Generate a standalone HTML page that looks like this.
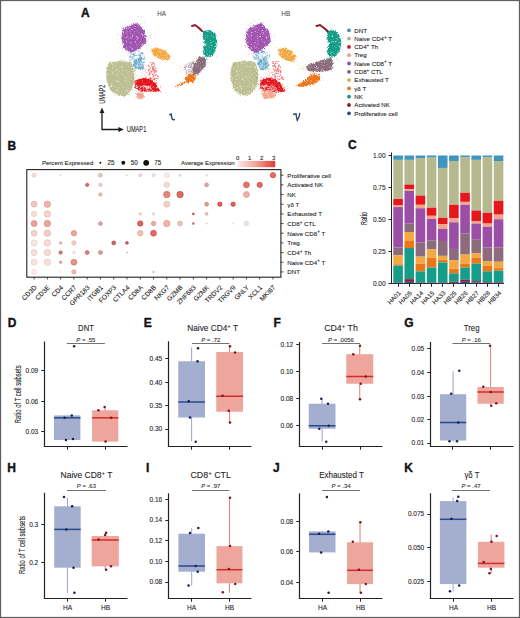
<!DOCTYPE html>
<html><head><meta charset="utf-8"><style>html,body{margin:0;padding:0;background:#fff;width:520px;height:618px;overflow:hidden;position:relative} svg,text{font-family:"Liberation Sans",sans-serif} text{stroke:#333;stroke-width:0.1px}</style></head><body>
<svg width="520" height="618" viewBox="0 0 520 618" style="position:absolute;left:0;top:0">
<rect x="0" y="0" width="520" height="618" fill="#fff"/>
<text x="80.89999999999999" y="17.3" font-size="12" text-anchor="start" font-weight="bold" fill="#111" style="stroke:#111;stroke-width:0.35px">A</text>
<text x="7.3999999999999995" y="149.6" font-size="12" text-anchor="start" font-weight="bold" fill="#111" style="stroke:#111;stroke-width:0.35px">B</text>
<text x="347.90000000000003" y="149.1" font-size="12" text-anchor="start" font-weight="bold" fill="#111" style="stroke:#111;stroke-width:0.35px">C</text>
<text x="7.8" y="326.6" font-size="12" text-anchor="start" font-weight="bold" fill="#111" style="stroke:#111;stroke-width:0.35px">D</text>
<text x="143.8" y="326.6" font-size="12" text-anchor="start" font-weight="bold" fill="#111" style="stroke:#111;stroke-width:0.35px">E</text>
<text x="273.6" y="326.6" font-size="12" text-anchor="start" font-weight="bold" fill="#111" style="stroke:#111;stroke-width:0.35px">F</text>
<text x="404.2" y="326.70000000000005" font-size="12" text-anchor="start" font-weight="bold" fill="#111" style="stroke:#111;stroke-width:0.35px">G</text>
<text x="7.3" y="471.6" font-size="12" text-anchor="start" font-weight="bold" fill="#111" style="stroke:#111;stroke-width:0.35px">H</text>
<text x="146.0" y="471.6" font-size="12" text-anchor="start" font-weight="bold" fill="#111" style="stroke:#111;stroke-width:0.35px">I</text>
<text x="273.0" y="471.6" font-size="12" text-anchor="start" font-weight="bold" fill="#111" style="stroke:#111;stroke-width:0.35px">J</text>
<text x="404.3" y="471.6" font-size="12" text-anchor="start" font-weight="bold" fill="#111" style="stroke:#111;stroke-width:0.35px">K</text>
<text x="161.5" y="15.6" font-size="6.8" text-anchor="middle" font-weight="normal" fill="#3a3a3a" textLength="8.7" lengthAdjust="spacingAndGlyphs" style="stroke:none">HA</text>
<text x="285.8" y="15.6" font-size="6.8" text-anchor="middle" font-weight="normal" fill="#3a3a3a" textLength="9" lengthAdjust="spacingAndGlyphs" style="stroke:none">HB</text>
<circle cx="349" cy="30.30" r="1.9" fill="#4a8eb4"/>
<text x="354.3" y="32.55" font-size="6.15" text-anchor="start" font-weight="normal" fill="#1a1a1a" >DNT</text>
<circle cx="349" cy="38.60" r="1.9" fill="#a8b08c"/>
<text x="354.3" y="40.85" font-size="6.15" text-anchor="start" font-weight="normal" fill="#1a1a1a" >Naive CD4<tspan dy="-2.3" font-size="4.6">+</tspan><tspan dy="2.3"> T</tspan></text>
<circle cx="349" cy="46.90" r="1.9" fill="#c81a2a"/>
<text x="354.3" y="49.150000000000006" font-size="6.15" text-anchor="start" font-weight="normal" fill="#1a1a1a" >CD4<tspan dy="-2.3" font-size="4.6">+</tspan><tspan dy="2.3"> Th</tspan></text>
<circle cx="349" cy="55.20" r="1.9" fill="#e9a088"/>
<text x="354.3" y="57.45" font-size="6.15" text-anchor="start" font-weight="normal" fill="#1a1a1a" >Treg</text>
<circle cx="349" cy="63.50" r="1.9" fill="#9850a0"/>
<text x="354.3" y="65.75" font-size="6.15" text-anchor="start" font-weight="normal" fill="#1a1a1a" >Naive CD8<tspan dy="-2.3" font-size="4.6">+</tspan><tspan dy="2.3"> T</tspan></text>
<circle cx="349" cy="71.80" r="1.9" fill="#7f6577"/>
<text x="354.3" y="74.05" font-size="6.15" text-anchor="start" font-weight="normal" fill="#1a1a1a" >CD8<tspan dy="-2.3" font-size="4.6">+</tspan><tspan dy="2.3"> CTL</tspan></text>
<circle cx="349" cy="80.10" r="1.9" fill="#e3a650"/>
<text x="354.3" y="82.35000000000001" font-size="6.15" text-anchor="start" font-weight="normal" fill="#1a1a1a" >Exhausted T</text>
<circle cx="349" cy="88.40" r="1.9" fill="#de7a28"/>
<text x="354.3" y="90.65" font-size="6.15" text-anchor="start" font-weight="normal" fill="#1a1a1a" >&#947;&#948; T</text>
<circle cx="349" cy="96.70" r="1.9" fill="#1f9686"/>
<text x="354.3" y="98.95" font-size="6.15" text-anchor="start" font-weight="normal" fill="#1a1a1a" >NK</text>
<circle cx="349" cy="105.00" r="1.9" fill="#8a1f2a"/>
<text x="354.3" y="107.25" font-size="6.15" text-anchor="start" font-weight="normal" fill="#1a1a1a" >Activated NK</text>
<circle cx="349" cy="113.30" r="1.9" fill="#2d4f8a"/>
<text x="354.3" y="115.55" font-size="6.15" text-anchor="start" font-weight="normal" fill="#1a1a1a" >Proliferative cell</text>
<path d="M102 111 L102 129.5 L120 129.5" fill="none" stroke="#1a1a1a" stroke-width="1.3"/>
<path d="M102 107.6 L99.6 113 L104.4 113 Z" fill="#1a1a1a"/>
<path d="M123.8 129.5 L118.4 127.1 L118.4 131.9 Z" fill="#1a1a1a"/>
<text x="0" y="0" font-size="8.6" text-anchor="start" font-weight="normal" fill="#222" transform="translate(105.3,103.7) rotate(-90)" textLength="19" lengthAdjust="spacingAndGlyphs">UMAP2</text>
<text x="126.8" y="132.2" font-size="8.6" text-anchor="start" font-weight="normal" fill="#222" textLength="19.5" lengthAdjust="spacingAndGlyphs">UMAP1</text>
<defs><filter id="fz" x="-30%" y="-30%" width="160%" height="160%"><feTurbulence type="fractalNoise" baseFrequency="1.1" numOctaves="2" seed="4" result="n"/><feDisplacementMap in="SourceGraphic" in2="n" scale="3.5" xChannelSelector="R" yChannelSelector="G" result="d"/><feTurbulence type="fractalNoise" baseFrequency="1.8" numOctaves="1" seed="9" result="n2"/><feColorMatrix in="n2" type="matrix" values="0 0 0 0 0  0 0 0 0 0  0 0 0 0 0  0 0 0 3.5 -0.5" result="m"/><feComposite in="d" in2="m" operator="in" result="c"/><feGaussianBlur in="c" stdDeviation="0.3"/></filter><filter id="fb"><feGaussianBlur stdDeviation="0.3"/></filter></defs>
<path d="M123,28.8 L137,22.5 L144.6,31 L146.5,42 L139,49 L131,53 L124,48 L121.5,40 Z" fill="#a255b0" filter="url(#fz)"/>
<g fill="#a255b0" opacity="0.75"><circle cx="132.7" cy="39.6" r="0.45"/><circle cx="146.0" cy="36.4" r="0.45"/><circle cx="134.3" cy="40.6" r="0.45"/><circle cx="125.3" cy="38.0" r="0.45"/><circle cx="137.7" cy="47.6" r="0.45"/><circle cx="122.7" cy="30.8" r="0.45"/><circle cx="122.6" cy="48.1" r="0.45"/><circle cx="138.4" cy="41.5" r="0.45"/><circle cx="134.9" cy="22.5" r="0.45"/><circle cx="125.4" cy="28.8" r="0.45"/><circle cx="120.9" cy="36.3" r="0.45"/><circle cx="132.4" cy="49.3" r="0.45"/><circle cx="134.6" cy="42.4" r="0.45"/><circle cx="134.1" cy="43.1" r="0.45"/><circle cx="132.9" cy="30.0" r="0.45"/><circle cx="143.6" cy="44.7" r="0.45"/><circle cx="128.9" cy="28.3" r="0.45"/><circle cx="141.5" cy="34.2" r="0.45"/><circle cx="143.8" cy="33.7" r="0.45"/><circle cx="145.6" cy="36.5" r="0.45"/><circle cx="122.1" cy="42.0" r="0.45"/><circle cx="141.9" cy="29.7" r="0.45"/><circle cx="122.5" cy="31.8" r="0.45"/><circle cx="123.4" cy="28.9" r="0.45"/><circle cx="142.4" cy="26.6" r="0.45"/><circle cx="135.7" cy="35.8" r="0.45"/><circle cx="125.4" cy="45.5" r="0.45"/><circle cx="123.7" cy="42.5" r="0.45"/><circle cx="123.3" cy="34.9" r="0.45"/><circle cx="126.0" cy="29.7" r="0.45"/><circle cx="128.6" cy="50.7" r="0.45"/><circle cx="126.0" cy="34.0" r="0.45"/><circle cx="144.0" cy="42.4" r="0.45"/><circle cx="126.1" cy="29.3" r="0.45"/><circle cx="141.7" cy="31.7" r="0.45"/><circle cx="122.6" cy="40.4" r="0.45"/><circle cx="126.9" cy="41.0" r="0.45"/><circle cx="130.5" cy="36.0" r="0.45"/><circle cx="146.9" cy="37.0" r="0.45"/><circle cx="136.2" cy="50.1" r="0.45"/><circle cx="127.1" cy="27.0" r="0.45"/><circle cx="144.8" cy="41.1" r="0.45"/><circle cx="131.9" cy="24.0" r="0.45"/><circle cx="126.8" cy="44.6" r="0.45"/><circle cx="127.3" cy="48.6" r="0.45"/><circle cx="136.8" cy="30.5" r="0.45"/><circle cx="125.0" cy="45.1" r="0.45"/><circle cx="122.0" cy="28.3" r="0.45"/><circle cx="135.7" cy="49.6" r="0.45"/><circle cx="137.3" cy="30.1" r="0.45"/><circle cx="125.0" cy="33.1" r="0.45"/><circle cx="136.1" cy="25.0" r="0.45"/><circle cx="130.2" cy="50.9" r="0.45"/><circle cx="139.4" cy="40.4" r="0.45"/><circle cx="133.6" cy="45.4" r="0.45"/><circle cx="122.2" cy="39.1" r="0.45"/><circle cx="140.7" cy="44.5" r="0.45"/><circle cx="129.9" cy="43.9" r="0.45"/><circle cx="131.8" cy="47.5" r="0.45"/><circle cx="144.3" cy="40.1" r="0.45"/></g>
<g fill="#a255b0" opacity="0.55"><circle cx="138.7" cy="32.0" r="0.4"/><circle cx="137.2" cy="41.8" r="0.4"/><circle cx="119.4" cy="43.1" r="0.4"/><circle cx="142.4" cy="32.3" r="0.4"/><circle cx="142.6" cy="40.6" r="0.4"/><circle cx="132.2" cy="51.8" r="0.4"/><circle cx="119.5" cy="47.9" r="0.4"/><circle cx="117.6" cy="41.5" r="0.4"/><circle cx="133.6" cy="25.4" r="0.4"/><circle cx="141.3" cy="37.0" r="0.4"/><circle cx="127.2" cy="44.8" r="0.4"/><circle cx="123.7" cy="22.8" r="0.4"/><circle cx="148.7" cy="44.0" r="0.4"/><circle cx="132.2" cy="54.1" r="0.4"/><circle cx="128.1" cy="44.3" r="0.4"/><circle cx="123.6" cy="34.1" r="0.4"/><circle cx="147.8" cy="32.1" r="0.4"/><circle cx="137.2" cy="29.2" r="0.4"/><circle cx="121.4" cy="37.0" r="0.4"/><circle cx="126.4" cy="22.8" r="0.4"/><circle cx="132.5" cy="27.4" r="0.4"/><circle cx="124.1" cy="33.4" r="0.4"/><circle cx="138.7" cy="36.8" r="0.4"/><circle cx="127.7" cy="51.8" r="0.4"/><circle cx="141.7" cy="40.2" r="0.4"/><circle cx="127.5" cy="49.7" r="0.4"/><circle cx="146.0" cy="25.7" r="0.4"/><circle cx="138.9" cy="34.8" r="0.4"/><circle cx="138.9" cy="43.8" r="0.4"/><circle cx="140.8" cy="24.1" r="0.4"/><circle cx="133.4" cy="23.2" r="0.4"/><circle cx="141.9" cy="23.2" r="0.4"/><circle cx="126.2" cy="30.4" r="0.4"/><circle cx="141.3" cy="38.0" r="0.4"/><circle cx="138.3" cy="48.2" r="0.4"/><circle cx="130.5" cy="49.7" r="0.4"/><circle cx="121.1" cy="35.1" r="0.4"/><circle cx="129.9" cy="40.1" r="0.4"/><circle cx="150.1" cy="35.5" r="0.4"/><circle cx="139.7" cy="24.3" r="0.4"/><circle cx="142.2" cy="50.9" r="0.4"/><circle cx="139.3" cy="46.5" r="0.4"/><circle cx="124.1" cy="54.4" r="0.4"/><circle cx="135.6" cy="49.7" r="0.4"/><circle cx="127.9" cy="54.9" r="0.4"/><circle cx="146.9" cy="30.5" r="0.4"/><circle cx="119.5" cy="34.5" r="0.4"/><circle cx="136.1" cy="48.7" r="0.4"/><circle cx="144.9" cy="22.9" r="0.4"/><circle cx="128.4" cy="49.6" r="0.4"/><circle cx="134.9" cy="46.8" r="0.4"/><circle cx="146.4" cy="45.3" r="0.4"/><circle cx="150.1" cy="36.8" r="0.4"/><circle cx="124.4" cy="38.3" r="0.4"/><circle cx="126.8" cy="47.0" r="0.4"/><circle cx="139.2" cy="38.1" r="0.4"/><circle cx="146.5" cy="39.7" r="0.4"/><circle cx="127.6" cy="32.0" r="0.4"/><circle cx="123.9" cy="52.3" r="0.4"/><circle cx="150.9" cy="38.2" r="0.4"/><circle cx="136.9" cy="24.2" r="0.4"/><circle cx="135.6" cy="37.2" r="0.4"/><circle cx="138.0" cy="16.7" r="0.4"/><circle cx="150.9" cy="37.8" r="0.4"/><circle cx="130.8" cy="50.1" r="0.4"/><circle cx="136.5" cy="36.7" r="0.4"/><circle cx="141.1" cy="18.3" r="0.4"/><circle cx="135.7" cy="33.4" r="0.4"/><circle cx="126.1" cy="35.9" r="0.4"/><circle cx="121.0" cy="34.2" r="0.4"/><circle cx="133.5" cy="29.2" r="0.4"/><circle cx="123.3" cy="42.2" r="0.4"/></g>
<path d="M109,62.5 L122,60.5 L131,62 L134.3,70 L134.3,84 L130,92 L125,96.5 L117,95.5 L110,90 L106.5,80 L106,70 Z" fill="#bcbf92" filter="url(#fz)"/>
<g fill="#bcbf92" opacity="0.75"><circle cx="133.1" cy="64.1" r="0.45"/><circle cx="110.8" cy="67.9" r="0.45"/><circle cx="125.8" cy="71.6" r="0.45"/><circle cx="115.7" cy="83.2" r="0.45"/><circle cx="108.0" cy="87.5" r="0.45"/><circle cx="108.6" cy="78.9" r="0.45"/><circle cx="112.5" cy="66.8" r="0.45"/><circle cx="121.1" cy="76.0" r="0.45"/><circle cx="116.3" cy="75.1" r="0.45"/><circle cx="121.0" cy="65.3" r="0.45"/><circle cx="111.1" cy="83.6" r="0.45"/><circle cx="124.4" cy="79.7" r="0.45"/><circle cx="130.9" cy="82.8" r="0.45"/><circle cx="131.0" cy="68.1" r="0.45"/><circle cx="127.5" cy="90.6" r="0.45"/><circle cx="132.4" cy="71.3" r="0.45"/><circle cx="114.5" cy="94.9" r="0.45"/><circle cx="132.0" cy="64.3" r="0.45"/><circle cx="112.2" cy="87.3" r="0.45"/><circle cx="112.8" cy="62.8" r="0.45"/><circle cx="130.3" cy="75.5" r="0.45"/><circle cx="129.0" cy="64.0" r="0.45"/><circle cx="117.2" cy="85.7" r="0.45"/><circle cx="125.7" cy="94.5" r="0.45"/><circle cx="120.3" cy="88.5" r="0.45"/><circle cx="120.2" cy="85.7" r="0.45"/><circle cx="110.6" cy="61.8" r="0.45"/><circle cx="121.7" cy="79.1" r="0.45"/><circle cx="122.2" cy="64.8" r="0.45"/><circle cx="110.5" cy="67.0" r="0.45"/><circle cx="119.0" cy="88.8" r="0.45"/><circle cx="114.8" cy="77.2" r="0.45"/><circle cx="120.6" cy="75.8" r="0.45"/><circle cx="123.2" cy="59.6" r="0.45"/><circle cx="126.3" cy="91.9" r="0.45"/><circle cx="110.4" cy="76.7" r="0.45"/><circle cx="127.4" cy="74.8" r="0.45"/><circle cx="110.8" cy="65.5" r="0.45"/><circle cx="120.5" cy="59.7" r="0.45"/><circle cx="132.1" cy="90.2" r="0.45"/><circle cx="126.4" cy="92.5" r="0.45"/><circle cx="124.1" cy="74.8" r="0.45"/><circle cx="123.2" cy="78.7" r="0.45"/><circle cx="127.6" cy="89.3" r="0.45"/><circle cx="129.7" cy="74.8" r="0.45"/><circle cx="126.1" cy="88.9" r="0.45"/><circle cx="128.2" cy="74.8" r="0.45"/><circle cx="126.9" cy="61.8" r="0.45"/><circle cx="115.3" cy="77.3" r="0.45"/><circle cx="105.2" cy="72.9" r="0.45"/><circle cx="124.4" cy="83.3" r="0.45"/><circle cx="125.2" cy="72.2" r="0.45"/><circle cx="125.0" cy="81.2" r="0.45"/><circle cx="121.1" cy="74.2" r="0.45"/><circle cx="135.4" cy="84.0" r="0.45"/><circle cx="126.3" cy="88.7" r="0.45"/><circle cx="123.7" cy="87.8" r="0.45"/><circle cx="112.7" cy="74.7" r="0.45"/><circle cx="106.4" cy="66.7" r="0.45"/><circle cx="116.3" cy="62.9" r="0.45"/></g>
<g fill="#bcbf92" opacity="0.55"><circle cx="122.0" cy="78.9" r="0.4"/><circle cx="138.3" cy="81.9" r="0.4"/><circle cx="139.4" cy="85.4" r="0.4"/><circle cx="132.1" cy="57.5" r="0.4"/><circle cx="123.8" cy="91.4" r="0.4"/><circle cx="106.7" cy="77.1" r="0.4"/><circle cx="107.1" cy="78.3" r="0.4"/><circle cx="124.4" cy="56.6" r="0.4"/><circle cx="137.4" cy="74.6" r="0.4"/><circle cx="121.1" cy="83.4" r="0.4"/><circle cx="114.8" cy="67.9" r="0.4"/><circle cx="126.1" cy="81.5" r="0.4"/><circle cx="111.6" cy="89.3" r="0.4"/><circle cx="110.1" cy="55.8" r="0.4"/><circle cx="106.6" cy="91.2" r="0.4"/><circle cx="115.7" cy="98.3" r="0.4"/><circle cx="129.7" cy="56.2" r="0.4"/><circle cx="117.3" cy="77.4" r="0.4"/><circle cx="138.5" cy="65.8" r="0.4"/><circle cx="120.9" cy="100.2" r="0.4"/><circle cx="128.7" cy="76.9" r="0.4"/><circle cx="124.1" cy="59.4" r="0.4"/><circle cx="124.9" cy="76.3" r="0.4"/><circle cx="108.5" cy="56.3" r="0.4"/><circle cx="121.1" cy="59.9" r="0.4"/><circle cx="117.8" cy="86.9" r="0.4"/><circle cx="118.3" cy="66.7" r="0.4"/><circle cx="123.2" cy="74.5" r="0.4"/><circle cx="130.9" cy="80.0" r="0.4"/><circle cx="129.2" cy="65.5" r="0.4"/><circle cx="131.1" cy="84.7" r="0.4"/><circle cx="114.5" cy="67.2" r="0.4"/><circle cx="127.3" cy="81.7" r="0.4"/><circle cx="123.6" cy="85.1" r="0.4"/><circle cx="129.9" cy="63.1" r="0.4"/><circle cx="111.1" cy="74.8" r="0.4"/><circle cx="124.8" cy="58.8" r="0.4"/><circle cx="121.7" cy="57.3" r="0.4"/><circle cx="103.9" cy="87.3" r="0.4"/><circle cx="122.0" cy="85.0" r="0.4"/><circle cx="115.1" cy="77.5" r="0.4"/><circle cx="108.7" cy="70.8" r="0.4"/><circle cx="129.6" cy="95.3" r="0.4"/><circle cx="103.4" cy="59.6" r="0.4"/><circle cx="132.1" cy="84.7" r="0.4"/><circle cx="130.5" cy="64.3" r="0.4"/><circle cx="117.1" cy="66.5" r="0.4"/><circle cx="132.1" cy="72.0" r="0.4"/><circle cx="126.0" cy="102.8" r="0.4"/><circle cx="113.2" cy="80.9" r="0.4"/><circle cx="129.6" cy="99.4" r="0.4"/><circle cx="117.2" cy="72.0" r="0.4"/><circle cx="122.5" cy="77.8" r="0.4"/><circle cx="127.3" cy="68.5" r="0.4"/><circle cx="130.8" cy="57.5" r="0.4"/><circle cx="108.8" cy="86.6" r="0.4"/><circle cx="103.7" cy="68.8" r="0.4"/><circle cx="128.8" cy="88.2" r="0.4"/><circle cx="111.6" cy="60.8" r="0.4"/><circle cx="114.5" cy="89.7" r="0.4"/><circle cx="114.8" cy="59.5" r="0.4"/><circle cx="128.2" cy="82.0" r="0.4"/><circle cx="136.2" cy="75.4" r="0.4"/><circle cx="131.9" cy="68.8" r="0.4"/><circle cx="112.9" cy="73.5" r="0.4"/><circle cx="110.2" cy="71.6" r="0.4"/><circle cx="114.8" cy="71.7" r="0.4"/><circle cx="116.0" cy="72.9" r="0.4"/><circle cx="108.1" cy="81.7" r="0.4"/><circle cx="131.6" cy="80.5" r="0.4"/><circle cx="133.2" cy="81.6" r="0.4"/><circle cx="107.4" cy="91.4" r="0.4"/></g>
<path d="M135.5,80 L146,77.5 L155,82 L160.5,91.5 L150,92 L140,91.5 L135,88 Z" fill="#e5161c" filter="url(#fz)"/>
<g fill="#e5161c" opacity="0.75"><circle cx="134.3" cy="84.8" r="0.45"/><circle cx="149.2" cy="85.7" r="0.45"/><circle cx="149.3" cy="89.3" r="0.45"/><circle cx="154.7" cy="91.1" r="0.45"/><circle cx="136.1" cy="86.8" r="0.45"/><circle cx="137.8" cy="88.6" r="0.45"/><circle cx="152.2" cy="80.5" r="0.45"/><circle cx="140.0" cy="88.9" r="0.45"/><circle cx="148.6" cy="88.9" r="0.45"/><circle cx="144.9" cy="82.0" r="0.45"/><circle cx="147.8" cy="85.2" r="0.45"/><circle cx="154.3" cy="88.0" r="0.45"/><circle cx="157.3" cy="87.3" r="0.45"/><circle cx="158.1" cy="89.6" r="0.45"/><circle cx="157.5" cy="90.9" r="0.45"/><circle cx="148.6" cy="88.0" r="0.45"/><circle cx="156.6" cy="83.3" r="0.45"/><circle cx="145.7" cy="78.8" r="0.45"/><circle cx="144.4" cy="79.2" r="0.45"/><circle cx="139.5" cy="83.4" r="0.45"/><circle cx="142.0" cy="92.2" r="0.45"/><circle cx="135.4" cy="81.5" r="0.45"/><circle cx="137.0" cy="87.0" r="0.45"/><circle cx="135.5" cy="83.9" r="0.45"/><circle cx="150.4" cy="91.2" r="0.45"/><circle cx="139.0" cy="80.0" r="0.45"/><circle cx="140.4" cy="88.1" r="0.45"/><circle cx="150.7" cy="80.1" r="0.45"/><circle cx="139.0" cy="81.0" r="0.45"/><circle cx="138.6" cy="88.8" r="0.45"/><circle cx="142.6" cy="85.4" r="0.45"/><circle cx="157.0" cy="84.3" r="0.45"/><circle cx="141.1" cy="90.9" r="0.45"/><circle cx="149.3" cy="92.0" r="0.45"/><circle cx="147.5" cy="80.1" r="0.45"/><circle cx="156.6" cy="82.7" r="0.45"/><circle cx="148.7" cy="84.8" r="0.45"/><circle cx="152.5" cy="80.3" r="0.45"/><circle cx="134.0" cy="84.1" r="0.45"/><circle cx="144.3" cy="89.4" r="0.45"/><circle cx="154.1" cy="86.3" r="0.45"/><circle cx="138.2" cy="79.0" r="0.45"/><circle cx="142.9" cy="80.7" r="0.45"/><circle cx="151.9" cy="92.6" r="0.45"/><circle cx="141.3" cy="85.2" r="0.45"/><circle cx="138.0" cy="89.0" r="0.45"/><circle cx="157.8" cy="89.8" r="0.45"/><circle cx="136.0" cy="80.9" r="0.45"/><circle cx="147.4" cy="84.1" r="0.45"/><circle cx="156.2" cy="83.2" r="0.45"/></g>
<g fill="#e5161c" opacity="0.55"><circle cx="150.1" cy="84.7" r="0.4"/><circle cx="136.1" cy="91.0" r="0.4"/><circle cx="141.7" cy="80.3" r="0.4"/><circle cx="133.1" cy="80.2" r="0.4"/><circle cx="147.3" cy="88.6" r="0.4"/><circle cx="143.4" cy="88.0" r="0.4"/><circle cx="134.2" cy="82.0" r="0.4"/><circle cx="147.1" cy="93.8" r="0.4"/><circle cx="160.4" cy="87.4" r="0.4"/><circle cx="130.8" cy="81.7" r="0.4"/><circle cx="150.8" cy="83.3" r="0.4"/><circle cx="152.7" cy="79.9" r="0.4"/><circle cx="144.0" cy="85.0" r="0.4"/><circle cx="141.2" cy="80.8" r="0.4"/><circle cx="144.6" cy="87.6" r="0.4"/><circle cx="139.7" cy="78.0" r="0.4"/><circle cx="156.9" cy="80.7" r="0.4"/><circle cx="156.6" cy="80.7" r="0.4"/><circle cx="154.9" cy="88.5" r="0.4"/><circle cx="136.9" cy="82.2" r="0.4"/><circle cx="160.7" cy="86.1" r="0.4"/><circle cx="133.6" cy="78.6" r="0.4"/><circle cx="136.1" cy="76.5" r="0.4"/><circle cx="145.1" cy="75.4" r="0.4"/><circle cx="148.9" cy="87.2" r="0.4"/><circle cx="158.1" cy="90.8" r="0.4"/><circle cx="144.4" cy="80.7" r="0.4"/><circle cx="145.3" cy="74.2" r="0.4"/><circle cx="144.9" cy="88.3" r="0.4"/><circle cx="154.3" cy="86.4" r="0.4"/><circle cx="131.1" cy="80.7" r="0.4"/><circle cx="142.8" cy="87.3" r="0.4"/><circle cx="134.2" cy="81.7" r="0.4"/><circle cx="148.8" cy="90.1" r="0.4"/><circle cx="160.3" cy="86.5" r="0.4"/><circle cx="136.1" cy="89.7" r="0.4"/><circle cx="143.1" cy="84.2" r="0.4"/><circle cx="135.5" cy="88.6" r="0.4"/><circle cx="156.3" cy="91.1" r="0.4"/><circle cx="137.5" cy="93.4" r="0.4"/><circle cx="153.1" cy="78.0" r="0.4"/><circle cx="133.4" cy="78.9" r="0.4"/><circle cx="151.3" cy="88.3" r="0.4"/><circle cx="142.3" cy="93.0" r="0.4"/><circle cx="143.5" cy="83.4" r="0.4"/><circle cx="150.1" cy="85.4" r="0.4"/><circle cx="150.7" cy="79.3" r="0.4"/><circle cx="160.0" cy="86.3" r="0.4"/><circle cx="134.8" cy="90.9" r="0.4"/><circle cx="140.8" cy="92.4" r="0.4"/><circle cx="139.1" cy="85.7" r="0.4"/><circle cx="131.5" cy="77.6" r="0.4"/><circle cx="166.1" cy="93.2" r="0.4"/><circle cx="154.2" cy="80.2" r="0.4"/><circle cx="154.7" cy="89.1" r="0.4"/><circle cx="144.2" cy="86.1" r="0.4"/><circle cx="137.6" cy="83.5" r="0.4"/><circle cx="135.6" cy="81.9" r="0.4"/><circle cx="151.0" cy="77.5" r="0.4"/><circle cx="149.2" cy="79.3" r="0.4"/></g>
<path d="M136,93.5 L139,92.5 L142.5,93 L144.5,95.5 L143.5,98.3 L140,99 L136.5,98 Z" fill="#f2a58a" filter="url(#fz)"/>
<g fill="#f2a58a" opacity="0.75"><circle cx="140.9" cy="94.6" r="0.45"/><circle cx="141.8" cy="93.2" r="0.45"/><circle cx="144.5" cy="96.5" r="0.45"/><circle cx="140.0" cy="95.1" r="0.45"/><circle cx="141.4" cy="97.1" r="0.45"/><circle cx="142.7" cy="97.6" r="0.45"/><circle cx="140.1" cy="99.3" r="0.45"/><circle cx="143.4" cy="98.3" r="0.45"/><circle cx="139.4" cy="95.3" r="0.45"/><circle cx="140.9" cy="98.7" r="0.45"/><circle cx="140.5" cy="95.9" r="0.45"/><circle cx="139.6" cy="98.6" r="0.45"/></g>
<g fill="#f2a58a" opacity="0.55"><circle cx="138.1" cy="91.7" r="0.4"/><circle cx="142.9" cy="99.4" r="0.4"/><circle cx="143.0" cy="96.7" r="0.4"/><circle cx="143.2" cy="94.0" r="0.4"/><circle cx="141.3" cy="91.9" r="0.4"/><circle cx="135.8" cy="95.3" r="0.4"/><circle cx="140.3" cy="94.8" r="0.4"/><circle cx="134.9" cy="97.5" r="0.4"/><circle cx="140.5" cy="93.4" r="0.4"/><circle cx="137.9" cy="94.8" r="0.4"/><circle cx="137.1" cy="91.8" r="0.4"/><circle cx="142.2" cy="99.1" r="0.4"/><circle cx="139.3" cy="98.6" r="0.4"/><circle cx="136.9" cy="98.0" r="0.4"/></g>
<path d="M151,50 L156,47.5 L165,50.5 L170.5,56.5 L168,60.5 L160,59 L153,55.5 Z" fill="#f2a942" filter="url(#fz)"/>
<g fill="#f2a942" opacity="0.75"><circle cx="162.3" cy="60.0" r="0.45"/><circle cx="152.4" cy="54.5" r="0.45"/><circle cx="155.0" cy="51.0" r="0.45"/><circle cx="156.9" cy="47.4" r="0.45"/><circle cx="169.6" cy="58.7" r="0.45"/><circle cx="158.5" cy="51.8" r="0.45"/><circle cx="156.5" cy="53.9" r="0.45"/><circle cx="160.2" cy="49.6" r="0.45"/><circle cx="160.2" cy="49.1" r="0.45"/><circle cx="154.1" cy="55.9" r="0.45"/><circle cx="165.9" cy="51.2" r="0.45"/><circle cx="169.8" cy="59.5" r="0.45"/><circle cx="165.2" cy="60.5" r="0.45"/><circle cx="154.6" cy="51.1" r="0.45"/><circle cx="153.6" cy="50.0" r="0.45"/><circle cx="164.5" cy="58.3" r="0.45"/><circle cx="157.9" cy="56.4" r="0.45"/><circle cx="169.4" cy="55.3" r="0.45"/><circle cx="154.7" cy="51.0" r="0.45"/><circle cx="170.4" cy="56.5" r="0.45"/><circle cx="155.8" cy="56.1" r="0.45"/><circle cx="159.4" cy="54.4" r="0.45"/><circle cx="163.0" cy="50.7" r="0.45"/><circle cx="151.5" cy="50.8" r="0.45"/><circle cx="155.8" cy="54.7" r="0.45"/><circle cx="159.9" cy="57.7" r="0.45"/><circle cx="160.8" cy="49.2" r="0.45"/><circle cx="162.0" cy="56.1" r="0.45"/><circle cx="157.6" cy="56.3" r="0.45"/><circle cx="167.1" cy="54.2" r="0.45"/><circle cx="160.9" cy="59.1" r="0.45"/><circle cx="164.9" cy="54.3" r="0.45"/><circle cx="163.2" cy="50.0" r="0.45"/><circle cx="159.5" cy="58.0" r="0.45"/><circle cx="167.2" cy="58.3" r="0.45"/><circle cx="154.9" cy="53.8" r="0.45"/><circle cx="154.5" cy="55.2" r="0.45"/><circle cx="163.0" cy="57.2" r="0.45"/><circle cx="162.4" cy="59.5" r="0.45"/><circle cx="153.6" cy="48.8" r="0.45"/></g>
<g fill="#f2a942" opacity="0.55"><circle cx="159.0" cy="52.8" r="0.4"/><circle cx="162.8" cy="54.7" r="0.4"/><circle cx="150.9" cy="50.3" r="0.4"/><circle cx="147.9" cy="50.4" r="0.4"/><circle cx="164.3" cy="54.4" r="0.4"/><circle cx="154.2" cy="55.6" r="0.4"/><circle cx="151.6" cy="49.3" r="0.4"/><circle cx="170.2" cy="59.3" r="0.4"/><circle cx="148.5" cy="52.2" r="0.4"/><circle cx="157.0" cy="48.6" r="0.4"/><circle cx="160.6" cy="58.8" r="0.4"/><circle cx="159.6" cy="58.5" r="0.4"/><circle cx="147.8" cy="49.0" r="0.4"/><circle cx="157.8" cy="50.1" r="0.4"/><circle cx="168.3" cy="58.3" r="0.4"/><circle cx="153.2" cy="49.3" r="0.4"/><circle cx="162.3" cy="49.0" r="0.4"/><circle cx="157.0" cy="50.8" r="0.4"/><circle cx="156.4" cy="57.6" r="0.4"/><circle cx="171.2" cy="55.6" r="0.4"/><circle cx="157.5" cy="59.2" r="0.4"/><circle cx="152.8" cy="51.0" r="0.4"/><circle cx="151.9" cy="54.8" r="0.4"/><circle cx="151.4" cy="48.3" r="0.4"/><circle cx="152.8" cy="53.3" r="0.4"/><circle cx="155.4" cy="52.9" r="0.4"/><circle cx="157.6" cy="45.9" r="0.4"/><circle cx="166.3" cy="51.3" r="0.4"/><circle cx="154.5" cy="44.8" r="0.4"/><circle cx="151.9" cy="49.4" r="0.4"/><circle cx="166.9" cy="49.5" r="0.4"/><circle cx="156.9" cy="47.4" r="0.4"/><circle cx="168.4" cy="58.1" r="0.4"/><circle cx="155.8" cy="51.7" r="0.4"/><circle cx="155.9" cy="59.0" r="0.4"/><circle cx="157.9" cy="49.0" r="0.4"/><circle cx="155.6" cy="52.5" r="0.4"/><circle cx="166.7" cy="49.4" r="0.4"/><circle cx="167.2" cy="57.0" r="0.4"/><circle cx="150.9" cy="48.3" r="0.4"/><circle cx="154.7" cy="57.9" r="0.4"/><circle cx="158.2" cy="51.8" r="0.4"/><circle cx="155.0" cy="51.0" r="0.4"/><circle cx="152.8" cy="45.2" r="0.4"/><circle cx="162.7" cy="59.7" r="0.4"/><circle cx="165.7" cy="61.8" r="0.4"/><circle cx="152.8" cy="57.5" r="0.4"/><circle cx="158.8" cy="51.9" r="0.4"/></g>
<path d="M203,31 L210,30 L215,34 L217,42 L216,50 L212,56 L206,57 L203,52 L205,44 L203,38 Z" fill="#159d8a" filter="url(#fz)"/>
<g fill="#159d8a" opacity="0.75"><circle cx="203.3" cy="40.0" r="0.45"/><circle cx="207.5" cy="43.4" r="0.45"/><circle cx="206.7" cy="33.4" r="0.45"/><circle cx="208.6" cy="42.8" r="0.45"/><circle cx="205.0" cy="48.4" r="0.45"/><circle cx="206.1" cy="31.4" r="0.45"/><circle cx="207.7" cy="41.2" r="0.45"/><circle cx="204.7" cy="46.0" r="0.45"/><circle cx="213.2" cy="45.1" r="0.45"/><circle cx="208.4" cy="39.5" r="0.45"/><circle cx="211.4" cy="42.6" r="0.45"/><circle cx="207.4" cy="36.2" r="0.45"/><circle cx="216.1" cy="45.5" r="0.45"/><circle cx="206.4" cy="48.5" r="0.45"/><circle cx="205.3" cy="42.6" r="0.45"/><circle cx="211.9" cy="57.0" r="0.45"/><circle cx="208.0" cy="45.8" r="0.45"/><circle cx="212.1" cy="47.1" r="0.45"/><circle cx="208.7" cy="41.0" r="0.45"/><circle cx="206.7" cy="53.3" r="0.45"/><circle cx="215.9" cy="40.0" r="0.45"/><circle cx="204.5" cy="43.7" r="0.45"/><circle cx="207.2" cy="39.4" r="0.45"/><circle cx="205.4" cy="35.4" r="0.45"/><circle cx="212.9" cy="35.6" r="0.45"/><circle cx="208.5" cy="35.8" r="0.45"/><circle cx="210.0" cy="48.0" r="0.45"/><circle cx="210.8" cy="47.2" r="0.45"/><circle cx="211.0" cy="53.3" r="0.45"/><circle cx="207.7" cy="55.0" r="0.45"/></g>
<g fill="#159d8a" opacity="0.55"><circle cx="206.7" cy="51.7" r="0.4"/><circle cx="214.2" cy="50.6" r="0.4"/><circle cx="203.7" cy="48.1" r="0.4"/><circle cx="210.2" cy="46.0" r="0.4"/><circle cx="207.8" cy="35.4" r="0.4"/><circle cx="215.3" cy="44.8" r="0.4"/><circle cx="205.2" cy="34.1" r="0.4"/><circle cx="207.0" cy="31.4" r="0.4"/><circle cx="210.7" cy="29.4" r="0.4"/><circle cx="201.8" cy="27.2" r="0.4"/><circle cx="202.6" cy="51.3" r="0.4"/><circle cx="202.8" cy="41.7" r="0.4"/><circle cx="215.7" cy="42.8" r="0.4"/><circle cx="203.8" cy="57.4" r="0.4"/><circle cx="205.6" cy="43.8" r="0.4"/><circle cx="216.2" cy="39.5" r="0.4"/><circle cx="214.6" cy="34.2" r="0.4"/><circle cx="214.6" cy="37.0" r="0.4"/><circle cx="207.1" cy="53.3" r="0.4"/><circle cx="211.7" cy="40.5" r="0.4"/><circle cx="214.5" cy="48.2" r="0.4"/><circle cx="216.9" cy="54.9" r="0.4"/><circle cx="203.1" cy="38.9" r="0.4"/><circle cx="213.7" cy="33.4" r="0.4"/><circle cx="212.1" cy="60.2" r="0.4"/><circle cx="214.1" cy="40.5" r="0.4"/><circle cx="213.0" cy="39.6" r="0.4"/><circle cx="202.9" cy="26.2" r="0.4"/><circle cx="206.2" cy="52.3" r="0.4"/><circle cx="207.1" cy="25.6" r="0.4"/><circle cx="211.2" cy="42.9" r="0.4"/><circle cx="207.9" cy="36.3" r="0.4"/><circle cx="216.3" cy="56.3" r="0.4"/><circle cx="206.2" cy="39.4" r="0.4"/><circle cx="212.7" cy="53.6" r="0.4"/><circle cx="214.2" cy="45.3" r="0.4"/></g>
<path d="M200,56.5 L206,58.5 L205.5,66 L199,73 L193.5,75.5 L192,70 L195,62 Z" fill="#8c6b7c" filter="url(#fz)"/>
<g fill="#8c6b7c" opacity="0.75"><circle cx="203.9" cy="58.3" r="0.45"/><circle cx="206.0" cy="60.6" r="0.45"/><circle cx="198.9" cy="57.7" r="0.45"/><circle cx="200.1" cy="58.2" r="0.45"/><circle cx="201.1" cy="61.1" r="0.45"/><circle cx="194.7" cy="65.6" r="0.45"/><circle cx="196.9" cy="60.8" r="0.45"/><circle cx="205.4" cy="61.8" r="0.45"/><circle cx="194.2" cy="74.0" r="0.45"/><circle cx="198.8" cy="64.1" r="0.45"/><circle cx="204.0" cy="63.7" r="0.45"/><circle cx="201.6" cy="68.7" r="0.45"/><circle cx="195.5" cy="75.6" r="0.45"/><circle cx="198.1" cy="73.3" r="0.45"/><circle cx="202.7" cy="58.9" r="0.45"/><circle cx="196.8" cy="71.6" r="0.45"/><circle cx="196.0" cy="66.3" r="0.45"/><circle cx="199.5" cy="72.8" r="0.45"/><circle cx="197.4" cy="72.6" r="0.45"/><circle cx="206.3" cy="63.9" r="0.45"/><circle cx="202.3" cy="60.6" r="0.45"/><circle cx="200.3" cy="60.1" r="0.45"/><circle cx="197.2" cy="63.2" r="0.45"/><circle cx="196.9" cy="69.0" r="0.45"/><circle cx="196.7" cy="61.2" r="0.45"/><circle cx="205.6" cy="62.1" r="0.45"/><circle cx="202.9" cy="59.7" r="0.45"/><circle cx="203.0" cy="67.0" r="0.45"/><circle cx="201.9" cy="59.0" r="0.45"/><circle cx="196.6" cy="64.5" r="0.45"/><circle cx="197.5" cy="62.1" r="0.45"/><circle cx="194.3" cy="74.3" r="0.45"/><circle cx="196.2" cy="71.6" r="0.45"/><circle cx="192.7" cy="76.7" r="0.45"/><circle cx="194.5" cy="64.0" r="0.45"/><circle cx="202.4" cy="59.0" r="0.45"/><circle cx="195.4" cy="69.9" r="0.45"/><circle cx="206.3" cy="62.1" r="0.45"/><circle cx="193.9" cy="62.9" r="0.45"/><circle cx="206.9" cy="58.3" r="0.45"/></g>
<g fill="#8c6b7c" opacity="0.55"><circle cx="201.9" cy="62.7" r="0.4"/><circle cx="202.0" cy="58.1" r="0.4"/><circle cx="199.2" cy="67.9" r="0.4"/><circle cx="191.3" cy="75.3" r="0.4"/><circle cx="203.0" cy="64.7" r="0.4"/><circle cx="202.5" cy="63.8" r="0.4"/><circle cx="196.8" cy="58.6" r="0.4"/><circle cx="201.2" cy="68.0" r="0.4"/><circle cx="201.7" cy="64.6" r="0.4"/><circle cx="201.0" cy="68.6" r="0.4"/><circle cx="207.9" cy="56.4" r="0.4"/><circle cx="204.0" cy="60.9" r="0.4"/><circle cx="197.1" cy="76.2" r="0.4"/><circle cx="191.6" cy="79.5" r="0.4"/><circle cx="198.9" cy="58.7" r="0.4"/><circle cx="205.2" cy="66.4" r="0.4"/><circle cx="194.1" cy="74.5" r="0.4"/><circle cx="198.2" cy="67.0" r="0.4"/><circle cx="206.5" cy="57.7" r="0.4"/><circle cx="194.7" cy="70.0" r="0.4"/><circle cx="205.0" cy="65.8" r="0.4"/><circle cx="193.9" cy="74.3" r="0.4"/><circle cx="205.2" cy="56.4" r="0.4"/><circle cx="196.9" cy="75.7" r="0.4"/><circle cx="193.2" cy="69.6" r="0.4"/><circle cx="193.0" cy="70.7" r="0.4"/><circle cx="195.9" cy="60.9" r="0.4"/><circle cx="201.8" cy="59.9" r="0.4"/><circle cx="201.2" cy="71.4" r="0.4"/><circle cx="203.1" cy="65.1" r="0.4"/><circle cx="196.2" cy="57.7" r="0.4"/><circle cx="203.9" cy="62.2" r="0.4"/><circle cx="195.3" cy="63.5" r="0.4"/><circle cx="191.9" cy="69.6" r="0.4"/><circle cx="197.6" cy="74.9" r="0.4"/><circle cx="197.3" cy="64.8" r="0.4"/><circle cx="196.0" cy="71.6" r="0.4"/><circle cx="193.8" cy="68.2" r="0.4"/><circle cx="194.8" cy="76.3" r="0.4"/><circle cx="194.8" cy="75.8" r="0.4"/><circle cx="202.7" cy="64.8" r="0.4"/><circle cx="207.9" cy="62.9" r="0.4"/><circle cx="204.1" cy="68.8" r="0.4"/><circle cx="197.5" cy="60.0" r="0.4"/><circle cx="194.9" cy="71.4" r="0.4"/><circle cx="202.6" cy="59.0" r="0.4"/><circle cx="197.3" cy="55.9" r="0.4"/><circle cx="207.2" cy="59.2" r="0.4"/></g>
<path d="M188,74.5 L194,73.5 L196.5,78 L193,82 L187,82.5 L185.5,79 Z" fill="#ed761a" filter="url(#fz)"/>
<g fill="#ed761a" opacity="0.75"><circle cx="190.1" cy="76.4" r="0.45"/><circle cx="192.2" cy="78.4" r="0.45"/><circle cx="189.5" cy="80.2" r="0.45"/><circle cx="193.1" cy="76.4" r="0.45"/><circle cx="185.2" cy="79.3" r="0.45"/><circle cx="190.7" cy="76.6" r="0.45"/><circle cx="190.6" cy="76.1" r="0.45"/><circle cx="193.1" cy="79.0" r="0.45"/><circle cx="195.1" cy="79.5" r="0.45"/><circle cx="189.8" cy="79.5" r="0.45"/><circle cx="187.6" cy="82.9" r="0.45"/><circle cx="187.5" cy="76.7" r="0.45"/><circle cx="186.6" cy="76.9" r="0.45"/><circle cx="194.0" cy="73.8" r="0.45"/><circle cx="186.9" cy="79.5" r="0.45"/><circle cx="192.6" cy="80.4" r="0.45"/><circle cx="188.0" cy="81.1" r="0.45"/><circle cx="193.9" cy="80.8" r="0.45"/><circle cx="186.4" cy="77.7" r="0.45"/><circle cx="191.5" cy="78.3" r="0.45"/><circle cx="186.3" cy="80.9" r="0.45"/><circle cx="188.6" cy="78.0" r="0.45"/><circle cx="186.4" cy="78.7" r="0.45"/><circle cx="191.2" cy="75.9" r="0.45"/><circle cx="194.5" cy="75.4" r="0.45"/></g>
<g fill="#ed761a" opacity="0.55"><circle cx="186.7" cy="77.3" r="0.4"/><circle cx="192.0" cy="77.4" r="0.4"/><circle cx="198.5" cy="78.2" r="0.4"/><circle cx="189.7" cy="79.3" r="0.4"/><circle cx="185.7" cy="82.0" r="0.4"/><circle cx="194.8" cy="80.6" r="0.4"/><circle cx="185.8" cy="78.3" r="0.4"/><circle cx="188.0" cy="83.9" r="0.4"/><circle cx="193.4" cy="82.3" r="0.4"/><circle cx="185.1" cy="83.2" r="0.4"/><circle cx="188.5" cy="77.8" r="0.4"/><circle cx="193.5" cy="82.8" r="0.4"/><circle cx="198.1" cy="78.8" r="0.4"/><circle cx="191.2" cy="83.1" r="0.4"/><circle cx="189.5" cy="75.3" r="0.4"/><circle cx="194.9" cy="74.8" r="0.4"/><circle cx="189.1" cy="77.0" r="0.4"/><circle cx="190.8" cy="76.1" r="0.4"/><circle cx="190.1" cy="77.3" r="0.4"/><circle cx="184.3" cy="78.3" r="0.4"/><circle cx="191.9" cy="76.6" r="0.4"/><circle cx="189.1" cy="75.5" r="0.4"/><circle cx="190.9" cy="74.4" r="0.4"/><circle cx="195.0" cy="77.7" r="0.4"/><circle cx="189.0" cy="79.1" r="0.4"/><circle cx="189.1" cy="75.4" r="0.4"/><circle cx="192.8" cy="79.0" r="0.4"/><circle cx="188.3" cy="77.9" r="0.4"/><circle cx="191.4" cy="81.1" r="0.4"/><circle cx="187.3" cy="75.0" r="0.4"/></g>
<path d="M248,28.8 L261,22.5 L269,31 L271,42 L263,49 L255.5,53.5 L248.5,48 L245.5,40 Z" fill="#a255b0" filter="url(#fz)"/>
<g fill="#a255b0" opacity="0.75"><circle cx="266.8" cy="35.3" r="0.45"/><circle cx="268.6" cy="34.4" r="0.45"/><circle cx="252.2" cy="44.1" r="0.45"/><circle cx="267.8" cy="31.9" r="0.45"/><circle cx="253.1" cy="48.9" r="0.45"/><circle cx="266.6" cy="42.8" r="0.45"/><circle cx="245.4" cy="42.2" r="0.45"/><circle cx="265.1" cy="35.0" r="0.45"/><circle cx="266.4" cy="35.8" r="0.45"/><circle cx="265.5" cy="33.6" r="0.45"/><circle cx="256.8" cy="35.6" r="0.45"/><circle cx="247.4" cy="31.6" r="0.45"/><circle cx="263.1" cy="39.5" r="0.45"/><circle cx="250.1" cy="34.9" r="0.45"/><circle cx="259.4" cy="49.6" r="0.45"/><circle cx="256.4" cy="33.6" r="0.45"/><circle cx="258.1" cy="44.4" r="0.45"/><circle cx="255.1" cy="47.5" r="0.45"/><circle cx="247.0" cy="46.3" r="0.45"/><circle cx="248.8" cy="40.8" r="0.45"/><circle cx="249.8" cy="32.5" r="0.45"/><circle cx="248.7" cy="32.6" r="0.45"/><circle cx="260.9" cy="38.5" r="0.45"/><circle cx="255.1" cy="40.4" r="0.45"/><circle cx="268.1" cy="32.9" r="0.45"/><circle cx="260.7" cy="37.2" r="0.45"/><circle cx="264.0" cy="28.6" r="0.45"/><circle cx="251.5" cy="45.8" r="0.45"/><circle cx="260.5" cy="29.4" r="0.45"/><circle cx="254.8" cy="45.4" r="0.45"/><circle cx="256.4" cy="41.9" r="0.45"/><circle cx="270.0" cy="36.3" r="0.45"/><circle cx="257.9" cy="28.5" r="0.45"/><circle cx="252.8" cy="49.9" r="0.45"/><circle cx="260.3" cy="39.6" r="0.45"/><circle cx="253.5" cy="25.7" r="0.45"/><circle cx="266.4" cy="28.1" r="0.45"/><circle cx="249.7" cy="39.1" r="0.45"/><circle cx="261.5" cy="24.7" r="0.45"/><circle cx="265.9" cy="40.7" r="0.45"/><circle cx="263.7" cy="33.1" r="0.45"/><circle cx="252.3" cy="50.3" r="0.45"/><circle cx="264.8" cy="29.7" r="0.45"/><circle cx="259.4" cy="29.3" r="0.45"/><circle cx="252.4" cy="29.3" r="0.45"/><circle cx="247.8" cy="37.3" r="0.45"/><circle cx="251.8" cy="30.4" r="0.45"/><circle cx="252.0" cy="38.2" r="0.45"/><circle cx="261.4" cy="39.4" r="0.45"/><circle cx="265.0" cy="39.0" r="0.45"/><circle cx="266.2" cy="29.5" r="0.45"/><circle cx="254.4" cy="47.8" r="0.45"/><circle cx="250.7" cy="36.2" r="0.45"/><circle cx="254.6" cy="45.8" r="0.45"/><circle cx="271.0" cy="38.0" r="0.45"/><circle cx="260.2" cy="32.6" r="0.45"/><circle cx="262.8" cy="23.0" r="0.45"/><circle cx="260.2" cy="24.6" r="0.45"/><circle cx="263.1" cy="22.8" r="0.45"/><circle cx="244.9" cy="40.3" r="0.45"/></g>
<g fill="#a255b0" opacity="0.55"><circle cx="259.3" cy="18.8" r="0.4"/><circle cx="259.5" cy="23.5" r="0.4"/><circle cx="259.5" cy="31.0" r="0.4"/><circle cx="258.4" cy="24.1" r="0.4"/><circle cx="265.9" cy="33.8" r="0.4"/><circle cx="258.0" cy="18.9" r="0.4"/><circle cx="258.0" cy="40.0" r="0.4"/><circle cx="275.6" cy="40.1" r="0.4"/><circle cx="245.3" cy="28.6" r="0.4"/><circle cx="252.5" cy="46.3" r="0.4"/><circle cx="261.8" cy="45.6" r="0.4"/><circle cx="262.6" cy="42.4" r="0.4"/><circle cx="270.4" cy="45.7" r="0.4"/><circle cx="259.2" cy="41.0" r="0.4"/><circle cx="270.6" cy="33.4" r="0.4"/><circle cx="252.5" cy="30.7" r="0.4"/><circle cx="249.9" cy="41.2" r="0.4"/><circle cx="259.4" cy="30.2" r="0.4"/><circle cx="264.8" cy="35.4" r="0.4"/><circle cx="248.9" cy="54.2" r="0.4"/><circle cx="249.6" cy="36.5" r="0.4"/><circle cx="268.8" cy="30.1" r="0.4"/><circle cx="249.0" cy="44.2" r="0.4"/><circle cx="249.8" cy="38.4" r="0.4"/><circle cx="249.6" cy="54.0" r="0.4"/><circle cx="247.1" cy="25.6" r="0.4"/><circle cx="251.3" cy="29.9" r="0.4"/><circle cx="266.7" cy="45.1" r="0.4"/><circle cx="269.0" cy="39.2" r="0.4"/><circle cx="249.2" cy="25.0" r="0.4"/><circle cx="253.8" cy="31.1" r="0.4"/><circle cx="254.4" cy="21.4" r="0.4"/><circle cx="252.6" cy="50.2" r="0.4"/><circle cx="254.1" cy="28.1" r="0.4"/><circle cx="261.9" cy="48.1" r="0.4"/><circle cx="257.6" cy="51.4" r="0.4"/><circle cx="247.8" cy="54.1" r="0.4"/><circle cx="252.8" cy="56.4" r="0.4"/><circle cx="245.5" cy="46.9" r="0.4"/><circle cx="245.3" cy="45.3" r="0.4"/><circle cx="274.8" cy="35.4" r="0.4"/><circle cx="253.9" cy="20.7" r="0.4"/><circle cx="251.5" cy="23.5" r="0.4"/><circle cx="244.8" cy="38.6" r="0.4"/><circle cx="259.9" cy="40.4" r="0.4"/><circle cx="268.0" cy="38.6" r="0.4"/><circle cx="251.6" cy="48.9" r="0.4"/><circle cx="273.8" cy="37.6" r="0.4"/><circle cx="246.2" cy="30.0" r="0.4"/><circle cx="261.0" cy="28.4" r="0.4"/><circle cx="257.0" cy="42.0" r="0.4"/><circle cx="271.0" cy="35.9" r="0.4"/><circle cx="268.0" cy="33.1" r="0.4"/><circle cx="246.6" cy="47.8" r="0.4"/><circle cx="248.3" cy="50.6" r="0.4"/><circle cx="258.5" cy="44.2" r="0.4"/><circle cx="257.2" cy="23.5" r="0.4"/><circle cx="262.8" cy="31.7" r="0.4"/><circle cx="257.5" cy="42.9" r="0.4"/><circle cx="251.9" cy="31.1" r="0.4"/><circle cx="272.4" cy="41.0" r="0.4"/><circle cx="255.5" cy="39.2" r="0.4"/><circle cx="257.1" cy="30.1" r="0.4"/><circle cx="250.8" cy="22.9" r="0.4"/><circle cx="266.6" cy="25.8" r="0.4"/><circle cx="261.5" cy="22.4" r="0.4"/><circle cx="243.9" cy="45.7" r="0.4"/><circle cx="252.9" cy="40.0" r="0.4"/><circle cx="258.4" cy="56.0" r="0.4"/><circle cx="259.0" cy="32.1" r="0.4"/><circle cx="250.1" cy="40.7" r="0.4"/><circle cx="263.3" cy="35.8" r="0.4"/></g>
<path d="M233,62.5 L246,60.5 L255,62 L258,70 L258,84 L253,91 L248.5,95.5 L241,95.5 L234,90 L230.5,80 L230.5,70 Z" fill="#bcbf92" filter="url(#fz)"/>
<g fill="#bcbf92" opacity="0.75"><circle cx="232.1" cy="77.9" r="0.45"/><circle cx="243.7" cy="83.3" r="0.45"/><circle cx="258.2" cy="69.7" r="0.45"/><circle cx="242.5" cy="62.3" r="0.45"/><circle cx="253.2" cy="67.9" r="0.45"/><circle cx="254.0" cy="89.2" r="0.45"/><circle cx="237.0" cy="93.2" r="0.45"/><circle cx="244.4" cy="75.2" r="0.45"/><circle cx="245.9" cy="94.8" r="0.45"/><circle cx="243.9" cy="77.3" r="0.45"/><circle cx="238.0" cy="90.9" r="0.45"/><circle cx="244.3" cy="72.0" r="0.45"/><circle cx="235.2" cy="67.2" r="0.45"/><circle cx="254.2" cy="89.4" r="0.45"/><circle cx="249.7" cy="89.2" r="0.45"/><circle cx="250.5" cy="89.7" r="0.45"/><circle cx="253.2" cy="65.7" r="0.45"/><circle cx="253.6" cy="70.5" r="0.45"/><circle cx="230.1" cy="78.4" r="0.45"/><circle cx="239.6" cy="89.0" r="0.45"/><circle cx="247.5" cy="93.5" r="0.45"/><circle cx="257.1" cy="83.4" r="0.45"/><circle cx="231.3" cy="84.3" r="0.45"/><circle cx="255.3" cy="70.8" r="0.45"/><circle cx="234.9" cy="85.3" r="0.45"/><circle cx="247.9" cy="63.8" r="0.45"/><circle cx="251.0" cy="61.3" r="0.45"/><circle cx="255.2" cy="88.1" r="0.45"/><circle cx="252.7" cy="92.1" r="0.45"/><circle cx="246.3" cy="94.7" r="0.45"/><circle cx="248.4" cy="77.7" r="0.45"/><circle cx="240.8" cy="72.4" r="0.45"/><circle cx="253.0" cy="67.7" r="0.45"/><circle cx="248.8" cy="88.4" r="0.45"/><circle cx="250.0" cy="78.6" r="0.45"/><circle cx="238.8" cy="69.4" r="0.45"/><circle cx="235.0" cy="83.6" r="0.45"/><circle cx="249.8" cy="94.7" r="0.45"/><circle cx="239.2" cy="94.1" r="0.45"/><circle cx="256.5" cy="70.1" r="0.45"/><circle cx="257.7" cy="82.5" r="0.45"/><circle cx="239.3" cy="69.6" r="0.45"/><circle cx="244.9" cy="77.5" r="0.45"/><circle cx="245.3" cy="77.0" r="0.45"/><circle cx="251.5" cy="68.5" r="0.45"/><circle cx="235.3" cy="81.0" r="0.45"/><circle cx="236.6" cy="71.5" r="0.45"/><circle cx="239.9" cy="79.0" r="0.45"/><circle cx="257.6" cy="83.3" r="0.45"/><circle cx="241.7" cy="74.5" r="0.45"/><circle cx="236.4" cy="77.0" r="0.45"/><circle cx="242.3" cy="85.0" r="0.45"/><circle cx="252.0" cy="80.1" r="0.45"/><circle cx="248.4" cy="94.5" r="0.45"/><circle cx="256.2" cy="68.6" r="0.45"/><circle cx="245.5" cy="96.8" r="0.45"/><circle cx="245.1" cy="66.2" r="0.45"/><circle cx="252.1" cy="61.2" r="0.45"/><circle cx="233.9" cy="79.9" r="0.45"/><circle cx="237.5" cy="86.3" r="0.45"/></g>
<g fill="#bcbf92" opacity="0.55"><circle cx="252.8" cy="69.2" r="0.4"/><circle cx="254.4" cy="85.0" r="0.4"/><circle cx="252.0" cy="75.8" r="0.4"/><circle cx="241.7" cy="58.9" r="0.4"/><circle cx="243.3" cy="99.9" r="0.4"/><circle cx="259.0" cy="56.5" r="0.4"/><circle cx="227.9" cy="66.8" r="0.4"/><circle cx="251.6" cy="74.9" r="0.4"/><circle cx="230.1" cy="74.3" r="0.4"/><circle cx="247.0" cy="89.7" r="0.4"/><circle cx="240.5" cy="85.1" r="0.4"/><circle cx="251.1" cy="83.5" r="0.4"/><circle cx="230.1" cy="56.4" r="0.4"/><circle cx="243.2" cy="54.6" r="0.4"/><circle cx="228.0" cy="72.6" r="0.4"/><circle cx="243.0" cy="58.8" r="0.4"/><circle cx="243.7" cy="82.1" r="0.4"/><circle cx="229.8" cy="68.4" r="0.4"/><circle cx="233.6" cy="95.6" r="0.4"/><circle cx="244.6" cy="73.6" r="0.4"/><circle cx="240.4" cy="96.6" r="0.4"/><circle cx="235.0" cy="92.0" r="0.4"/><circle cx="252.1" cy="75.4" r="0.4"/><circle cx="239.1" cy="74.8" r="0.4"/><circle cx="242.4" cy="69.0" r="0.4"/><circle cx="248.9" cy="73.6" r="0.4"/><circle cx="236.8" cy="91.1" r="0.4"/><circle cx="242.5" cy="76.6" r="0.4"/><circle cx="258.6" cy="75.7" r="0.4"/><circle cx="239.5" cy="97.1" r="0.4"/><circle cx="240.5" cy="86.2" r="0.4"/><circle cx="253.4" cy="68.1" r="0.4"/><circle cx="250.1" cy="86.0" r="0.4"/><circle cx="241.8" cy="85.3" r="0.4"/><circle cx="233.8" cy="91.0" r="0.4"/><circle cx="245.7" cy="101.1" r="0.4"/><circle cx="238.2" cy="88.1" r="0.4"/><circle cx="225.9" cy="73.8" r="0.4"/><circle cx="254.3" cy="66.3" r="0.4"/><circle cx="248.5" cy="64.4" r="0.4"/><circle cx="240.4" cy="101.7" r="0.4"/><circle cx="227.5" cy="81.9" r="0.4"/><circle cx="256.4" cy="94.2" r="0.4"/><circle cx="240.1" cy="82.3" r="0.4"/><circle cx="252.3" cy="90.5" r="0.4"/><circle cx="253.6" cy="81.7" r="0.4"/><circle cx="234.8" cy="87.8" r="0.4"/><circle cx="246.6" cy="80.0" r="0.4"/><circle cx="254.9" cy="69.4" r="0.4"/><circle cx="235.7" cy="81.1" r="0.4"/><circle cx="245.3" cy="77.7" r="0.4"/><circle cx="231.6" cy="84.0" r="0.4"/><circle cx="259.2" cy="85.8" r="0.4"/><circle cx="236.2" cy="92.7" r="0.4"/><circle cx="241.2" cy="60.8" r="0.4"/><circle cx="248.2" cy="76.0" r="0.4"/><circle cx="245.4" cy="101.6" r="0.4"/><circle cx="246.9" cy="99.8" r="0.4"/><circle cx="238.6" cy="90.4" r="0.4"/><circle cx="228.1" cy="68.3" r="0.4"/><circle cx="251.5" cy="87.1" r="0.4"/><circle cx="256.7" cy="72.1" r="0.4"/><circle cx="235.6" cy="71.1" r="0.4"/><circle cx="245.6" cy="54.9" r="0.4"/><circle cx="239.5" cy="85.5" r="0.4"/><circle cx="230.9" cy="68.8" r="0.4"/><circle cx="234.7" cy="62.3" r="0.4"/><circle cx="229.7" cy="57.9" r="0.4"/><circle cx="255.4" cy="89.4" r="0.4"/><circle cx="235.3" cy="77.4" r="0.4"/><circle cx="251.6" cy="55.1" r="0.4"/><circle cx="256.3" cy="95.3" r="0.4"/></g>
<path d="M260.5,80 L271,77.5 L280,82 L285,91.5 L275,92.5 L265,91.5 L260,88 Z" fill="#e5161c" filter="url(#fz)"/>
<g fill="#e5161c" opacity="0.75"><circle cx="264.6" cy="88.3" r="0.45"/><circle cx="278.3" cy="82.1" r="0.45"/><circle cx="272.0" cy="81.7" r="0.45"/><circle cx="271.1" cy="90.1" r="0.45"/><circle cx="274.6" cy="86.7" r="0.45"/><circle cx="264.9" cy="86.9" r="0.45"/><circle cx="268.2" cy="83.9" r="0.45"/><circle cx="270.8" cy="90.4" r="0.45"/><circle cx="284.3" cy="87.8" r="0.45"/><circle cx="263.5" cy="82.4" r="0.45"/><circle cx="283.4" cy="91.1" r="0.45"/><circle cx="265.0" cy="82.6" r="0.45"/><circle cx="265.1" cy="88.5" r="0.45"/><circle cx="260.0" cy="88.2" r="0.45"/><circle cx="273.9" cy="86.3" r="0.45"/><circle cx="275.5" cy="90.9" r="0.45"/><circle cx="259.3" cy="88.2" r="0.45"/><circle cx="263.6" cy="81.0" r="0.45"/><circle cx="277.4" cy="88.1" r="0.45"/><circle cx="267.7" cy="84.3" r="0.45"/><circle cx="266.8" cy="85.9" r="0.45"/><circle cx="268.7" cy="82.5" r="0.45"/><circle cx="265.7" cy="81.4" r="0.45"/><circle cx="267.4" cy="86.4" r="0.45"/><circle cx="266.2" cy="78.4" r="0.45"/><circle cx="282.4" cy="84.3" r="0.45"/><circle cx="273.0" cy="81.7" r="0.45"/><circle cx="283.5" cy="89.1" r="0.45"/><circle cx="276.1" cy="87.5" r="0.45"/><circle cx="278.1" cy="84.9" r="0.45"/><circle cx="270.3" cy="83.0" r="0.45"/><circle cx="272.8" cy="84.3" r="0.45"/><circle cx="273.5" cy="85.4" r="0.45"/><circle cx="280.8" cy="91.5" r="0.45"/><circle cx="281.0" cy="86.9" r="0.45"/><circle cx="266.7" cy="79.7" r="0.45"/><circle cx="283.0" cy="90.5" r="0.45"/><circle cx="277.8" cy="88.1" r="0.45"/><circle cx="279.5" cy="84.1" r="0.45"/><circle cx="269.8" cy="85.8" r="0.45"/><circle cx="284.4" cy="90.5" r="0.45"/><circle cx="260.8" cy="80.6" r="0.45"/><circle cx="273.1" cy="81.7" r="0.45"/><circle cx="282.8" cy="85.1" r="0.45"/><circle cx="262.8" cy="83.0" r="0.45"/><circle cx="274.4" cy="92.2" r="0.45"/><circle cx="270.9" cy="89.3" r="0.45"/><circle cx="275.3" cy="86.2" r="0.45"/><circle cx="263.5" cy="84.3" r="0.45"/><circle cx="283.9" cy="87.8" r="0.45"/></g>
<g fill="#e5161c" opacity="0.55"><circle cx="263.1" cy="83.4" r="0.4"/><circle cx="274.7" cy="81.0" r="0.4"/><circle cx="275.9" cy="87.3" r="0.4"/><circle cx="278.7" cy="78.4" r="0.4"/><circle cx="258.0" cy="90.1" r="0.4"/><circle cx="275.2" cy="76.0" r="0.4"/><circle cx="278.0" cy="79.5" r="0.4"/><circle cx="284.3" cy="89.3" r="0.4"/><circle cx="260.4" cy="78.2" r="0.4"/><circle cx="256.5" cy="77.4" r="0.4"/><circle cx="272.2" cy="94.3" r="0.4"/><circle cx="266.8" cy="79.4" r="0.4"/><circle cx="278.0" cy="87.0" r="0.4"/><circle cx="275.4" cy="82.0" r="0.4"/><circle cx="273.0" cy="94.5" r="0.4"/><circle cx="263.9" cy="79.8" r="0.4"/><circle cx="288.0" cy="88.2" r="0.4"/><circle cx="257.7" cy="77.8" r="0.4"/><circle cx="263.8" cy="80.0" r="0.4"/><circle cx="285.4" cy="88.8" r="0.4"/><circle cx="277.7" cy="82.0" r="0.4"/><circle cx="280.9" cy="84.4" r="0.4"/><circle cx="257.5" cy="84.3" r="0.4"/><circle cx="269.0" cy="85.2" r="0.4"/><circle cx="267.1" cy="77.0" r="0.4"/><circle cx="276.4" cy="93.4" r="0.4"/><circle cx="261.8" cy="84.5" r="0.4"/><circle cx="273.1" cy="90.2" r="0.4"/><circle cx="275.5" cy="79.0" r="0.4"/><circle cx="262.1" cy="89.3" r="0.4"/><circle cx="256.6" cy="77.9" r="0.4"/><circle cx="272.0" cy="91.8" r="0.4"/><circle cx="277.4" cy="89.8" r="0.4"/><circle cx="282.4" cy="89.3" r="0.4"/><circle cx="260.7" cy="77.3" r="0.4"/><circle cx="285.5" cy="86.7" r="0.4"/><circle cx="259.4" cy="80.0" r="0.4"/><circle cx="262.2" cy="76.3" r="0.4"/><circle cx="262.5" cy="87.5" r="0.4"/><circle cx="261.4" cy="77.5" r="0.4"/><circle cx="274.4" cy="81.9" r="0.4"/><circle cx="260.7" cy="86.0" r="0.4"/><circle cx="273.4" cy="82.1" r="0.4"/><circle cx="272.2" cy="74.7" r="0.4"/><circle cx="277.2" cy="78.0" r="0.4"/><circle cx="286.9" cy="86.4" r="0.4"/><circle cx="269.3" cy="85.4" r="0.4"/><circle cx="269.0" cy="89.0" r="0.4"/><circle cx="268.6" cy="88.9" r="0.4"/><circle cx="265.5" cy="80.1" r="0.4"/><circle cx="282.0" cy="90.6" r="0.4"/><circle cx="280.2" cy="93.6" r="0.4"/><circle cx="262.0" cy="82.2" r="0.4"/><circle cx="285.7" cy="90.2" r="0.4"/><circle cx="281.7" cy="92.3" r="0.4"/><circle cx="268.3" cy="86.8" r="0.4"/><circle cx="289.4" cy="93.0" r="0.4"/><circle cx="275.9" cy="92.8" r="0.4"/><circle cx="278.7" cy="94.3" r="0.4"/><circle cx="260.5" cy="82.5" r="0.4"/></g>
<path d="M261,91 L268,90 L276,93 L274,98 L264,99 Z" fill="#f2a58a" filter="url(#fz)"/>
<g fill="#f2a58a" opacity="0.75"><circle cx="269.5" cy="90.9" r="0.45"/><circle cx="270.6" cy="92.3" r="0.45"/><circle cx="265.6" cy="95.6" r="0.45"/><circle cx="263.4" cy="94.0" r="0.45"/><circle cx="264.6" cy="93.2" r="0.45"/><circle cx="271.7" cy="91.5" r="0.45"/><circle cx="269.4" cy="92.9" r="0.45"/><circle cx="272.1" cy="91.9" r="0.45"/><circle cx="268.2" cy="96.7" r="0.45"/><circle cx="267.2" cy="92.7" r="0.45"/></g>
<g fill="#f2a58a" opacity="0.55"><circle cx="266.3" cy="92.3" r="0.4"/><circle cx="273.5" cy="94.2" r="0.4"/><circle cx="272.4" cy="90.2" r="0.4"/><circle cx="262.2" cy="96.1" r="0.4"/><circle cx="266.7" cy="90.6" r="0.4"/><circle cx="273.3" cy="95.5" r="0.4"/><circle cx="259.2" cy="89.6" r="0.4"/><circle cx="275.3" cy="96.9" r="0.4"/><circle cx="269.5" cy="99.1" r="0.4"/><circle cx="265.8" cy="89.7" r="0.4"/><circle cx="269.1" cy="89.9" r="0.4"/><circle cx="270.6" cy="98.7" r="0.4"/></g>
<path d="M278,50 L283,47.5 L292,51 L296,57 L293,62 L285,60 L279,55 Z" fill="#f2a942" filter="url(#fz)"/>
<g fill="#f2a942" opacity="0.75"><circle cx="283.8" cy="48.4" r="0.45"/><circle cx="290.6" cy="58.6" r="0.45"/><circle cx="295.0" cy="55.7" r="0.45"/><circle cx="288.8" cy="60.8" r="0.45"/><circle cx="289.8" cy="54.2" r="0.45"/><circle cx="282.2" cy="56.5" r="0.45"/><circle cx="287.3" cy="54.9" r="0.45"/><circle cx="289.3" cy="57.8" r="0.45"/><circle cx="282.7" cy="54.0" r="0.45"/><circle cx="287.2" cy="59.8" r="0.45"/><circle cx="286.7" cy="53.1" r="0.45"/><circle cx="286.6" cy="52.4" r="0.45"/><circle cx="285.0" cy="47.8" r="0.45"/><circle cx="279.8" cy="53.5" r="0.45"/><circle cx="289.2" cy="59.2" r="0.45"/><circle cx="285.9" cy="51.3" r="0.45"/><circle cx="295.1" cy="54.5" r="0.45"/><circle cx="279.5" cy="48.7" r="0.45"/><circle cx="295.1" cy="58.9" r="0.45"/><circle cx="281.1" cy="53.9" r="0.45"/><circle cx="290.2" cy="54.3" r="0.45"/><circle cx="295.4" cy="59.6" r="0.45"/><circle cx="281.0" cy="47.2" r="0.45"/><circle cx="289.2" cy="54.3" r="0.45"/><circle cx="281.0" cy="57.2" r="0.45"/><circle cx="296.4" cy="56.7" r="0.45"/><circle cx="283.3" cy="58.5" r="0.45"/><circle cx="295.4" cy="59.7" r="0.45"/><circle cx="279.6" cy="55.5" r="0.45"/><circle cx="281.9" cy="55.6" r="0.45"/><circle cx="283.3" cy="49.2" r="0.45"/><circle cx="292.1" cy="59.1" r="0.45"/><circle cx="283.7" cy="53.4" r="0.45"/><circle cx="291.1" cy="58.6" r="0.45"/><circle cx="286.3" cy="48.4" r="0.45"/><circle cx="278.7" cy="49.3" r="0.45"/><circle cx="293.8" cy="54.7" r="0.45"/><circle cx="290.1" cy="52.5" r="0.45"/><circle cx="284.4" cy="49.4" r="0.45"/><circle cx="289.1" cy="56.7" r="0.45"/></g>
<g fill="#f2a942" opacity="0.55"><circle cx="294.2" cy="57.1" r="0.4"/><circle cx="284.8" cy="57.9" r="0.4"/><circle cx="283.9" cy="52.9" r="0.4"/><circle cx="283.7" cy="57.9" r="0.4"/><circle cx="283.3" cy="51.7" r="0.4"/><circle cx="296.2" cy="61.1" r="0.4"/><circle cx="291.8" cy="62.0" r="0.4"/><circle cx="284.2" cy="57.8" r="0.4"/><circle cx="280.7" cy="50.9" r="0.4"/><circle cx="284.0" cy="46.7" r="0.4"/><circle cx="283.4" cy="54.2" r="0.4"/><circle cx="279.4" cy="50.4" r="0.4"/><circle cx="285.2" cy="50.1" r="0.4"/><circle cx="290.8" cy="61.2" r="0.4"/><circle cx="282.7" cy="48.3" r="0.4"/><circle cx="294.8" cy="57.0" r="0.4"/><circle cx="289.8" cy="51.0" r="0.4"/><circle cx="296.8" cy="56.4" r="0.4"/><circle cx="284.9" cy="47.6" r="0.4"/><circle cx="293.9" cy="57.9" r="0.4"/><circle cx="286.5" cy="60.6" r="0.4"/><circle cx="288.0" cy="53.0" r="0.4"/><circle cx="287.6" cy="59.3" r="0.4"/><circle cx="292.1" cy="56.3" r="0.4"/><circle cx="294.7" cy="61.6" r="0.4"/><circle cx="276.6" cy="47.3" r="0.4"/><circle cx="275.4" cy="47.7" r="0.4"/><circle cx="285.6" cy="54.1" r="0.4"/><circle cx="288.9" cy="50.2" r="0.4"/><circle cx="294.5" cy="51.3" r="0.4"/><circle cx="296.2" cy="61.2" r="0.4"/><circle cx="276.0" cy="49.9" r="0.4"/><circle cx="294.2" cy="56.7" r="0.4"/><circle cx="291.6" cy="53.0" r="0.4"/><circle cx="287.7" cy="48.6" r="0.4"/><circle cx="286.2" cy="49.7" r="0.4"/><circle cx="277.7" cy="48.4" r="0.4"/><circle cx="288.1" cy="56.5" r="0.4"/><circle cx="295.9" cy="52.3" r="0.4"/><circle cx="293.9" cy="61.5" r="0.4"/><circle cx="277.3" cy="47.7" r="0.4"/><circle cx="277.5" cy="51.7" r="0.4"/><circle cx="280.4" cy="57.9" r="0.4"/><circle cx="292.9" cy="60.6" r="0.4"/><circle cx="285.5" cy="53.9" r="0.4"/><circle cx="286.4" cy="52.1" r="0.4"/><circle cx="286.0" cy="58.7" r="0.4"/><circle cx="292.7" cy="51.1" r="0.4"/></g>
<path d="M327,31 L334,30 L339,34 L341.5,42 L340,50 L336,56 L330,57 L327,52 L329,44 L327,38 Z" fill="#159d8a" filter="url(#fz)"/>
<g fill="#159d8a" opacity="0.75"><circle cx="335.4" cy="33.0" r="0.45"/><circle cx="332.1" cy="29.6" r="0.45"/><circle cx="326.9" cy="38.1" r="0.45"/><circle cx="332.3" cy="37.9" r="0.45"/><circle cx="328.6" cy="46.2" r="0.45"/><circle cx="339.8" cy="40.0" r="0.45"/><circle cx="329.2" cy="31.8" r="0.45"/><circle cx="330.1" cy="50.2" r="0.45"/><circle cx="329.4" cy="38.0" r="0.45"/><circle cx="338.7" cy="50.5" r="0.45"/><circle cx="331.2" cy="42.1" r="0.45"/><circle cx="332.1" cy="42.7" r="0.45"/><circle cx="339.1" cy="36.4" r="0.45"/><circle cx="336.0" cy="57.1" r="0.45"/><circle cx="331.2" cy="41.8" r="0.45"/><circle cx="339.8" cy="48.9" r="0.45"/><circle cx="329.6" cy="55.3" r="0.45"/><circle cx="340.2" cy="43.8" r="0.45"/><circle cx="327.2" cy="37.1" r="0.45"/><circle cx="331.1" cy="41.1" r="0.45"/><circle cx="341.4" cy="46.3" r="0.45"/><circle cx="330.3" cy="50.4" r="0.45"/><circle cx="331.8" cy="35.4" r="0.45"/><circle cx="327.4" cy="30.2" r="0.45"/><circle cx="333.0" cy="44.9" r="0.45"/><circle cx="332.8" cy="45.4" r="0.45"/><circle cx="331.0" cy="29.2" r="0.45"/><circle cx="337.2" cy="38.6" r="0.45"/><circle cx="334.2" cy="39.9" r="0.45"/><circle cx="330.7" cy="30.2" r="0.45"/></g>
<g fill="#159d8a" opacity="0.55"><circle cx="330.6" cy="35.9" r="0.4"/><circle cx="326.9" cy="25.8" r="0.4"/><circle cx="334.3" cy="25.4" r="0.4"/><circle cx="342.4" cy="38.3" r="0.4"/><circle cx="333.6" cy="44.5" r="0.4"/><circle cx="325.1" cy="28.5" r="0.4"/><circle cx="340.5" cy="45.7" r="0.4"/><circle cx="334.6" cy="37.6" r="0.4"/><circle cx="339.8" cy="43.7" r="0.4"/><circle cx="342.7" cy="52.1" r="0.4"/><circle cx="338.3" cy="42.1" r="0.4"/><circle cx="335.4" cy="46.5" r="0.4"/><circle cx="335.2" cy="55.6" r="0.4"/><circle cx="339.8" cy="47.9" r="0.4"/><circle cx="336.7" cy="59.0" r="0.4"/><circle cx="332.2" cy="60.5" r="0.4"/><circle cx="327.9" cy="45.9" r="0.4"/><circle cx="327.5" cy="53.1" r="0.4"/><circle cx="334.5" cy="52.4" r="0.4"/><circle cx="330.8" cy="58.0" r="0.4"/><circle cx="324.7" cy="33.1" r="0.4"/><circle cx="340.4" cy="35.0" r="0.4"/><circle cx="326.2" cy="51.5" r="0.4"/><circle cx="343.6" cy="44.6" r="0.4"/><circle cx="331.4" cy="28.6" r="0.4"/><circle cx="327.1" cy="41.5" r="0.4"/><circle cx="330.1" cy="50.1" r="0.4"/><circle cx="326.8" cy="37.2" r="0.4"/><circle cx="332.9" cy="42.5" r="0.4"/><circle cx="333.4" cy="47.2" r="0.4"/><circle cx="329.2" cy="33.9" r="0.4"/><circle cx="333.9" cy="49.0" r="0.4"/><circle cx="336.9" cy="37.9" r="0.4"/><circle cx="325.0" cy="28.1" r="0.4"/><circle cx="328.8" cy="52.3" r="0.4"/><circle cx="329.4" cy="33.8" r="0.4"/></g>
<path d="M310,64 L322,60 L331,58 L334,63 L331,70 L320,72 L308,71 L306,67 Z" fill="#8c6b7c" filter="url(#fz)"/>
<g fill="#8c6b7c" opacity="0.75"><circle cx="326.9" cy="64.5" r="0.45"/><circle cx="327.9" cy="69.2" r="0.45"/><circle cx="320.3" cy="61.2" r="0.45"/><circle cx="320.8" cy="67.5" r="0.45"/><circle cx="314.3" cy="67.1" r="0.45"/><circle cx="331.2" cy="70.1" r="0.45"/><circle cx="327.4" cy="70.3" r="0.45"/><circle cx="330.8" cy="57.6" r="0.45"/><circle cx="305.8" cy="68.6" r="0.45"/><circle cx="319.6" cy="71.2" r="0.45"/><circle cx="325.6" cy="67.6" r="0.45"/><circle cx="326.2" cy="62.8" r="0.45"/><circle cx="332.8" cy="68.5" r="0.45"/><circle cx="329.7" cy="64.3" r="0.45"/><circle cx="310.5" cy="64.1" r="0.45"/><circle cx="325.8" cy="65.7" r="0.45"/><circle cx="317.2" cy="68.0" r="0.45"/><circle cx="333.3" cy="67.8" r="0.45"/><circle cx="323.5" cy="68.6" r="0.45"/><circle cx="323.6" cy="62.6" r="0.45"/><circle cx="325.8" cy="71.5" r="0.45"/><circle cx="325.4" cy="66.6" r="0.45"/><circle cx="323.6" cy="67.1" r="0.45"/><circle cx="331.7" cy="66.7" r="0.45"/><circle cx="330.6" cy="66.9" r="0.45"/><circle cx="331.3" cy="69.3" r="0.45"/><circle cx="332.8" cy="63.2" r="0.45"/><circle cx="316.6" cy="61.3" r="0.45"/><circle cx="326.1" cy="58.4" r="0.45"/><circle cx="313.7" cy="63.2" r="0.45"/><circle cx="307.9" cy="66.5" r="0.45"/><circle cx="317.5" cy="69.8" r="0.45"/><circle cx="310.2" cy="65.4" r="0.45"/><circle cx="313.6" cy="71.3" r="0.45"/><circle cx="313.2" cy="64.7" r="0.45"/><circle cx="320.7" cy="61.1" r="0.45"/><circle cx="330.1" cy="69.3" r="0.45"/><circle cx="326.4" cy="66.4" r="0.45"/><circle cx="331.8" cy="68.8" r="0.45"/><circle cx="327.9" cy="70.4" r="0.45"/></g>
<g fill="#8c6b7c" opacity="0.55"><circle cx="306.0" cy="66.1" r="0.4"/><circle cx="324.9" cy="66.8" r="0.4"/><circle cx="320.3" cy="60.0" r="0.4"/><circle cx="339.4" cy="62.4" r="0.4"/><circle cx="302.4" cy="68.2" r="0.4"/><circle cx="311.9" cy="66.9" r="0.4"/><circle cx="312.6" cy="68.1" r="0.4"/><circle cx="309.9" cy="71.3" r="0.4"/><circle cx="303.2" cy="66.4" r="0.4"/><circle cx="328.7" cy="65.3" r="0.4"/><circle cx="332.8" cy="64.6" r="0.4"/><circle cx="320.9" cy="73.4" r="0.4"/><circle cx="327.1" cy="56.9" r="0.4"/><circle cx="328.9" cy="68.8" r="0.4"/><circle cx="313.0" cy="70.2" r="0.4"/><circle cx="323.1" cy="63.0" r="0.4"/><circle cx="320.9" cy="60.2" r="0.4"/><circle cx="311.2" cy="72.6" r="0.4"/><circle cx="313.8" cy="70.2" r="0.4"/><circle cx="324.4" cy="67.2" r="0.4"/><circle cx="338.4" cy="60.6" r="0.4"/><circle cx="319.6" cy="63.1" r="0.4"/><circle cx="314.5" cy="73.9" r="0.4"/><circle cx="312.3" cy="71.4" r="0.4"/><circle cx="300.8" cy="66.9" r="0.4"/><circle cx="335.1" cy="55.6" r="0.4"/><circle cx="328.1" cy="59.3" r="0.4"/><circle cx="327.5" cy="71.5" r="0.4"/><circle cx="329.1" cy="59.5" r="0.4"/><circle cx="314.6" cy="73.0" r="0.4"/><circle cx="317.2" cy="67.1" r="0.4"/><circle cx="317.5" cy="71.0" r="0.4"/><circle cx="310.2" cy="71.3" r="0.4"/><circle cx="309.5" cy="62.6" r="0.4"/><circle cx="322.1" cy="65.5" r="0.4"/><circle cx="327.8" cy="59.1" r="0.4"/><circle cx="307.7" cy="64.3" r="0.4"/><circle cx="311.0" cy="65.8" r="0.4"/><circle cx="303.2" cy="68.7" r="0.4"/><circle cx="304.5" cy="73.6" r="0.4"/><circle cx="306.5" cy="69.3" r="0.4"/><circle cx="337.8" cy="58.8" r="0.4"/><circle cx="303.0" cy="70.9" r="0.4"/><circle cx="324.2" cy="64.2" r="0.4"/><circle cx="304.2" cy="67.6" r="0.4"/><circle cx="323.7" cy="67.6" r="0.4"/><circle cx="332.1" cy="71.4" r="0.4"/><circle cx="305.4" cy="64.5" r="0.4"/></g>
<path d="M312,74 L320,75 L320,80 L312,85 L299,87 L297,85 L305,80 Z" fill="#ed761a" filter="url(#fz)"/>
<g fill="#ed761a" opacity="0.75"><circle cx="295.9" cy="85.9" r="0.45"/><circle cx="313.2" cy="85.1" r="0.45"/><circle cx="316.5" cy="76.2" r="0.45"/><circle cx="315.4" cy="80.0" r="0.45"/><circle cx="321.2" cy="77.3" r="0.45"/><circle cx="306.6" cy="85.9" r="0.45"/><circle cx="302.3" cy="82.2" r="0.45"/><circle cx="320.4" cy="80.5" r="0.45"/><circle cx="317.7" cy="79.8" r="0.45"/><circle cx="316.0" cy="81.5" r="0.45"/><circle cx="317.0" cy="82.1" r="0.45"/><circle cx="318.1" cy="81.2" r="0.45"/><circle cx="317.4" cy="81.7" r="0.45"/><circle cx="312.3" cy="82.4" r="0.45"/><circle cx="306.6" cy="85.6" r="0.45"/><circle cx="309.9" cy="79.1" r="0.45"/><circle cx="319.8" cy="76.1" r="0.45"/><circle cx="318.2" cy="75.3" r="0.45"/><circle cx="301.7" cy="82.2" r="0.45"/><circle cx="302.6" cy="82.0" r="0.45"/><circle cx="302.8" cy="84.3" r="0.45"/><circle cx="302.0" cy="86.0" r="0.45"/><circle cx="310.6" cy="76.8" r="0.45"/><circle cx="312.3" cy="77.6" r="0.45"/><circle cx="311.3" cy="76.6" r="0.45"/></g>
<g fill="#ed761a" opacity="0.55"><circle cx="294.8" cy="85.6" r="0.4"/><circle cx="296.2" cy="85.1" r="0.4"/><circle cx="312.2" cy="81.9" r="0.4"/><circle cx="310.5" cy="75.6" r="0.4"/><circle cx="315.5" cy="75.2" r="0.4"/><circle cx="305.9" cy="86.9" r="0.4"/><circle cx="309.7" cy="80.7" r="0.4"/><circle cx="311.7" cy="81.3" r="0.4"/><circle cx="314.1" cy="81.4" r="0.4"/><circle cx="309.9" cy="75.4" r="0.4"/><circle cx="301.2" cy="81.7" r="0.4"/><circle cx="308.8" cy="79.5" r="0.4"/><circle cx="297.4" cy="85.8" r="0.4"/><circle cx="312.9" cy="82.2" r="0.4"/><circle cx="312.3" cy="80.0" r="0.4"/><circle cx="311.9" cy="76.5" r="0.4"/><circle cx="306.9" cy="83.9" r="0.4"/><circle cx="298.7" cy="84.7" r="0.4"/><circle cx="312.0" cy="81.3" r="0.4"/><circle cx="317.1" cy="76.4" r="0.4"/><circle cx="303.9" cy="79.1" r="0.4"/><circle cx="316.0" cy="84.5" r="0.4"/><circle cx="297.6" cy="88.9" r="0.4"/><circle cx="315.4" cy="82.5" r="0.4"/><circle cx="317.6" cy="79.1" r="0.4"/><circle cx="316.2" cy="82.3" r="0.4"/><circle cx="312.6" cy="81.3" r="0.4"/><circle cx="313.7" cy="81.5" r="0.4"/><circle cx="314.9" cy="79.0" r="0.4"/><circle cx="323.8" cy="80.0" r="0.4"/></g>
<g fill="#8c6b7c" opacity="0.65"><circle cx="185.2" cy="67.2" r="0.5"/><circle cx="192.3" cy="62.4" r="0.5"/><circle cx="194.8" cy="66.3" r="0.5"/><circle cx="191.3" cy="66.4" r="0.5"/><circle cx="185.1" cy="65.0" r="0.5"/><circle cx="188.7" cy="72.2" r="0.5"/><circle cx="184.5" cy="67.5" r="0.5"/><circle cx="189.1" cy="67.7" r="0.5"/><circle cx="193.3" cy="68.4" r="0.5"/><circle cx="187.2" cy="73.4" r="0.5"/><circle cx="190.8" cy="63.8" r="0.5"/><circle cx="190.1" cy="72.1" r="0.5"/><circle cx="189.3" cy="64.0" r="0.5"/><circle cx="188.7" cy="65.9" r="0.5"/><circle cx="190.8" cy="63.8" r="0.5"/><circle cx="191.1" cy="66.6" r="0.5"/><circle cx="193.3" cy="71.3" r="0.5"/><circle cx="186.1" cy="73.7" r="0.5"/><circle cx="190.1" cy="64.7" r="0.5"/><circle cx="186.3" cy="70.0" r="0.5"/><circle cx="188.7" cy="69.6" r="0.5"/><circle cx="186.3" cy="72.0" r="0.5"/><circle cx="186.4" cy="72.2" r="0.5"/><circle cx="188.7" cy="65.6" r="0.5"/><circle cx="190.5" cy="67.3" r="0.5"/><circle cx="190.1" cy="67.8" r="0.5"/><circle cx="195.3" cy="70.4" r="0.5"/><circle cx="193.6" cy="63.9" r="0.5"/><circle cx="189.4" cy="71.8" r="0.5"/><circle cx="187.1" cy="66.9" r="0.5"/><circle cx="194.1" cy="68.3" r="0.5"/><circle cx="194.8" cy="69.4" r="0.5"/><circle cx="186.1" cy="65.2" r="0.5"/><circle cx="195.0" cy="66.8" r="0.5"/><circle cx="185.6" cy="66.9" r="0.5"/><circle cx="193.5" cy="63.8" r="0.5"/><circle cx="189.6" cy="69.6" r="0.5"/><circle cx="186.0" cy="69.6" r="0.5"/><circle cx="190.6" cy="70.5" r="0.5"/><circle cx="189.6" cy="62.5" r="0.5"/><circle cx="184.1" cy="69.0" r="0.5"/><circle cx="184.1" cy="67.6" r="0.5"/><circle cx="193.0" cy="66.2" r="0.5"/><circle cx="184.9" cy="69.5" r="0.5"/><circle cx="188.8" cy="67.5" r="0.5"/><circle cx="192.1" cy="71.7" r="0.5"/><circle cx="193.2" cy="63.5" r="0.5"/><circle cx="193.1" cy="61.5" r="0.5"/><circle cx="184.7" cy="67.1" r="0.5"/><circle cx="185.4" cy="67.9" r="0.5"/><circle cx="186.7" cy="73.2" r="0.5"/><circle cx="188.6" cy="71.4" r="0.5"/><circle cx="193.0" cy="66.9" r="0.5"/><circle cx="191.6" cy="72.9" r="0.5"/><circle cx="191.9" cy="64.4" r="0.5"/><circle cx="189.8" cy="65.0" r="0.5"/><circle cx="188.1" cy="70.8" r="0.5"/><circle cx="192.5" cy="63.6" r="0.5"/><circle cx="188.2" cy="63.5" r="0.5"/><circle cx="190.8" cy="66.0" r="0.5"/><circle cx="191.9" cy="66.0" r="0.5"/><circle cx="193.2" cy="67.7" r="0.5"/><circle cx="184.4" cy="66.9" r="0.5"/><circle cx="192.6" cy="62.2" r="0.5"/><circle cx="191.2" cy="61.7" r="0.5"/><circle cx="193.0" cy="60.9" r="0.5"/><circle cx="186.0" cy="70.9" r="0.5"/><circle cx="193.0" cy="63.3" r="0.5"/><circle cx="189.6" cy="71.2" r="0.5"/><circle cx="190.8" cy="67.4" r="0.5"/><circle cx="185.4" cy="67.3" r="0.5"/><circle cx="190.7" cy="66.4" r="0.5"/><circle cx="191.3" cy="67.9" r="0.5"/><circle cx="191.4" cy="65.8" r="0.5"/><circle cx="193.9" cy="67.4" r="0.5"/><circle cx="193.8" cy="70.8" r="0.5"/><circle cx="192.0" cy="67.7" r="0.5"/><circle cx="191.6" cy="63.5" r="0.5"/><circle cx="191.0" cy="67.7" r="0.5"/><circle cx="190.9" cy="66.0" r="0.5"/><circle cx="192.1" cy="72.4" r="0.5"/><circle cx="187.1" cy="64.4" r="0.5"/><circle cx="188.8" cy="66.0" r="0.5"/><circle cx="191.2" cy="70.6" r="0.5"/><circle cx="193.0" cy="71.3" r="0.5"/><circle cx="188.8" cy="66.3" r="0.5"/><circle cx="191.5" cy="64.4" r="0.5"/><circle cx="193.8" cy="65.8" r="0.5"/><circle cx="190.2" cy="67.3" r="0.5"/><circle cx="186.6" cy="66.7" r="0.5"/></g>
<path d="M188,81 Q182,83.5 176.5,86" stroke="#ed761a" stroke-width="1.8" fill="none" stroke-linecap="round" filter="url(#fz)"/>
<g fill="#159d8a" opacity="0.7"><circle cx="208.6" cy="56.0" r="0.45"/><circle cx="207.3" cy="57.0" r="0.45"/><circle cx="205.0" cy="60.7" r="0.45"/><circle cx="203.3" cy="59.7" r="0.45"/><circle cx="205.7" cy="60.0" r="0.45"/><circle cx="204.4" cy="61.6" r="0.45"/><circle cx="206.8" cy="59.0" r="0.45"/><circle cx="208.0" cy="56.3" r="0.45"/><circle cx="203.3" cy="58.9" r="0.45"/><circle cx="205.8" cy="61.7" r="0.45"/><circle cx="202.6" cy="60.3" r="0.45"/><circle cx="206.0" cy="61.0" r="0.45"/><circle cx="205.4" cy="56.8" r="0.45"/><circle cx="204.8" cy="58.3" r="0.45"/><circle cx="203.8" cy="59.1" r="0.45"/><circle cx="205.2" cy="60.2" r="0.45"/><circle cx="204.2" cy="61.3" r="0.45"/><circle cx="205.9" cy="59.6" r="0.45"/><circle cx="203.3" cy="61.3" r="0.45"/><circle cx="203.8" cy="60.9" r="0.45"/><circle cx="203.0" cy="61.7" r="0.45"/><circle cx="206.5" cy="56.2" r="0.45"/><circle cx="206.9" cy="56.1" r="0.45"/><circle cx="204.1" cy="57.6" r="0.45"/><circle cx="203.7" cy="57.5" r="0.45"/></g>
<g fill="#8c6b7c" opacity="0.7"><circle cx="201.7" cy="60.6" r="0.45"/><circle cx="203.8" cy="60.0" r="0.45"/><circle cx="204.4" cy="61.8" r="0.45"/><circle cx="205.7" cy="55.5" r="0.45"/><circle cx="203.9" cy="57.3" r="0.45"/><circle cx="204.4" cy="58.4" r="0.45"/><circle cx="207.7" cy="59.4" r="0.45"/><circle cx="202.2" cy="59.7" r="0.45"/><circle cx="202.9" cy="59.3" r="0.45"/><circle cx="204.3" cy="61.7" r="0.45"/><circle cx="204.6" cy="56.9" r="0.45"/><circle cx="203.5" cy="61.7" r="0.45"/><circle cx="203.8" cy="56.7" r="0.45"/><circle cx="205.3" cy="59.7" r="0.45"/><circle cx="203.6" cy="60.1" r="0.45"/></g>
<g fill="#a255b0" opacity="0.6"><circle cx="134.9" cy="54.9" r="0.45"/><circle cx="138.8" cy="48.9" r="0.45"/><circle cx="130.7" cy="49.8" r="0.45"/><circle cx="140.7" cy="49.6" r="0.45"/><circle cx="134.8" cy="51.0" r="0.45"/><circle cx="141.3" cy="53.1" r="0.45"/><circle cx="135.5" cy="51.7" r="0.45"/><circle cx="132.6" cy="56.3" r="0.45"/><circle cx="126.3" cy="52.3" r="0.45"/><circle cx="135.9" cy="49.5" r="0.45"/><circle cx="136.0" cy="55.3" r="0.45"/><circle cx="137.2" cy="52.8" r="0.45"/><circle cx="133.7" cy="54.8" r="0.45"/><circle cx="134.5" cy="50.9" r="0.45"/><circle cx="141.2" cy="53.2" r="0.45"/><circle cx="130.4" cy="51.9" r="0.45"/><circle cx="143.3" cy="53.4" r="0.45"/><circle cx="139.0" cy="49.0" r="0.45"/><circle cx="133.6" cy="54.1" r="0.45"/><circle cx="133.0" cy="54.5" r="0.45"/><circle cx="131.6" cy="54.5" r="0.45"/><circle cx="128.6" cy="52.9" r="0.45"/><circle cx="133.4" cy="53.3" r="0.45"/><circle cx="125.2" cy="50.4" r="0.45"/><circle cx="139.7" cy="49.7" r="0.45"/><circle cx="137.4" cy="55.3" r="0.45"/><circle cx="132.5" cy="52.0" r="0.45"/><circle cx="134.3" cy="50.7" r="0.45"/><circle cx="136.2" cy="55.3" r="0.45"/><circle cx="142.9" cy="53.1" r="0.45"/></g>
<g fill="#f2a942" opacity="0.5"><circle cx="180.6" cy="71.2" r="0.45"/><circle cx="179.8" cy="65.9" r="0.45"/><circle cx="178.2" cy="64.9" r="0.45"/><circle cx="172.9" cy="62.4" r="0.45"/><circle cx="174.3" cy="62.2" r="0.45"/><circle cx="180.3" cy="68.0" r="0.45"/><circle cx="176.8" cy="65.5" r="0.45"/><circle cx="177.5" cy="69.0" r="0.45"/><circle cx="182.0" cy="67.2" r="0.45"/><circle cx="179.9" cy="67.6" r="0.45"/><circle cx="183.4" cy="70.1" r="0.45"/><circle cx="172.8" cy="63.8" r="0.45"/></g>
<g fill="#159d8a" opacity="0.7"><circle cx="326.8" cy="60.1" r="0.45"/><circle cx="331.6" cy="56.9" r="0.45"/><circle cx="326.1" cy="61.0" r="0.45"/><circle cx="330.0" cy="55.6" r="0.45"/><circle cx="331.4" cy="59.5" r="0.45"/><circle cx="329.5" cy="61.8" r="0.45"/><circle cx="329.2" cy="58.1" r="0.45"/><circle cx="330.6" cy="60.5" r="0.45"/><circle cx="330.2" cy="61.6" r="0.45"/><circle cx="327.7" cy="61.3" r="0.45"/><circle cx="332.5" cy="57.4" r="0.45"/><circle cx="330.5" cy="61.7" r="0.45"/><circle cx="330.0" cy="60.1" r="0.45"/><circle cx="331.6" cy="56.2" r="0.45"/><circle cx="330.8" cy="58.1" r="0.45"/><circle cx="328.4" cy="60.1" r="0.45"/><circle cx="329.9" cy="57.2" r="0.45"/><circle cx="331.5" cy="60.9" r="0.45"/><circle cx="327.7" cy="58.2" r="0.45"/><circle cx="327.9" cy="60.8" r="0.45"/><circle cx="329.1" cy="55.4" r="0.45"/><circle cx="330.3" cy="58.8" r="0.45"/><circle cx="329.7" cy="57.1" r="0.45"/><circle cx="329.4" cy="57.6" r="0.45"/><circle cx="330.2" cy="59.7" r="0.45"/></g>
<g fill="#8c6b7c" opacity="0.7"><circle cx="327.7" cy="59.3" r="0.45"/><circle cx="327.6" cy="60.2" r="0.45"/><circle cx="327.1" cy="59.2" r="0.45"/><circle cx="331.4" cy="60.6" r="0.45"/><circle cx="329.7" cy="61.4" r="0.45"/><circle cx="328.4" cy="56.9" r="0.45"/><circle cx="330.5" cy="55.9" r="0.45"/><circle cx="330.7" cy="57.7" r="0.45"/><circle cx="329.8" cy="57.4" r="0.45"/><circle cx="326.4" cy="61.1" r="0.45"/><circle cx="331.7" cy="58.2" r="0.45"/><circle cx="329.3" cy="59.5" r="0.45"/><circle cx="328.2" cy="59.7" r="0.45"/><circle cx="326.2" cy="60.5" r="0.45"/><circle cx="329.7" cy="55.6" r="0.45"/></g>
<g fill="#a255b0" opacity="0.6"><circle cx="265.6" cy="53.1" r="0.45"/><circle cx="265.7" cy="54.3" r="0.45"/><circle cx="261.0" cy="49.7" r="0.45"/><circle cx="258.0" cy="50.9" r="0.45"/><circle cx="265.2" cy="49.2" r="0.45"/><circle cx="253.3" cy="53.9" r="0.45"/><circle cx="261.4" cy="52.0" r="0.45"/><circle cx="256.2" cy="49.4" r="0.45"/><circle cx="263.8" cy="51.7" r="0.45"/><circle cx="261.7" cy="56.2" r="0.45"/><circle cx="256.3" cy="57.3" r="0.45"/><circle cx="262.2" cy="50.0" r="0.45"/><circle cx="259.8" cy="48.7" r="0.45"/><circle cx="260.3" cy="50.1" r="0.45"/><circle cx="261.3" cy="51.1" r="0.45"/><circle cx="264.0" cy="48.5" r="0.45"/><circle cx="267.0" cy="52.5" r="0.45"/><circle cx="252.3" cy="50.9" r="0.45"/><circle cx="262.3" cy="49.0" r="0.45"/><circle cx="258.5" cy="57.6" r="0.45"/><circle cx="252.6" cy="49.8" r="0.45"/><circle cx="260.5" cy="54.4" r="0.45"/><circle cx="251.6" cy="50.2" r="0.45"/><circle cx="261.8" cy="50.4" r="0.45"/><circle cx="267.6" cy="56.1" r="0.45"/><circle cx="255.3" cy="54.0" r="0.45"/><circle cx="262.0" cy="54.3" r="0.45"/><circle cx="260.7" cy="50.3" r="0.45"/><circle cx="256.4" cy="51.1" r="0.45"/><circle cx="250.0" cy="50.4" r="0.45"/></g>
<g fill="#f2a942" opacity="0.5"><circle cx="309.3" cy="70.6" r="0.45"/><circle cx="302.5" cy="69.6" r="0.45"/><circle cx="300.2" cy="69.0" r="0.45"/><circle cx="297.3" cy="65.0" r="0.45"/><circle cx="298.5" cy="66.0" r="0.45"/><circle cx="305.6" cy="68.9" r="0.45"/><circle cx="305.5" cy="71.0" r="0.45"/><circle cx="304.0" cy="67.9" r="0.45"/><circle cx="303.3" cy="66.4" r="0.45"/><circle cx="297.5" cy="66.0" r="0.45"/><circle cx="299.5" cy="68.6" r="0.45"/><circle cx="300.8" cy="68.2" r="0.45"/></g>
<path d="M135,60 L141,58.5 L144,63 L143,69 L136,69.5 L133.5,65 Z" fill="#3f95bd" filter="url(#fz)" opacity="0.5"/>
<g fill="#3f95bd" opacity="0.8"><circle cx="138.4" cy="59.1" r="0.55"/><circle cx="133.8" cy="65.4" r="0.55"/><circle cx="140.1" cy="65.4" r="0.55"/><circle cx="138.8" cy="64.1" r="0.55"/><circle cx="138.0" cy="67.9" r="0.55"/><circle cx="140.8" cy="67.8" r="0.55"/><circle cx="135.3" cy="60.6" r="0.55"/><circle cx="142.6" cy="69.3" r="0.55"/><circle cx="135.4" cy="63.8" r="0.55"/><circle cx="143.5" cy="66.8" r="0.55"/><circle cx="139.8" cy="69.0" r="0.55"/><circle cx="140.1" cy="67.2" r="0.55"/><circle cx="136.3" cy="61.5" r="0.55"/><circle cx="143.6" cy="67.7" r="0.55"/><circle cx="140.3" cy="67.0" r="0.55"/><circle cx="134.8" cy="60.9" r="0.55"/><circle cx="139.6" cy="61.7" r="0.55"/><circle cx="141.0" cy="68.0" r="0.55"/><circle cx="134.2" cy="64.1" r="0.55"/><circle cx="139.2" cy="67.9" r="0.55"/><circle cx="142.1" cy="67.0" r="0.55"/><circle cx="136.9" cy="63.9" r="0.55"/><circle cx="133.7" cy="65.7" r="0.55"/><circle cx="135.0" cy="63.5" r="0.55"/><circle cx="142.2" cy="64.8" r="0.55"/><circle cx="140.7" cy="58.3" r="0.55"/><circle cx="135.1" cy="65.1" r="0.55"/><circle cx="141.5" cy="58.8" r="0.55"/><circle cx="133.8" cy="61.6" r="0.55"/><circle cx="137.7" cy="61.9" r="0.55"/><circle cx="140.5" cy="69.7" r="0.55"/><circle cx="140.4" cy="69.3" r="0.55"/><circle cx="134.2" cy="65.4" r="0.55"/><circle cx="137.1" cy="68.4" r="0.55"/><circle cx="139.9" cy="65.4" r="0.55"/><circle cx="134.4" cy="63.2" r="0.55"/><circle cx="133.7" cy="64.7" r="0.55"/><circle cx="135.4" cy="66.5" r="0.55"/><circle cx="136.0" cy="64.2" r="0.55"/><circle cx="141.4" cy="59.1" r="0.55"/><circle cx="140.2" cy="59.3" r="0.55"/><circle cx="139.1" cy="58.8" r="0.55"/><circle cx="136.1" cy="63.3" r="0.55"/><circle cx="139.3" cy="65.9" r="0.55"/><circle cx="143.9" cy="61.9" r="0.55"/><circle cx="136.9" cy="60.3" r="0.55"/><circle cx="141.6" cy="62.3" r="0.55"/><circle cx="135.3" cy="60.1" r="0.55"/><circle cx="137.8" cy="68.2" r="0.55"/><circle cx="138.0" cy="67.9" r="0.55"/><circle cx="138.4" cy="65.0" r="0.55"/><circle cx="135.8" cy="62.8" r="0.55"/><circle cx="141.5" cy="58.7" r="0.55"/><circle cx="138.2" cy="60.8" r="0.55"/><circle cx="136.2" cy="61.9" r="0.55"/><circle cx="135.1" cy="64.9" r="0.55"/><circle cx="135.9" cy="59.9" r="0.55"/><circle cx="142.8" cy="66.3" r="0.55"/><circle cx="135.0" cy="61.6" r="0.55"/><circle cx="138.9" cy="68.2" r="0.55"/><circle cx="142.8" cy="68.5" r="0.55"/><circle cx="136.8" cy="63.1" r="0.55"/><circle cx="135.3" cy="61.7" r="0.55"/><circle cx="134.8" cy="68.4" r="0.55"/><circle cx="134.1" cy="63.2" r="0.55"/><circle cx="135.4" cy="60.8" r="0.55"/><circle cx="141.6" cy="62.1" r="0.55"/><circle cx="140.4" cy="60.5" r="0.55"/><circle cx="133.3" cy="64.5" r="0.55"/><circle cx="138.6" cy="68.6" r="0.55"/><circle cx="135.6" cy="70.1" r="0.55"/><circle cx="140.1" cy="58.1" r="0.55"/><circle cx="142.3" cy="67.0" r="0.55"/><circle cx="140.7" cy="57.9" r="0.55"/><circle cx="142.0" cy="64.5" r="0.55"/><circle cx="138.6" cy="64.3" r="0.55"/><circle cx="143.8" cy="68.2" r="0.55"/><circle cx="137.5" cy="68.4" r="0.55"/><circle cx="134.8" cy="62.1" r="0.55"/><circle cx="138.5" cy="58.4" r="0.55"/><circle cx="135.9" cy="67.4" r="0.55"/><circle cx="137.9" cy="65.0" r="0.55"/><circle cx="134.2" cy="62.4" r="0.55"/><circle cx="139.4" cy="67.1" r="0.55"/><circle cx="135.8" cy="67.1" r="0.55"/><circle cx="139.3" cy="59.8" r="0.55"/><circle cx="142.6" cy="68.8" r="0.55"/><circle cx="144.3" cy="62.2" r="0.55"/><circle cx="142.3" cy="66.8" r="0.55"/><circle cx="139.6" cy="62.5" r="0.55"/></g>
<g fill="#3f95bd" opacity="0.7"><circle cx="134.0" cy="59.1" r="0.5"/><circle cx="130.1" cy="56.5" r="0.5"/><circle cx="140.3" cy="52.8" r="0.5"/><circle cx="129.3" cy="59.9" r="0.5"/><circle cx="141.5" cy="58.0" r="0.5"/><circle cx="134.3" cy="55.1" r="0.5"/><circle cx="140.6" cy="57.9" r="0.5"/><circle cx="136.4" cy="60.5" r="0.5"/><circle cx="139.1" cy="59.8" r="0.5"/><circle cx="132.1" cy="54.8" r="0.5"/><circle cx="133.7" cy="55.7" r="0.5"/><circle cx="143.6" cy="59.5" r="0.5"/><circle cx="144.6" cy="58.2" r="0.5"/><circle cx="135.5" cy="55.6" r="0.5"/><circle cx="130.7" cy="60.0" r="0.5"/><circle cx="135.0" cy="53.1" r="0.5"/><circle cx="130.3" cy="56.1" r="0.5"/><circle cx="134.4" cy="60.5" r="0.5"/><circle cx="139.1" cy="55.0" r="0.5"/><circle cx="140.0" cy="56.9" r="0.5"/><circle cx="136.9" cy="55.8" r="0.5"/><circle cx="135.6" cy="60.0" r="0.5"/><circle cx="129.9" cy="52.9" r="0.5"/><circle cx="141.7" cy="53.8" r="0.5"/><circle cx="134.3" cy="55.0" r="0.5"/><circle cx="133.7" cy="58.5" r="0.5"/><circle cx="130.5" cy="56.3" r="0.5"/><circle cx="140.4" cy="54.1" r="0.5"/><circle cx="140.7" cy="54.2" r="0.5"/><circle cx="139.0" cy="51.6" r="0.5"/><circle cx="134.1" cy="56.4" r="0.5"/><circle cx="138.8" cy="55.4" r="0.5"/><circle cx="129.6" cy="56.2" r="0.5"/><circle cx="142.8" cy="53.4" r="0.5"/><circle cx="132.3" cy="57.0" r="0.5"/><circle cx="130.2" cy="57.1" r="0.5"/><circle cx="143.1" cy="58.6" r="0.5"/><circle cx="138.4" cy="59.7" r="0.5"/><circle cx="142.6" cy="53.3" r="0.5"/><circle cx="135.1" cy="60.7" r="0.5"/><circle cx="144.1" cy="57.2" r="0.5"/><circle cx="139.1" cy="54.1" r="0.5"/><circle cx="130.5" cy="54.0" r="0.5"/><circle cx="132.7" cy="57.1" r="0.5"/><circle cx="139.5" cy="57.1" r="0.5"/><circle cx="134.9" cy="60.1" r="0.5"/><circle cx="136.5" cy="58.9" r="0.5"/><circle cx="131.9" cy="54.2" r="0.5"/><circle cx="141.8" cy="53.6" r="0.5"/><circle cx="140.7" cy="56.8" r="0.5"/><circle cx="135.0" cy="53.4" r="0.5"/><circle cx="145.0" cy="56.7" r="0.5"/><circle cx="140.1" cy="55.6" r="0.5"/><circle cx="139.0" cy="54.6" r="0.5"/><circle cx="133.4" cy="53.6" r="0.5"/><circle cx="132.6" cy="57.8" r="0.5"/><circle cx="141.5" cy="57.5" r="0.5"/><circle cx="140.9" cy="52.7" r="0.5"/><circle cx="137.3" cy="50.8" r="0.5"/><circle cx="134.5" cy="55.5" r="0.5"/><circle cx="131.2" cy="52.6" r="0.5"/><circle cx="131.4" cy="57.3" r="0.5"/><circle cx="142.5" cy="53.8" r="0.5"/><circle cx="140.7" cy="60.3" r="0.5"/><circle cx="141.2" cy="58.8" r="0.5"/><circle cx="140.2" cy="54.9" r="0.5"/><circle cx="138.2" cy="60.3" r="0.5"/><circle cx="138.1" cy="50.8" r="0.5"/><circle cx="136.2" cy="59.6" r="0.5"/><circle cx="140.3" cy="55.6" r="0.5"/><circle cx="143.9" cy="58.4" r="0.5"/><circle cx="132.6" cy="57.9" r="0.5"/><circle cx="144.0" cy="55.0" r="0.5"/><circle cx="134.1" cy="53.7" r="0.5"/><circle cx="132.5" cy="57.4" r="0.5"/><circle cx="141.7" cy="57.3" r="0.5"/><circle cx="133.6" cy="54.7" r="0.5"/><circle cx="141.7" cy="58.3" r="0.5"/><circle cx="144.9" cy="59.7" r="0.5"/><circle cx="137.5" cy="58.3" r="0.5"/><circle cx="142.1" cy="56.0" r="0.5"/><circle cx="139.9" cy="59.5" r="0.5"/><circle cx="142.3" cy="52.2" r="0.5"/><circle cx="129.5" cy="57.9" r="0.5"/><circle cx="142.1" cy="52.5" r="0.5"/><circle cx="142.6" cy="58.4" r="0.5"/><circle cx="139.5" cy="57.0" r="0.5"/><circle cx="131.6" cy="60.0" r="0.5"/><circle cx="132.4" cy="59.3" r="0.5"/><circle cx="140.2" cy="56.3" r="0.5"/></g>
<g fill="#ffffff" opacity="0.6"><circle cx="143.1" cy="63.4" r="0.5"/><circle cx="137.8" cy="61.1" r="0.5"/><circle cx="142.4" cy="62.0" r="0.5"/><circle cx="141.1" cy="68.9" r="0.5"/><circle cx="136.9" cy="65.0" r="0.5"/><circle cx="142.3" cy="63.9" r="0.5"/><circle cx="135.2" cy="61.0" r="0.5"/><circle cx="137.6" cy="67.8" r="0.5"/><circle cx="142.5" cy="61.1" r="0.5"/><circle cx="141.3" cy="62.4" r="0.5"/><circle cx="141.5" cy="65.8" r="0.5"/><circle cx="134.2" cy="63.7" r="0.5"/><circle cx="137.9" cy="63.6" r="0.5"/><circle cx="139.3" cy="66.1" r="0.5"/><circle cx="137.7" cy="64.2" r="0.5"/><circle cx="142.2" cy="66.0" r="0.5"/><circle cx="135.5" cy="60.0" r="0.5"/><circle cx="136.4" cy="69.0" r="0.5"/><circle cx="137.6" cy="68.2" r="0.5"/><circle cx="137.4" cy="66.7" r="0.5"/><circle cx="138.8" cy="69.0" r="0.5"/><circle cx="138.8" cy="65.5" r="0.5"/><circle cx="140.7" cy="65.4" r="0.5"/><circle cx="135.4" cy="64.8" r="0.5"/><circle cx="138.0" cy="66.0" r="0.5"/><circle cx="141.6" cy="60.8" r="0.5"/><circle cx="137.4" cy="61.3" r="0.5"/><circle cx="143.6" cy="63.9" r="0.5"/><circle cx="138.2" cy="69.1" r="0.5"/><circle cx="141.7" cy="67.9" r="0.5"/></g>
<g fill="#e5161c" opacity="0.75"><circle cx="153.8" cy="63.4" r="0.5"/><circle cx="152.3" cy="62.6" r="0.5"/><circle cx="152.6" cy="69.6" r="0.5"/><circle cx="153.5" cy="79.6" r="0.5"/><circle cx="154.1" cy="64.2" r="0.5"/><circle cx="150.1" cy="73.9" r="0.5"/><circle cx="153.9" cy="68.8" r="0.5"/><circle cx="153.7" cy="68.8" r="0.5"/><circle cx="155.8" cy="72.3" r="0.5"/><circle cx="148.6" cy="70.4" r="0.5"/><circle cx="150.9" cy="72.1" r="0.5"/><circle cx="153.3" cy="75.5" r="0.5"/><circle cx="155.1" cy="70.6" r="0.5"/><circle cx="149.3" cy="74.9" r="0.5"/><circle cx="150.3" cy="68.2" r="0.5"/><circle cx="154.7" cy="66.0" r="0.5"/><circle cx="153.3" cy="67.1" r="0.5"/><circle cx="154.6" cy="73.3" r="0.5"/><circle cx="154.8" cy="78.9" r="0.5"/><circle cx="153.1" cy="68.0" r="0.5"/><circle cx="156.6" cy="71.5" r="0.5"/><circle cx="151.1" cy="78.5" r="0.5"/><circle cx="150.6" cy="62.4" r="0.5"/><circle cx="154.2" cy="78.3" r="0.5"/><circle cx="157.8" cy="76.5" r="0.5"/><circle cx="155.0" cy="70.7" r="0.5"/><circle cx="151.3" cy="64.1" r="0.5"/><circle cx="153.1" cy="76.8" r="0.5"/><circle cx="154.4" cy="79.6" r="0.5"/><circle cx="154.8" cy="68.9" r="0.5"/><circle cx="158.4" cy="76.8" r="0.5"/><circle cx="150.1" cy="78.1" r="0.5"/><circle cx="155.8" cy="67.8" r="0.5"/><circle cx="156.0" cy="70.6" r="0.5"/><circle cx="155.3" cy="78.5" r="0.5"/><circle cx="152.5" cy="74.6" r="0.5"/><circle cx="153.9" cy="66.3" r="0.5"/><circle cx="151.4" cy="65.8" r="0.5"/><circle cx="151.2" cy="71.7" r="0.5"/><circle cx="155.4" cy="75.5" r="0.5"/><circle cx="152.5" cy="69.1" r="0.5"/><circle cx="156.7" cy="78.5" r="0.5"/><circle cx="149.5" cy="72.7" r="0.5"/><circle cx="152.0" cy="64.4" r="0.5"/><circle cx="155.0" cy="71.2" r="0.5"/><circle cx="154.2" cy="70.7" r="0.5"/><circle cx="155.1" cy="75.8" r="0.5"/><circle cx="156.3" cy="74.4" r="0.5"/><circle cx="148.9" cy="69.6" r="0.5"/><circle cx="153.6" cy="69.9" r="0.5"/><circle cx="150.9" cy="73.0" r="0.5"/><circle cx="152.2" cy="67.5" r="0.5"/><circle cx="149.5" cy="78.4" r="0.5"/><circle cx="153.1" cy="72.0" r="0.5"/><circle cx="150.8" cy="78.8" r="0.5"/><circle cx="149.2" cy="74.3" r="0.5"/><circle cx="148.8" cy="71.1" r="0.5"/><circle cx="151.7" cy="79.1" r="0.5"/><circle cx="153.0" cy="76.9" r="0.5"/><circle cx="148.3" cy="65.5" r="0.5"/><circle cx="148.4" cy="65.9" r="0.5"/><circle cx="152.2" cy="71.0" r="0.5"/><circle cx="152.4" cy="66.8" r="0.5"/><circle cx="153.5" cy="69.9" r="0.5"/><circle cx="150.1" cy="70.8" r="0.5"/><circle cx="154.6" cy="71.9" r="0.5"/><circle cx="150.4" cy="78.9" r="0.5"/><circle cx="149.4" cy="66.8" r="0.5"/><circle cx="152.8" cy="68.8" r="0.5"/><circle cx="150.4" cy="77.4" r="0.5"/><circle cx="151.5" cy="71.4" r="0.5"/><circle cx="153.0" cy="63.5" r="0.5"/><circle cx="154.2" cy="74.9" r="0.5"/><circle cx="157.8" cy="78.8" r="0.5"/><circle cx="149.3" cy="69.7" r="0.5"/><circle cx="155.7" cy="68.1" r="0.5"/><circle cx="152.5" cy="74.2" r="0.5"/><circle cx="157.9" cy="75.4" r="0.5"/><circle cx="152.8" cy="74.5" r="0.5"/><circle cx="153.9" cy="63.1" r="0.5"/></g>
<g fill="#e5161c" opacity="0.5"><circle cx="149.8" cy="76.7" r="0.45"/><circle cx="148.3" cy="64.6" r="0.45"/><circle cx="145.0" cy="68.5" r="0.45"/><circle cx="145.1" cy="69.7" r="0.45"/><circle cx="145.6" cy="70.5" r="0.45"/><circle cx="148.1" cy="73.9" r="0.45"/><circle cx="142.3" cy="67.0" r="0.45"/><circle cx="141.9" cy="68.9" r="0.45"/><circle cx="144.1" cy="71.6" r="0.45"/><circle cx="148.2" cy="78.7" r="0.45"/><circle cx="142.1" cy="68.4" r="0.45"/><circle cx="146.1" cy="72.8" r="0.45"/><circle cx="143.6" cy="78.9" r="0.45"/><circle cx="147.9" cy="75.1" r="0.45"/><circle cx="143.2" cy="77.2" r="0.45"/><circle cx="141.0" cy="67.4" r="0.45"/><circle cx="145.9" cy="72.0" r="0.45"/><circle cx="148.5" cy="68.6" r="0.45"/><circle cx="149.8" cy="73.5" r="0.45"/><circle cx="147.3" cy="72.6" r="0.45"/><circle cx="141.5" cy="72.5" r="0.45"/><circle cx="143.0" cy="68.6" r="0.45"/><circle cx="142.1" cy="75.6" r="0.45"/><circle cx="146.8" cy="66.0" r="0.45"/><circle cx="147.5" cy="77.2" r="0.45"/></g>
<g fill="#ffffff" opacity="0.85"><circle cx="147.4" cy="91.9" r="0.55"/><circle cx="146.5" cy="88.6" r="0.55"/><circle cx="143.7" cy="89.1" r="0.55"/><circle cx="150.2" cy="88.2" r="0.55"/><circle cx="152.8" cy="90.9" r="0.55"/><circle cx="145.7" cy="86.7" r="0.55"/><circle cx="141.7" cy="92.8" r="0.55"/><circle cx="145.9" cy="87.8" r="0.55"/><circle cx="147.4" cy="86.6" r="0.55"/><circle cx="146.4" cy="87.9" r="0.55"/><circle cx="146.2" cy="87.3" r="0.55"/><circle cx="144.7" cy="86.4" r="0.55"/><circle cx="144.5" cy="86.4" r="0.55"/><circle cx="137.5" cy="87.3" r="0.55"/><circle cx="136.5" cy="90.0" r="0.55"/><circle cx="137.8" cy="92.1" r="0.55"/><circle cx="142.0" cy="86.4" r="0.55"/><circle cx="146.4" cy="86.6" r="0.55"/><circle cx="149.8" cy="86.7" r="0.55"/><circle cx="137.1" cy="91.9" r="0.55"/><circle cx="149.1" cy="86.4" r="0.55"/><circle cx="148.2" cy="87.2" r="0.55"/><circle cx="145.7" cy="86.5" r="0.55"/><circle cx="146.3" cy="89.8" r="0.55"/><circle cx="146.8" cy="89.1" r="0.55"/><circle cx="152.4" cy="92.3" r="0.55"/><circle cx="143.8" cy="87.7" r="0.55"/><circle cx="146.1" cy="91.0" r="0.55"/><circle cx="147.5" cy="88.7" r="0.55"/><circle cx="148.5" cy="86.4" r="0.55"/><circle cx="149.7" cy="91.4" r="0.55"/><circle cx="150.0" cy="92.7" r="0.55"/><circle cx="142.1" cy="92.3" r="0.55"/><circle cx="138.0" cy="91.9" r="0.55"/><circle cx="140.0" cy="90.6" r="0.55"/><circle cx="146.1" cy="85.7" r="0.55"/><circle cx="136.3" cy="87.6" r="0.55"/><circle cx="136.2" cy="92.2" r="0.55"/><circle cx="152.9" cy="90.5" r="0.55"/><circle cx="136.0" cy="92.4" r="0.55"/><circle cx="141.0" cy="89.9" r="0.55"/><circle cx="150.5" cy="89.0" r="0.55"/><circle cx="138.2" cy="86.2" r="0.55"/><circle cx="143.2" cy="92.4" r="0.55"/><circle cx="143.8" cy="85.4" r="0.55"/><circle cx="148.4" cy="87.1" r="0.55"/><circle cx="151.7" cy="91.4" r="0.55"/><circle cx="139.4" cy="88.9" r="0.55"/><circle cx="154.1" cy="92.8" r="0.55"/><circle cx="148.6" cy="88.2" r="0.55"/><circle cx="145.0" cy="86.0" r="0.55"/><circle cx="138.9" cy="91.6" r="0.55"/><circle cx="147.5" cy="90.7" r="0.55"/><circle cx="150.0" cy="87.6" r="0.55"/><circle cx="146.4" cy="86.7" r="0.55"/><circle cx="148.4" cy="87.9" r="0.55"/><circle cx="136.7" cy="85.9" r="0.55"/><circle cx="136.3" cy="87.8" r="0.55"/><circle cx="143.2" cy="91.9" r="0.55"/><circle cx="136.8" cy="92.9" r="0.55"/><circle cx="137.8" cy="91.5" r="0.55"/><circle cx="142.8" cy="86.2" r="0.55"/><circle cx="147.6" cy="87.2" r="0.55"/><circle cx="136.3" cy="85.2" r="0.55"/><circle cx="148.9" cy="90.5" r="0.55"/><circle cx="150.6" cy="87.1" r="0.55"/><circle cx="145.8" cy="86.5" r="0.55"/><circle cx="143.8" cy="92.2" r="0.55"/><circle cx="140.8" cy="87.8" r="0.55"/><circle cx="151.4" cy="88.8" r="0.55"/></g>
<path d="M259.5,60 L265.5,58.5 L268.5,63 L267.5,69 L260.5,69.5 L258.0,65 Z" fill="#3f95bd" filter="url(#fz)" opacity="0.5"/>
<g fill="#3f95bd" opacity="0.8"><circle cx="261.4" cy="66.8" r="0.55"/><circle cx="265.1" cy="62.5" r="0.55"/><circle cx="267.5" cy="66.8" r="0.55"/><circle cx="265.8" cy="63.6" r="0.55"/><circle cx="265.3" cy="68.6" r="0.55"/><circle cx="262.1" cy="67.0" r="0.55"/><circle cx="265.6" cy="64.0" r="0.55"/><circle cx="266.5" cy="63.8" r="0.55"/><circle cx="258.7" cy="64.3" r="0.55"/><circle cx="266.3" cy="59.7" r="0.55"/><circle cx="262.8" cy="68.2" r="0.55"/><circle cx="261.5" cy="62.2" r="0.55"/><circle cx="265.6" cy="64.9" r="0.55"/><circle cx="260.7" cy="59.6" r="0.55"/><circle cx="262.3" cy="68.9" r="0.55"/><circle cx="265.6" cy="66.3" r="0.55"/><circle cx="262.1" cy="69.3" r="0.55"/><circle cx="264.8" cy="60.5" r="0.55"/><circle cx="258.0" cy="63.6" r="0.55"/><circle cx="263.9" cy="63.6" r="0.55"/><circle cx="264.2" cy="58.4" r="0.55"/><circle cx="261.6" cy="68.1" r="0.55"/><circle cx="260.7" cy="60.0" r="0.55"/><circle cx="267.7" cy="62.8" r="0.55"/><circle cx="261.2" cy="62.3" r="0.55"/><circle cx="267.9" cy="69.1" r="0.55"/><circle cx="265.4" cy="59.1" r="0.55"/><circle cx="266.1" cy="62.2" r="0.55"/><circle cx="260.3" cy="68.9" r="0.55"/><circle cx="259.4" cy="66.1" r="0.55"/><circle cx="260.6" cy="61.6" r="0.55"/><circle cx="266.6" cy="67.4" r="0.55"/><circle cx="259.8" cy="62.4" r="0.55"/><circle cx="261.1" cy="60.3" r="0.55"/><circle cx="263.7" cy="59.3" r="0.55"/><circle cx="261.0" cy="61.3" r="0.55"/><circle cx="262.8" cy="69.5" r="0.55"/><circle cx="266.1" cy="63.1" r="0.55"/><circle cx="259.5" cy="65.7" r="0.55"/><circle cx="266.5" cy="66.8" r="0.55"/><circle cx="263.3" cy="66.8" r="0.55"/><circle cx="261.2" cy="69.6" r="0.55"/><circle cx="266.2" cy="67.8" r="0.55"/><circle cx="263.7" cy="69.3" r="0.55"/><circle cx="262.9" cy="69.7" r="0.55"/><circle cx="262.6" cy="69.7" r="0.55"/><circle cx="261.0" cy="64.2" r="0.55"/><circle cx="264.0" cy="64.6" r="0.55"/><circle cx="267.4" cy="68.4" r="0.55"/><circle cx="259.4" cy="66.6" r="0.55"/><circle cx="263.6" cy="62.8" r="0.55"/><circle cx="264.1" cy="58.7" r="0.55"/><circle cx="261.1" cy="61.8" r="0.55"/><circle cx="258.3" cy="62.4" r="0.55"/><circle cx="261.6" cy="62.9" r="0.55"/><circle cx="268.7" cy="64.7" r="0.55"/><circle cx="260.0" cy="63.3" r="0.55"/><circle cx="261.6" cy="63.8" r="0.55"/><circle cx="259.4" cy="67.1" r="0.55"/><circle cx="268.5" cy="65.6" r="0.55"/><circle cx="263.7" cy="64.3" r="0.55"/><circle cx="265.6" cy="62.3" r="0.55"/><circle cx="258.1" cy="63.4" r="0.55"/><circle cx="267.1" cy="66.2" r="0.55"/><circle cx="257.8" cy="64.2" r="0.55"/><circle cx="259.4" cy="61.4" r="0.55"/><circle cx="260.0" cy="65.4" r="0.55"/><circle cx="265.8" cy="68.8" r="0.55"/><circle cx="263.3" cy="58.4" r="0.55"/><circle cx="260.8" cy="59.6" r="0.55"/><circle cx="267.5" cy="62.2" r="0.55"/><circle cx="263.0" cy="67.6" r="0.55"/><circle cx="259.4" cy="64.0" r="0.55"/><circle cx="257.7" cy="63.8" r="0.55"/><circle cx="268.4" cy="64.8" r="0.55"/><circle cx="260.9" cy="65.7" r="0.55"/><circle cx="263.3" cy="63.9" r="0.55"/><circle cx="264.9" cy="66.6" r="0.55"/><circle cx="265.5" cy="67.8" r="0.55"/><circle cx="259.6" cy="60.2" r="0.55"/><circle cx="267.4" cy="63.2" r="0.55"/><circle cx="258.8" cy="61.1" r="0.55"/><circle cx="267.2" cy="61.0" r="0.55"/><circle cx="266.8" cy="62.5" r="0.55"/><circle cx="264.0" cy="66.3" r="0.55"/><circle cx="265.9" cy="60.3" r="0.55"/><circle cx="265.3" cy="59.8" r="0.55"/><circle cx="260.2" cy="67.5" r="0.55"/><circle cx="259.1" cy="62.9" r="0.55"/><circle cx="258.6" cy="65.0" r="0.55"/></g>
<g fill="#3f95bd" opacity="0.7"><circle cx="256.3" cy="54.3" r="0.5"/><circle cx="269.2" cy="55.2" r="0.5"/><circle cx="261.5" cy="50.8" r="0.5"/><circle cx="263.4" cy="52.1" r="0.5"/><circle cx="265.3" cy="57.3" r="0.5"/><circle cx="258.2" cy="53.8" r="0.5"/><circle cx="257.9" cy="56.3" r="0.5"/><circle cx="262.6" cy="51.9" r="0.5"/><circle cx="256.0" cy="57.1" r="0.5"/><circle cx="258.0" cy="57.5" r="0.5"/><circle cx="254.6" cy="59.5" r="0.5"/><circle cx="262.1" cy="50.7" r="0.5"/><circle cx="259.2" cy="57.1" r="0.5"/><circle cx="257.0" cy="59.2" r="0.5"/><circle cx="253.6" cy="56.0" r="0.5"/><circle cx="262.7" cy="52.5" r="0.5"/><circle cx="269.3" cy="56.2" r="0.5"/><circle cx="255.6" cy="58.4" r="0.5"/><circle cx="254.0" cy="57.7" r="0.5"/><circle cx="266.9" cy="57.2" r="0.5"/><circle cx="266.8" cy="59.4" r="0.5"/><circle cx="257.8" cy="60.2" r="0.5"/><circle cx="258.7" cy="52.7" r="0.5"/><circle cx="256.9" cy="55.7" r="0.5"/><circle cx="256.9" cy="57.7" r="0.5"/><circle cx="259.1" cy="60.1" r="0.5"/><circle cx="262.5" cy="55.7" r="0.5"/><circle cx="265.7" cy="56.4" r="0.5"/><circle cx="260.7" cy="52.3" r="0.5"/><circle cx="266.3" cy="57.1" r="0.5"/><circle cx="260.9" cy="60.9" r="0.5"/><circle cx="260.9" cy="58.3" r="0.5"/><circle cx="256.1" cy="54.3" r="0.5"/><circle cx="263.6" cy="53.2" r="0.5"/><circle cx="263.8" cy="58.0" r="0.5"/><circle cx="257.8" cy="58.6" r="0.5"/><circle cx="267.3" cy="55.3" r="0.5"/><circle cx="262.5" cy="57.4" r="0.5"/><circle cx="256.4" cy="56.0" r="0.5"/><circle cx="263.7" cy="59.5" r="0.5"/><circle cx="257.8" cy="52.3" r="0.5"/><circle cx="260.2" cy="52.2" r="0.5"/><circle cx="257.6" cy="55.6" r="0.5"/><circle cx="264.5" cy="51.6" r="0.5"/><circle cx="256.3" cy="55.4" r="0.5"/><circle cx="261.8" cy="52.3" r="0.5"/><circle cx="264.1" cy="56.4" r="0.5"/><circle cx="263.5" cy="51.4" r="0.5"/><circle cx="261.9" cy="53.3" r="0.5"/><circle cx="264.6" cy="57.4" r="0.5"/><circle cx="257.9" cy="52.9" r="0.5"/><circle cx="269.4" cy="56.3" r="0.5"/><circle cx="264.7" cy="53.1" r="0.5"/><circle cx="268.6" cy="58.0" r="0.5"/><circle cx="261.6" cy="51.7" r="0.5"/><circle cx="256.9" cy="58.7" r="0.5"/><circle cx="255.3" cy="52.7" r="0.5"/><circle cx="259.0" cy="60.7" r="0.5"/><circle cx="256.1" cy="54.9" r="0.5"/><circle cx="262.0" cy="51.0" r="0.5"/><circle cx="262.5" cy="51.2" r="0.5"/><circle cx="258.6" cy="53.9" r="0.5"/><circle cx="269.5" cy="55.1" r="0.5"/><circle cx="258.3" cy="54.0" r="0.5"/><circle cx="258.3" cy="52.2" r="0.5"/><circle cx="258.6" cy="57.8" r="0.5"/><circle cx="259.1" cy="52.9" r="0.5"/><circle cx="254.1" cy="58.8" r="0.5"/><circle cx="258.3" cy="53.3" r="0.5"/><circle cx="262.3" cy="51.2" r="0.5"/><circle cx="266.9" cy="58.5" r="0.5"/><circle cx="253.8" cy="53.5" r="0.5"/><circle cx="266.9" cy="55.5" r="0.5"/><circle cx="256.9" cy="52.4" r="0.5"/><circle cx="264.1" cy="60.6" r="0.5"/><circle cx="255.3" cy="57.5" r="0.5"/><circle cx="267.9" cy="53.8" r="0.5"/><circle cx="259.5" cy="58.8" r="0.5"/><circle cx="262.2" cy="57.1" r="0.5"/><circle cx="254.4" cy="57.0" r="0.5"/><circle cx="255.9" cy="59.2" r="0.5"/><circle cx="265.9" cy="57.3" r="0.5"/><circle cx="266.8" cy="58.0" r="0.5"/><circle cx="254.2" cy="56.7" r="0.5"/><circle cx="269.4" cy="55.2" r="0.5"/><circle cx="256.1" cy="54.3" r="0.5"/><circle cx="259.1" cy="53.3" r="0.5"/><circle cx="264.7" cy="52.2" r="0.5"/><circle cx="260.9" cy="55.8" r="0.5"/><circle cx="258.5" cy="58.7" r="0.5"/></g>
<g fill="#ffffff" opacity="0.6"><circle cx="260.3" cy="67.3" r="0.5"/><circle cx="266.0" cy="65.4" r="0.5"/><circle cx="266.5" cy="69.0" r="0.5"/><circle cx="260.5" cy="65.8" r="0.5"/><circle cx="266.0" cy="68.1" r="0.5"/><circle cx="259.4" cy="60.8" r="0.5"/><circle cx="258.7" cy="66.1" r="0.5"/><circle cx="261.8" cy="66.2" r="0.5"/><circle cx="259.7" cy="65.5" r="0.5"/><circle cx="260.9" cy="63.3" r="0.5"/><circle cx="264.2" cy="69.0" r="0.5"/><circle cx="260.0" cy="67.1" r="0.5"/><circle cx="265.3" cy="59.4" r="0.5"/><circle cx="266.8" cy="68.3" r="0.5"/><circle cx="260.3" cy="66.3" r="0.5"/><circle cx="263.2" cy="62.5" r="0.5"/><circle cx="267.2" cy="61.4" r="0.5"/><circle cx="267.6" cy="62.5" r="0.5"/><circle cx="262.3" cy="67.7" r="0.5"/><circle cx="265.9" cy="60.5" r="0.5"/><circle cx="262.2" cy="64.6" r="0.5"/><circle cx="264.9" cy="66.4" r="0.5"/><circle cx="262.1" cy="62.7" r="0.5"/><circle cx="259.9" cy="65.4" r="0.5"/><circle cx="261.5" cy="67.2" r="0.5"/><circle cx="266.6" cy="62.4" r="0.5"/><circle cx="262.8" cy="64.6" r="0.5"/><circle cx="266.8" cy="67.7" r="0.5"/><circle cx="262.8" cy="63.7" r="0.5"/><circle cx="259.6" cy="61.1" r="0.5"/></g>
<g fill="#e5161c" opacity="0.75"><circle cx="274.6" cy="66.3" r="0.5"/><circle cx="278.8" cy="65.9" r="0.5"/><circle cx="275.6" cy="63.1" r="0.5"/><circle cx="277.5" cy="69.6" r="0.5"/><circle cx="274.0" cy="79.7" r="0.5"/><circle cx="273.0" cy="66.5" r="0.5"/><circle cx="278.1" cy="69.7" r="0.5"/><circle cx="280.6" cy="71.8" r="0.5"/><circle cx="275.9" cy="66.2" r="0.5"/><circle cx="278.0" cy="69.0" r="0.5"/><circle cx="273.7" cy="63.4" r="0.5"/><circle cx="273.2" cy="62.0" r="0.5"/><circle cx="279.9" cy="79.3" r="0.5"/><circle cx="279.3" cy="64.8" r="0.5"/><circle cx="279.5" cy="70.4" r="0.5"/><circle cx="275.8" cy="76.3" r="0.5"/><circle cx="275.5" cy="66.8" r="0.5"/><circle cx="273.0" cy="65.6" r="0.5"/><circle cx="280.9" cy="70.3" r="0.5"/><circle cx="275.6" cy="67.7" r="0.5"/><circle cx="278.4" cy="66.9" r="0.5"/><circle cx="278.4" cy="61.5" r="0.5"/><circle cx="277.0" cy="63.2" r="0.5"/><circle cx="278.0" cy="71.1" r="0.5"/><circle cx="283.0" cy="77.6" r="0.5"/><circle cx="275.9" cy="77.1" r="0.5"/><circle cx="273.9" cy="68.2" r="0.5"/><circle cx="281.1" cy="78.6" r="0.5"/><circle cx="274.6" cy="76.9" r="0.5"/><circle cx="280.5" cy="71.3" r="0.5"/><circle cx="277.6" cy="76.3" r="0.5"/><circle cx="277.9" cy="79.0" r="0.5"/><circle cx="278.7" cy="69.2" r="0.5"/><circle cx="282.9" cy="77.2" r="0.5"/><circle cx="277.1" cy="68.0" r="0.5"/><circle cx="276.1" cy="73.6" r="0.5"/><circle cx="280.1" cy="72.8" r="0.5"/><circle cx="278.5" cy="73.8" r="0.5"/><circle cx="280.5" cy="74.9" r="0.5"/><circle cx="283.2" cy="79.4" r="0.5"/><circle cx="279.6" cy="76.6" r="0.5"/><circle cx="274.8" cy="64.6" r="0.5"/><circle cx="275.0" cy="71.1" r="0.5"/><circle cx="273.0" cy="61.6" r="0.5"/><circle cx="281.5" cy="77.4" r="0.5"/><circle cx="276.0" cy="61.3" r="0.5"/><circle cx="282.5" cy="78.7" r="0.5"/><circle cx="277.1" cy="73.6" r="0.5"/><circle cx="279.5" cy="79.6" r="0.5"/><circle cx="280.4" cy="67.8" r="0.5"/><circle cx="274.6" cy="70.8" r="0.5"/><circle cx="278.7" cy="65.2" r="0.5"/><circle cx="274.2" cy="65.5" r="0.5"/><circle cx="276.0" cy="70.0" r="0.5"/><circle cx="275.1" cy="75.1" r="0.5"/><circle cx="275.9" cy="68.9" r="0.5"/><circle cx="273.2" cy="62.8" r="0.5"/><circle cx="278.8" cy="65.7" r="0.5"/><circle cx="275.2" cy="76.3" r="0.5"/><circle cx="278.0" cy="71.7" r="0.5"/><circle cx="280.0" cy="75.1" r="0.5"/><circle cx="283.1" cy="79.4" r="0.5"/><circle cx="273.8" cy="75.1" r="0.5"/><circle cx="272.8" cy="63.3" r="0.5"/><circle cx="275.4" cy="63.5" r="0.5"/><circle cx="274.3" cy="65.4" r="0.5"/><circle cx="281.8" cy="75.9" r="0.5"/><circle cx="278.3" cy="71.4" r="0.5"/><circle cx="281.1" cy="72.2" r="0.5"/><circle cx="273.4" cy="69.7" r="0.5"/><circle cx="274.8" cy="69.9" r="0.5"/><circle cx="276.2" cy="72.1" r="0.5"/><circle cx="280.1" cy="66.8" r="0.5"/><circle cx="277.0" cy="70.5" r="0.5"/><circle cx="275.1" cy="73.3" r="0.5"/><circle cx="276.3" cy="70.8" r="0.5"/><circle cx="280.2" cy="71.7" r="0.5"/><circle cx="275.4" cy="79.7" r="0.5"/><circle cx="276.9" cy="61.5" r="0.5"/><circle cx="277.4" cy="68.9" r="0.5"/></g>
<g fill="#e5161c" opacity="0.5"><circle cx="266.0" cy="70.4" r="0.45"/><circle cx="264.4" cy="78.1" r="0.45"/><circle cx="269.7" cy="68.3" r="0.45"/><circle cx="270.1" cy="72.9" r="0.45"/><circle cx="268.2" cy="76.1" r="0.45"/><circle cx="269.0" cy="77.8" r="0.45"/><circle cx="272.7" cy="74.4" r="0.45"/><circle cx="265.5" cy="74.6" r="0.45"/><circle cx="274.1" cy="74.3" r="0.45"/><circle cx="271.5" cy="72.1" r="0.45"/><circle cx="272.3" cy="72.2" r="0.45"/><circle cx="273.1" cy="66.3" r="0.45"/><circle cx="269.1" cy="73.4" r="0.45"/><circle cx="272.3" cy="74.8" r="0.45"/><circle cx="274.2" cy="78.5" r="0.45"/><circle cx="271.1" cy="73.0" r="0.45"/><circle cx="269.2" cy="70.6" r="0.45"/><circle cx="270.7" cy="69.1" r="0.45"/><circle cx="273.1" cy="72.2" r="0.45"/><circle cx="268.7" cy="71.7" r="0.45"/><circle cx="272.0" cy="76.5" r="0.45"/><circle cx="273.3" cy="74.6" r="0.45"/><circle cx="269.6" cy="65.2" r="0.45"/><circle cx="269.2" cy="75.3" r="0.45"/><circle cx="268.8" cy="77.1" r="0.45"/></g>
<g fill="#ffffff" opacity="0.85"><circle cx="267.3" cy="88.4" r="0.55"/><circle cx="265.5" cy="85.2" r="0.55"/><circle cx="263.3" cy="86.6" r="0.55"/><circle cx="274.3" cy="92.8" r="0.55"/><circle cx="264.6" cy="86.2" r="0.55"/><circle cx="275.6" cy="93.0" r="0.55"/><circle cx="273.0" cy="86.2" r="0.55"/><circle cx="260.6" cy="92.7" r="0.55"/><circle cx="272.8" cy="86.1" r="0.55"/><circle cx="269.5" cy="86.7" r="0.55"/><circle cx="275.2" cy="87.6" r="0.55"/><circle cx="262.1" cy="92.0" r="0.55"/><circle cx="266.8" cy="85.6" r="0.55"/><circle cx="272.0" cy="88.0" r="0.55"/><circle cx="262.8" cy="92.6" r="0.55"/><circle cx="276.1" cy="90.9" r="0.55"/><circle cx="263.7" cy="86.8" r="0.55"/><circle cx="263.8" cy="91.3" r="0.55"/><circle cx="273.2" cy="92.8" r="0.55"/><circle cx="270.4" cy="88.0" r="0.55"/><circle cx="265.8" cy="92.9" r="0.55"/><circle cx="262.8" cy="85.7" r="0.55"/><circle cx="264.3" cy="88.8" r="0.55"/><circle cx="265.0" cy="87.5" r="0.55"/><circle cx="261.0" cy="90.0" r="0.55"/><circle cx="261.9" cy="86.6" r="0.55"/><circle cx="262.4" cy="90.3" r="0.55"/><circle cx="264.6" cy="89.0" r="0.55"/><circle cx="261.1" cy="89.1" r="0.55"/><circle cx="267.0" cy="92.2" r="0.55"/><circle cx="264.2" cy="86.7" r="0.55"/><circle cx="269.8" cy="88.4" r="0.55"/><circle cx="266.0" cy="85.5" r="0.55"/><circle cx="260.7" cy="86.6" r="0.55"/><circle cx="267.7" cy="86.3" r="0.55"/><circle cx="274.0" cy="87.7" r="0.55"/><circle cx="272.1" cy="89.3" r="0.55"/><circle cx="274.0" cy="92.4" r="0.55"/><circle cx="271.2" cy="90.2" r="0.55"/><circle cx="276.3" cy="88.8" r="0.55"/><circle cx="261.2" cy="90.7" r="0.55"/><circle cx="270.0" cy="92.5" r="0.55"/><circle cx="268.4" cy="88.2" r="0.55"/><circle cx="277.5" cy="92.4" r="0.55"/><circle cx="275.1" cy="88.0" r="0.55"/><circle cx="268.7" cy="90.6" r="0.55"/><circle cx="273.8" cy="89.1" r="0.55"/><circle cx="271.0" cy="85.9" r="0.55"/><circle cx="265.9" cy="86.3" r="0.55"/><circle cx="264.7" cy="85.8" r="0.55"/><circle cx="276.0" cy="90.0" r="0.55"/><circle cx="266.4" cy="85.0" r="0.55"/><circle cx="273.3" cy="90.7" r="0.55"/><circle cx="272.7" cy="90.4" r="0.55"/><circle cx="275.6" cy="91.8" r="0.55"/><circle cx="263.7" cy="87.4" r="0.55"/><circle cx="279.2" cy="92.8" r="0.55"/><circle cx="276.0" cy="91.6" r="0.55"/><circle cx="263.5" cy="91.9" r="0.55"/><circle cx="277.8" cy="91.3" r="0.55"/><circle cx="277.9" cy="92.1" r="0.55"/><circle cx="262.3" cy="85.5" r="0.55"/><circle cx="267.1" cy="91.1" r="0.55"/><circle cx="268.3" cy="90.3" r="0.55"/><circle cx="267.1" cy="86.2" r="0.55"/><circle cx="264.1" cy="89.5" r="0.55"/><circle cx="274.2" cy="86.0" r="0.55"/><circle cx="274.6" cy="89.4" r="0.55"/><circle cx="271.4" cy="88.7" r="0.55"/><circle cx="270.7" cy="90.0" r="0.55"/></g>
<path d="M192,26 L195,25 L199,28 L202,31" stroke="#8f1d2a" stroke-width="2.0" fill="none" stroke-linecap="round" filter="url(#fb)"/>
<path d="M316.5,26 L320,25 L324,28 L327.5,31" stroke="#8f1d2a" stroke-width="2.0" fill="none" stroke-linecap="round" filter="url(#fb)"/>
<path d="M169.6,114.6 L171.2,114 Q171.5,117.5 172.3,119.2 Q173.2,120.1 174.4,119.5" stroke="#34466e" stroke-width="1.5" fill="none" stroke-linecap="round" filter="url(#fb)"/>
<path d="M293.6,114.3 L296,113.9 Q296.6,118 297.3,120.4 Q299.2,117.5 299.7,113.5" stroke="#34466e" stroke-width="1.4" fill="none" stroke-linecap="round" filter="url(#fb)"/>
<text x="41.9" y="165.2" font-size="6.1" text-anchor="start" font-weight="normal" fill="#222" >Percent Expressed</text>
<circle cx="100.3" cy="162.8" r="1.0" fill="#111"/>
<text x="107.6" y="165.2" font-size="6.3" text-anchor="start" font-weight="normal" fill="#222" >25</text>
<circle cx="123.3" cy="162.8" r="1.95" fill="#111"/>
<text x="130.8" y="165.2" font-size="6.3" text-anchor="start" font-weight="normal" fill="#222" >50</text>
<circle cx="146.2" cy="162.8" r="2.9" fill="#111"/>
<text x="154.3" y="165.2" font-size="6.3" text-anchor="start" font-weight="normal" fill="#222" >75</text>
<text x="181" y="165.3" font-size="6" text-anchor="start" font-weight="normal" fill="#222" >Average Expression</text>
<defs><linearGradient id="ag" x1="0" x2="1" y1="0" y2="0"><stop offset="0" stop-color="#fbeae6"/><stop offset="0.5" stop-color="#f1a195"/><stop offset="1" stop-color="#df3a30"/></linearGradient></defs>
<rect x="237.5" y="160.9" width="37.7" height="6.3" fill="url(#ag)"/>
<text x="237.6" y="159.5" font-size="6" text-anchor="middle" font-weight="normal" fill="#222" >0</text>
<text x="249.65" y="159.5" font-size="6" text-anchor="middle" font-weight="normal" fill="#222" >1</text>
<text x="261.7" y="159.5" font-size="6" text-anchor="middle" font-weight="normal" fill="#222" >2</text>
<text x="273.75" y="159.5" font-size="6" text-anchor="middle" font-weight="normal" fill="#222" >3</text>
<circle cx="34.10" cy="175.20" r="1.95" fill="#f7ddd6" stroke="#dcbfb7" stroke-width="0.6"/>
<circle cx="60.64" cy="175.20" r="0.50" fill="#e3e3e3" stroke="#c6c6c6" stroke-width="0.6"/>
<circle cx="100.45" cy="175.20" r="1.95" fill="#efc6bf" stroke="#d3a59e" stroke-width="0.6"/>
<circle cx="126.99" cy="175.20" r="0.50" fill="#e3e3e3" stroke="#c6c6c6" stroke-width="0.6"/>
<circle cx="140.26" cy="175.20" r="1.45" fill="#f4d9d3" stroke="#d9bbb4" stroke-width="0.6"/>
<circle cx="153.53" cy="175.20" r="1.45" fill="#f4dfd9" stroke="#d9c2bb" stroke-width="0.6"/>
<circle cx="166.80" cy="175.20" r="2.20" fill="#fbeae6" stroke="#e1cec9" stroke-width="0.6"/>
<circle cx="180.07" cy="175.20" r="1.20" fill="#f3e6e6" stroke="#d8c9c9" stroke-width="0.6"/>
<circle cx="206.61" cy="175.20" r="0.95" fill="#f1e6e6" stroke="#d6c9c9" stroke-width="0.6"/>
<circle cx="272.96" cy="175.20" r="2.70" fill="#e66c66" stroke="#c94039" stroke-width="0.6"/>
<circle cx="87.18" cy="184.87" r="1.70" fill="#d3736c" stroke="#b44840" stroke-width="0.6"/>
<circle cx="100.45" cy="184.87" r="1.70" fill="#f3ccc6" stroke="#d8aca5" stroke-width="0.6"/>
<circle cx="166.80" cy="184.87" r="2.70" fill="#f6d9d3" stroke="#dbbbb4" stroke-width="0.6"/>
<circle cx="206.61" cy="184.87" r="1.95" fill="#dfa69f" stroke="#c2817a" stroke-width="0.6"/>
<circle cx="246.42" cy="184.87" r="2.95" fill="#e6736a" stroke="#c9483e" stroke-width="0.6"/>
<circle cx="259.69" cy="184.87" r="2.70" fill="#e6665f" stroke="#c93932" stroke-width="0.6"/>
<circle cx="100.45" cy="194.54" r="1.70" fill="#ecb9b3" stroke="#d09790" stroke-width="0.6"/>
<circle cx="166.80" cy="194.54" r="3.20" fill="#e68673" stroke="#c95d48" stroke-width="0.6"/>
<circle cx="180.07" cy="194.54" r="3.20" fill="#df6c5f" stroke="#c24032" stroke-width="0.6"/>
<circle cx="246.42" cy="194.54" r="2.95" fill="#ecb3a6" stroke="#d09081" stroke-width="0.6"/>
<circle cx="34.10" cy="204.21" r="2.95" fill="#f4c6bf" stroke="#d9a59e" stroke-width="0.6"/>
<circle cx="47.37" cy="204.21" r="3.20" fill="#f2b3ac" stroke="#d79088" stroke-width="0.6"/>
<circle cx="166.80" cy="204.21" r="2.95" fill="#f6cfc6" stroke="#dbb0a5" stroke-width="0.6"/>
<circle cx="206.61" cy="204.21" r="1.95" fill="#df9f99" stroke="#c27a73" stroke-width="0.6"/>
<circle cx="219.88" cy="204.21" r="2.20" fill="#df5f59" stroke="#c2322b" stroke-width="0.6"/>
<circle cx="233.15" cy="204.21" r="2.20" fill="#df5f59" stroke="#c2322b" stroke-width="0.6"/>
<circle cx="34.10" cy="213.88" r="2.70" fill="#f9dfd9" stroke="#dfc2bb" stroke-width="0.6"/>
<circle cx="47.37" cy="213.88" r="3.20" fill="#f7d3cc" stroke="#dcb4ac" stroke-width="0.6"/>
<circle cx="140.26" cy="213.88" r="1.20" fill="#f9d3b9" stroke="#dfb497" stroke-width="0.6"/>
<circle cx="153.53" cy="213.88" r="1.20" fill="#f7dfd9" stroke="#dcc2bb" stroke-width="0.6"/>
<circle cx="193.34" cy="213.88" r="0.95" fill="#d35353" stroke="#b42424" stroke-width="0.6"/>
<circle cx="206.61" cy="213.88" r="1.45" fill="#ecbfb9" stroke="#d09e97" stroke-width="0.6"/>
<circle cx="34.10" cy="223.55" r="2.95" fill="#ec9f93" stroke="#d07a6c" stroke-width="0.6"/>
<circle cx="47.37" cy="223.55" r="3.20" fill="#eca699" stroke="#d08173" stroke-width="0.6"/>
<circle cx="100.45" cy="223.55" r="1.95" fill="#d9a6a6" stroke="#bb8181" stroke-width="0.6"/>
<circle cx="140.26" cy="223.55" r="2.70" fill="#df6659" stroke="#c2392b" stroke-width="0.6"/>
<circle cx="153.53" cy="223.55" r="2.20" fill="#e6aca6" stroke="#c98881" stroke-width="0.6"/>
<circle cx="166.80" cy="223.55" r="3.20" fill="#f1b3a6" stroke="#d69081" stroke-width="0.6"/>
<circle cx="180.07" cy="223.55" r="2.45" fill="#e6c6bf" stroke="#c9a59e" stroke-width="0.6"/>
<circle cx="193.34" cy="223.55" r="0.95" fill="#d97373" stroke="#bb4848" stroke-width="0.6"/>
<circle cx="206.61" cy="223.55" r="0.70" fill="#f9dfdf" stroke="#dfc2c2" stroke-width="0.6"/>
<circle cx="233.15" cy="223.55" r="0.70" fill="#f1f1f1" stroke="#d6d6d6" stroke-width="0.6"/>
<circle cx="246.42" cy="223.55" r="2.20" fill="#f1e3e3" stroke="#d6c6c6" stroke-width="0.6"/>
<circle cx="34.10" cy="233.22" r="2.95" fill="#f6d3cc" stroke="#dbb4ac" stroke-width="0.6"/>
<circle cx="47.37" cy="233.22" r="3.20" fill="#f6ccc6" stroke="#dbaca5" stroke-width="0.6"/>
<circle cx="73.91" cy="233.22" r="2.70" fill="#eca699" stroke="#d08173" stroke-width="0.6"/>
<circle cx="140.26" cy="233.22" r="2.70" fill="#f3bfb3" stroke="#d89e90" stroke-width="0.6"/>
<circle cx="153.53" cy="233.22" r="2.95" fill="#ec6666" stroke="#d03939" stroke-width="0.6"/>
<circle cx="34.10" cy="242.89" r="2.95" fill="#fbe6df" stroke="#e1c9c2" stroke-width="0.6"/>
<circle cx="47.37" cy="242.89" r="3.20" fill="#f9d9d3" stroke="#dfbbb4" stroke-width="0.6"/>
<circle cx="60.64" cy="242.89" r="1.20" fill="#e6b3b3" stroke="#c99090" stroke-width="0.6"/>
<circle cx="73.91" cy="242.89" r="2.20" fill="#f3ccc6" stroke="#d8aca5" stroke-width="0.6"/>
<circle cx="113.72" cy="242.89" r="1.95" fill="#d35f59" stroke="#b4322b" stroke-width="0.6"/>
<circle cx="126.99" cy="242.89" r="1.45" fill="#d36666" stroke="#b43939" stroke-width="0.6"/>
<circle cx="34.10" cy="252.56" r="2.95" fill="#f9dfd9" stroke="#dfc2bb" stroke-width="0.6"/>
<circle cx="47.37" cy="252.56" r="3.20" fill="#f9d9d3" stroke="#dfbbb4" stroke-width="0.6"/>
<circle cx="60.64" cy="252.56" r="1.70" fill="#d37979" stroke="#b44f4f" stroke-width="0.6"/>
<circle cx="73.91" cy="252.56" r="1.45" fill="#f9ece6" stroke="#dfd0c9" stroke-width="0.6"/>
<circle cx="87.18" cy="252.56" r="1.95" fill="#d97f79" stroke="#bb564f" stroke-width="0.6"/>
<circle cx="100.45" cy="252.56" r="1.95" fill="#d99999" stroke="#bb7373" stroke-width="0.6"/>
<circle cx="126.99" cy="252.56" r="0.50" fill="#e6b3b3" stroke="#c99090" stroke-width="0.6"/>
<circle cx="34.10" cy="262.23" r="2.95" fill="#fbe6df" stroke="#e1c9c2" stroke-width="0.6"/>
<circle cx="47.37" cy="262.23" r="3.20" fill="#f9dfd9" stroke="#dfc2bb" stroke-width="0.6"/>
<circle cx="60.64" cy="262.23" r="1.20" fill="#d9a6a6" stroke="#bb8181" stroke-width="0.6"/>
<circle cx="73.91" cy="262.23" r="2.95" fill="#e69386" stroke="#c96c5d" stroke-width="0.6"/>
<circle cx="34.10" cy="271.90" r="2.45" fill="#fbeae6" stroke="#e1cec9" stroke-width="0.6"/>
<circle cx="60.64" cy="271.90" r="0.50" fill="#f1f1f1" stroke="#d6d6d6" stroke-width="0.6"/>
<circle cx="73.91" cy="271.90" r="2.20" fill="#f3b9b3" stroke="#d89790" stroke-width="0.6"/>
<circle cx="153.53" cy="271.90" r="0.95" fill="#e6d9d9" stroke="#c9bbbb" stroke-width="0.6"/>
<rect x="26.8" y="169.6" width="254.10" height="107.60" fill="none" stroke="#222" stroke-width="1.1"/>
<line x1="280.9" y1="175.20" x2="283.5" y2="175.20" stroke="#222" stroke-width="0.8"/>
<text x="287.3" y="177.7" font-size="6.2" text-anchor="start" font-weight="normal" fill="#222" >Proliferative cell</text>
<line x1="280.9" y1="184.87" x2="283.5" y2="184.87" stroke="#222" stroke-width="0.8"/>
<text x="287.3" y="187.36999999999998" font-size="6.2" text-anchor="start" font-weight="normal" fill="#222" >Activated NK</text>
<line x1="280.9" y1="194.54" x2="283.5" y2="194.54" stroke="#222" stroke-width="0.8"/>
<text x="287.3" y="197.04" font-size="6.2" text-anchor="start" font-weight="normal" fill="#222" >NK</text>
<line x1="280.9" y1="204.21" x2="283.5" y2="204.21" stroke="#222" stroke-width="0.8"/>
<text x="287.3" y="206.70999999999998" font-size="6.2" text-anchor="start" font-weight="normal" fill="#222" >&#947;&#948; T</text>
<line x1="280.9" y1="213.88" x2="283.5" y2="213.88" stroke="#222" stroke-width="0.8"/>
<text x="287.3" y="216.38" font-size="6.2" text-anchor="start" font-weight="normal" fill="#222" >Exhausted T</text>
<line x1="280.9" y1="223.55" x2="283.5" y2="223.55" stroke="#222" stroke-width="0.8"/>
<text x="287.3" y="226.04999999999998" font-size="6.2" text-anchor="start" font-weight="normal" fill="#222" >CD8<tspan dy="-2.3" font-size="4.6">+</tspan><tspan dy="2.3"> CTL</tspan></text>
<line x1="280.9" y1="233.22" x2="283.5" y2="233.22" stroke="#222" stroke-width="0.8"/>
<text x="287.3" y="235.71999999999997" font-size="6.2" text-anchor="start" font-weight="normal" fill="#222" >Naive CD8<tspan dy="-2.3" font-size="4.6">+</tspan><tspan dy="2.3"> T</tspan></text>
<line x1="280.9" y1="242.89" x2="283.5" y2="242.89" stroke="#222" stroke-width="0.8"/>
<text x="287.3" y="245.39" font-size="6.2" text-anchor="start" font-weight="normal" fill="#222" >Treg</text>
<line x1="280.9" y1="252.56" x2="283.5" y2="252.56" stroke="#222" stroke-width="0.8"/>
<text x="287.3" y="255.06" font-size="6.2" text-anchor="start" font-weight="normal" fill="#222" >CD4<tspan dy="-2.3" font-size="4.6">+</tspan><tspan dy="2.3"> Th</tspan></text>
<line x1="280.9" y1="262.23" x2="283.5" y2="262.23" stroke="#222" stroke-width="0.8"/>
<text x="287.3" y="264.73" font-size="6.2" text-anchor="start" font-weight="normal" fill="#222" >Naive CD4<tspan dy="-2.3" font-size="4.6">+</tspan><tspan dy="2.3"> T</tspan></text>
<line x1="280.9" y1="271.90" x2="283.5" y2="271.90" stroke="#222" stroke-width="0.8"/>
<text x="287.3" y="274.4" font-size="6.2" text-anchor="start" font-weight="normal" fill="#222" >DNT</text>
<line x1="34.10" y1="277.2" x2="34.10" y2="279.5" stroke="#222" stroke-width="0.8"/>
<text x="0" y="0" font-size="6.6" text-anchor="end" font-weight="normal" fill="#222" transform="translate(37.10,288.0) rotate(-45)">CD3D</text>
<line x1="47.37" y1="277.2" x2="47.37" y2="279.5" stroke="#222" stroke-width="0.8"/>
<text x="0" y="0" font-size="6.6" text-anchor="end" font-weight="normal" fill="#222" transform="translate(50.37,288.0) rotate(-45)">CD3E</text>
<line x1="60.64" y1="277.2" x2="60.64" y2="279.5" stroke="#222" stroke-width="0.8"/>
<text x="0" y="0" font-size="6.6" text-anchor="end" font-weight="normal" fill="#222" transform="translate(63.64,288.0) rotate(-45)">CD4</text>
<line x1="73.91" y1="277.2" x2="73.91" y2="279.5" stroke="#222" stroke-width="0.8"/>
<text x="0" y="0" font-size="6.6" text-anchor="end" font-weight="normal" fill="#222" transform="translate(76.91,288.0) rotate(-45)">CCR7</text>
<line x1="87.18" y1="277.2" x2="87.18" y2="279.5" stroke="#222" stroke-width="0.8"/>
<text x="0" y="0" font-size="6.6" text-anchor="end" font-weight="normal" fill="#222" transform="translate(90.18,288.0) rotate(-45)">GPR183</text>
<line x1="100.45" y1="277.2" x2="100.45" y2="279.5" stroke="#222" stroke-width="0.8"/>
<text x="0" y="0" font-size="6.6" text-anchor="end" font-weight="normal" fill="#222" transform="translate(103.45,288.0) rotate(-45)">ITGB1</text>
<line x1="113.72" y1="277.2" x2="113.72" y2="279.5" stroke="#222" stroke-width="0.8"/>
<text x="0" y="0" font-size="6.6" text-anchor="end" font-weight="normal" fill="#222" transform="translate(116.72,288.0) rotate(-45)">FOXP3</text>
<line x1="126.99" y1="277.2" x2="126.99" y2="279.5" stroke="#222" stroke-width="0.8"/>
<text x="0" y="0" font-size="6.6" text-anchor="end" font-weight="normal" fill="#222" transform="translate(129.99,288.0) rotate(-45)">CTLA4</text>
<line x1="140.26" y1="277.2" x2="140.26" y2="279.5" stroke="#222" stroke-width="0.8"/>
<text x="0" y="0" font-size="6.6" text-anchor="end" font-weight="normal" fill="#222" transform="translate(143.26,288.0) rotate(-45)">CD8A</text>
<line x1="153.53" y1="277.2" x2="153.53" y2="279.5" stroke="#222" stroke-width="0.8"/>
<text x="0" y="0" font-size="6.6" text-anchor="end" font-weight="normal" fill="#222" transform="translate(156.53,288.0) rotate(-45)">CD8B</text>
<line x1="166.80" y1="277.2" x2="166.80" y2="279.5" stroke="#222" stroke-width="0.8"/>
<text x="0" y="0" font-size="6.6" text-anchor="end" font-weight="normal" fill="#222" transform="translate(169.80,288.0) rotate(-45)">NKG7</text>
<line x1="180.07" y1="277.2" x2="180.07" y2="279.5" stroke="#222" stroke-width="0.8"/>
<text x="0" y="0" font-size="6.6" text-anchor="end" font-weight="normal" fill="#222" transform="translate(183.07,288.0) rotate(-45)">GZMB</text>
<line x1="193.34" y1="277.2" x2="193.34" y2="279.5" stroke="#222" stroke-width="0.8"/>
<text x="0" y="0" font-size="6.6" text-anchor="end" font-weight="normal" fill="#222" transform="translate(196.34,288.0) rotate(-45)">ZNF683</text>
<line x1="206.61" y1="277.2" x2="206.61" y2="279.5" stroke="#222" stroke-width="0.8"/>
<text x="0" y="0" font-size="6.6" text-anchor="end" font-weight="normal" fill="#222" transform="translate(209.61,288.0) rotate(-45)">GZMK</text>
<line x1="219.88" y1="277.2" x2="219.88" y2="279.5" stroke="#222" stroke-width="0.8"/>
<text x="0" y="0" font-size="6.6" text-anchor="end" font-weight="normal" fill="#222" transform="translate(222.88,288.0) rotate(-45)">TRDV2</text>
<line x1="233.15" y1="277.2" x2="233.15" y2="279.5" stroke="#222" stroke-width="0.8"/>
<text x="0" y="0" font-size="6.6" text-anchor="end" font-weight="normal" fill="#222" transform="translate(236.15,288.0) rotate(-45)">TRGV9</text>
<line x1="246.42" y1="277.2" x2="246.42" y2="279.5" stroke="#222" stroke-width="0.8"/>
<text x="0" y="0" font-size="6.6" text-anchor="end" font-weight="normal" fill="#222" transform="translate(249.42,288.0) rotate(-45)">GNLY</text>
<line x1="259.69" y1="277.2" x2="259.69" y2="279.5" stroke="#222" stroke-width="0.8"/>
<text x="0" y="0" font-size="6.6" text-anchor="end" font-weight="normal" fill="#222" transform="translate(262.69,288.0) rotate(-45)">XCL1</text>
<line x1="272.96" y1="277.2" x2="272.96" y2="279.5" stroke="#222" stroke-width="0.8"/>
<text x="0" y="0" font-size="6.6" text-anchor="end" font-weight="normal" fill="#222" transform="translate(275.96,288.0) rotate(-45)">MKI67</text>
<line x1="391.5" y1="152.5" x2="391.5" y2="284.0" stroke="#222" stroke-width="1"/>
<line x1="391.0" y1="283.5" x2="504" y2="283.5" stroke="#222" stroke-width="1"/>
<line x1="388.5" y1="283.5" x2="391.5" y2="283.5" stroke="#222" stroke-width="1"/>
<text x="385.6" y="285.8" font-size="6.5" text-anchor="end" font-weight="normal" fill="#222" >0.00</text>
<line x1="388.5" y1="251.5" x2="391.5" y2="251.5" stroke="#222" stroke-width="1"/>
<text x="385.6" y="253.8" font-size="6.5" text-anchor="end" font-weight="normal" fill="#222" >0.25</text>
<line x1="388.5" y1="219.5" x2="391.5" y2="219.5" stroke="#222" stroke-width="1"/>
<text x="385.6" y="221.8" font-size="6.5" text-anchor="end" font-weight="normal" fill="#222" >0.50</text>
<line x1="388.5" y1="187.5" x2="391.5" y2="187.5" stroke="#222" stroke-width="1"/>
<text x="385.6" y="189.8" font-size="6.5" text-anchor="end" font-weight="normal" fill="#222" >0.75</text>
<line x1="388.5" y1="155.5" x2="391.5" y2="155.5" stroke="#222" stroke-width="1"/>
<text x="385.6" y="157.8" font-size="6.5" text-anchor="end" font-weight="normal" fill="#222" >1.00</text>
<text x="0" y="0" font-size="8.4" text-anchor="middle" font-weight="normal" fill="#222" transform="translate(367.0,218.5) rotate(-90)" textLength="12.9" lengthAdjust="spacingAndGlyphs">Ratio</text>
<rect x="393.30" y="155.50" width="9.6" height="4.35" fill="#3f95bd"/>
<rect x="393.30" y="159.85" width="9.6" height="39.17" fill="#b6b98e"/>
<rect x="393.30" y="199.02" width="9.6" height="6.40" fill="#e5161c"/>
<rect x="393.30" y="205.42" width="9.6" height="1.66" fill="#f2a58a"/>
<rect x="393.30" y="207.08" width="9.6" height="40.45" fill="#9b4ea6"/>
<rect x="393.30" y="247.53" width="9.6" height="7.81" fill="#8c6b7c"/>
<rect x="393.30" y="255.34" width="9.6" height="8.96" fill="#f2a942"/>
<rect x="393.30" y="264.30" width="9.6" height="1.28" fill="#ed761a"/>
<rect x="393.30" y="265.58" width="9.6" height="17.15" fill="#159d8a"/>
<rect x="393.30" y="282.73" width="9.6" height="0.38" fill="#8f1d2a"/>
<rect x="393.30" y="283.12" width="9.6" height="0.38" fill="#2f4f8f"/>
<line x1="398.5" y1="283.5" x2="398.5" y2="286.8" stroke="#222" stroke-width="1"/>
<text x="0" y="0" font-size="6.3" text-anchor="end" font-weight="normal" fill="#222" transform="translate(401.30,293.6) rotate(-45)">HA01</text>
<rect x="404.46" y="155.50" width="9.6" height="4.35" fill="#3f95bd"/>
<rect x="404.46" y="159.85" width="9.6" height="24.70" fill="#b6b98e"/>
<rect x="404.46" y="184.56" width="9.6" height="4.61" fill="#e5161c"/>
<rect x="404.46" y="189.16" width="9.6" height="1.79" fill="#f2a58a"/>
<rect x="404.46" y="190.96" width="9.6" height="32.64" fill="#9b4ea6"/>
<rect x="404.46" y="223.60" width="9.6" height="8.45" fill="#8c6b7c"/>
<rect x="404.46" y="232.04" width="9.6" height="8.96" fill="#f2a942"/>
<rect x="404.46" y="241.00" width="9.6" height="7.04" fill="#ed761a"/>
<rect x="404.46" y="248.04" width="9.6" height="31.10" fill="#159d8a"/>
<rect x="404.46" y="279.15" width="9.6" height="2.69" fill="#8f1d2a"/>
<rect x="404.46" y="281.84" width="9.6" height="1.66" fill="#2f4f8f"/>
<line x1="409.5" y1="283.5" x2="409.5" y2="286.8" stroke="#222" stroke-width="1"/>
<text x="0" y="0" font-size="6.3" text-anchor="end" font-weight="normal" fill="#222" transform="translate(412.46,293.6) rotate(-45)">HA05</text>
<rect x="415.62" y="155.50" width="9.6" height="2.56" fill="#3f95bd"/>
<rect x="415.62" y="158.06" width="9.6" height="37.50" fill="#b6b98e"/>
<rect x="415.62" y="195.56" width="9.6" height="9.22" fill="#e5161c"/>
<rect x="415.62" y="204.78" width="9.6" height="3.46" fill="#f2a58a"/>
<rect x="415.62" y="208.24" width="9.6" height="34.30" fill="#9b4ea6"/>
<rect x="415.62" y="242.54" width="9.6" height="14.08" fill="#8c6b7c"/>
<rect x="415.62" y="256.62" width="9.6" height="7.04" fill="#f2a942"/>
<rect x="415.62" y="263.66" width="9.6" height="7.68" fill="#ed761a"/>
<rect x="415.62" y="271.34" width="9.6" height="11.39" fill="#159d8a"/>
<rect x="415.62" y="282.73" width="9.6" height="0.38" fill="#8f1d2a"/>
<rect x="415.62" y="283.12" width="9.6" height="0.38" fill="#2f4f8f"/>
<line x1="420.5" y1="283.5" x2="420.5" y2="286.8" stroke="#222" stroke-width="1"/>
<text x="0" y="0" font-size="6.3" text-anchor="end" font-weight="normal" fill="#222" transform="translate(423.62,293.6) rotate(-45)">HA14</text>
<rect x="426.78" y="155.50" width="9.6" height="2.05" fill="#3f95bd"/>
<rect x="426.78" y="157.55" width="9.6" height="50.18" fill="#b6b98e"/>
<rect x="426.78" y="207.72" width="9.6" height="8.06" fill="#e5161c"/>
<rect x="426.78" y="215.79" width="9.6" height="3.20" fill="#f2a58a"/>
<rect x="426.78" y="218.99" width="9.6" height="21.38" fill="#9b4ea6"/>
<rect x="426.78" y="240.36" width="9.6" height="9.09" fill="#8c6b7c"/>
<rect x="426.78" y="249.45" width="9.6" height="8.45" fill="#f2a942"/>
<rect x="426.78" y="257.90" width="9.6" height="9.60" fill="#ed761a"/>
<rect x="426.78" y="267.50" width="9.6" height="15.23" fill="#159d8a"/>
<rect x="426.78" y="282.73" width="9.6" height="0.38" fill="#8f1d2a"/>
<rect x="426.78" y="283.12" width="9.6" height="0.38" fill="#2f4f8f"/>
<line x1="431.5" y1="283.5" x2="431.5" y2="286.8" stroke="#222" stroke-width="1"/>
<text x="0" y="0" font-size="6.3" text-anchor="end" font-weight="normal" fill="#222" transform="translate(434.78,293.6) rotate(-45)">HA15</text>
<rect x="437.94" y="155.50" width="9.6" height="12.42" fill="#3f95bd"/>
<rect x="437.94" y="167.92" width="9.6" height="49.92" fill="#b6b98e"/>
<rect x="437.94" y="217.84" width="9.6" height="6.40" fill="#e5161c"/>
<rect x="437.94" y="224.24" width="9.6" height="4.61" fill="#f2a58a"/>
<rect x="437.94" y="228.84" width="9.6" height="12.16" fill="#9b4ea6"/>
<rect x="437.94" y="241.00" width="9.6" height="14.85" fill="#8c6b7c"/>
<rect x="437.94" y="255.85" width="9.6" height="3.97" fill="#f2a942"/>
<rect x="437.94" y="259.82" width="9.6" height="2.56" fill="#ed761a"/>
<rect x="437.94" y="262.38" width="9.6" height="20.10" fill="#159d8a"/>
<rect x="437.94" y="282.48" width="9.6" height="0.51" fill="#8f1d2a"/>
<rect x="437.94" y="282.99" width="9.6" height="0.51" fill="#2f4f8f"/>
<line x1="442.5" y1="283.5" x2="442.5" y2="286.8" stroke="#222" stroke-width="1"/>
<text x="0" y="0" font-size="6.3" text-anchor="end" font-weight="normal" fill="#222" transform="translate(445.94,293.6) rotate(-45)">HA33</text>
<rect x="449.10" y="155.50" width="9.6" height="5.50" fill="#3f95bd"/>
<rect x="449.10" y="161.00" width="9.6" height="43.78" fill="#b6b98e"/>
<rect x="449.10" y="204.78" width="9.6" height="13.31" fill="#e5161c"/>
<rect x="449.10" y="218.09" width="9.6" height="4.22" fill="#f2a58a"/>
<rect x="449.10" y="222.32" width="9.6" height="26.62" fill="#9b4ea6"/>
<rect x="449.10" y="248.94" width="9.6" height="11.52" fill="#8c6b7c"/>
<rect x="449.10" y="260.46" width="9.6" height="8.32" fill="#f2a942"/>
<rect x="449.10" y="268.78" width="9.6" height="4.61" fill="#ed761a"/>
<rect x="449.10" y="273.39" width="9.6" height="8.45" fill="#159d8a"/>
<rect x="449.10" y="281.84" width="9.6" height="1.02" fill="#8f1d2a"/>
<rect x="449.10" y="282.86" width="9.6" height="0.64" fill="#2f4f8f"/>
<line x1="453.5" y1="283.5" x2="453.5" y2="286.8" stroke="#222" stroke-width="1"/>
<text x="0" y="0" font-size="6.3" text-anchor="end" font-weight="normal" fill="#222" transform="translate(457.10,293.6) rotate(-45)">HB25</text>
<rect x="460.26" y="155.50" width="9.6" height="1.66" fill="#3f95bd"/>
<rect x="460.26" y="157.16" width="9.6" height="35.58" fill="#b6b98e"/>
<rect x="460.26" y="192.75" width="9.6" height="9.09" fill="#e5161c"/>
<rect x="460.26" y="201.84" width="9.6" height="2.94" fill="#f2a58a"/>
<rect x="460.26" y="204.78" width="9.6" height="28.54" fill="#9b4ea6"/>
<rect x="460.26" y="233.32" width="9.6" height="21.25" fill="#8c6b7c"/>
<rect x="460.26" y="254.57" width="9.6" height="9.09" fill="#f2a942"/>
<rect x="460.26" y="263.66" width="9.6" height="3.84" fill="#ed761a"/>
<rect x="460.26" y="267.50" width="9.6" height="12.29" fill="#159d8a"/>
<rect x="460.26" y="279.79" width="9.6" height="2.05" fill="#8f1d2a"/>
<rect x="460.26" y="281.84" width="9.6" height="1.66" fill="#2f4f8f"/>
<line x1="465.5" y1="283.5" x2="465.5" y2="286.8" stroke="#222" stroke-width="1"/>
<text x="0" y="0" font-size="6.3" text-anchor="end" font-weight="normal" fill="#222" transform="translate(468.26,293.6) rotate(-45)">HB26</text>
<rect x="471.42" y="155.50" width="9.6" height="4.35" fill="#3f95bd"/>
<rect x="471.42" y="159.85" width="9.6" height="50.69" fill="#b6b98e"/>
<rect x="471.42" y="210.54" width="9.6" height="10.50" fill="#e5161c"/>
<rect x="471.42" y="221.04" width="9.6" height="2.56" fill="#f2a58a"/>
<rect x="471.42" y="223.60" width="9.6" height="16.13" fill="#9b4ea6"/>
<rect x="471.42" y="239.72" width="9.6" height="13.57" fill="#8c6b7c"/>
<rect x="471.42" y="253.29" width="9.6" height="4.61" fill="#f2a942"/>
<rect x="471.42" y="257.90" width="9.6" height="5.76" fill="#ed761a"/>
<rect x="471.42" y="263.66" width="9.6" height="17.54" fill="#159d8a"/>
<rect x="471.42" y="281.20" width="9.6" height="1.28" fill="#8f1d2a"/>
<rect x="471.42" y="282.48" width="9.6" height="1.02" fill="#2f4f8f"/>
<line x1="476.5" y1="283.5" x2="476.5" y2="286.8" stroke="#222" stroke-width="1"/>
<text x="0" y="0" font-size="6.3" text-anchor="end" font-weight="normal" fill="#222" transform="translate(479.42,293.6) rotate(-45)">HB27</text>
<rect x="482.58" y="155.50" width="9.6" height="1.66" fill="#3f95bd"/>
<rect x="482.58" y="157.16" width="9.6" height="55.68" fill="#b6b98e"/>
<rect x="482.58" y="212.84" width="9.6" height="10.75" fill="#e5161c"/>
<rect x="482.58" y="223.60" width="9.6" height="3.20" fill="#f2a58a"/>
<rect x="482.58" y="226.80" width="9.6" height="20.74" fill="#9b4ea6"/>
<rect x="482.58" y="247.53" width="9.6" height="13.57" fill="#8c6b7c"/>
<rect x="482.58" y="261.10" width="9.6" height="4.48" fill="#f2a942"/>
<rect x="482.58" y="265.58" width="9.6" height="5.76" fill="#ed761a"/>
<rect x="482.58" y="271.34" width="9.6" height="10.88" fill="#159d8a"/>
<rect x="482.58" y="282.22" width="9.6" height="0.64" fill="#8f1d2a"/>
<rect x="482.58" y="282.86" width="9.6" height="0.64" fill="#2f4f8f"/>
<line x1="487.5" y1="283.5" x2="487.5" y2="286.8" stroke="#222" stroke-width="1"/>
<text x="0" y="0" font-size="6.3" text-anchor="end" font-weight="normal" fill="#222" transform="translate(490.58,293.6) rotate(-45)">HB28</text>
<rect x="493.74" y="155.50" width="9.6" height="5.50" fill="#3f95bd"/>
<rect x="493.74" y="161.00" width="9.6" height="39.81" fill="#b6b98e"/>
<rect x="493.74" y="200.81" width="9.6" height="13.82" fill="#e5161c"/>
<rect x="493.74" y="214.64" width="9.6" height="4.61" fill="#f2a58a"/>
<rect x="493.74" y="219.24" width="9.6" height="28.42" fill="#9b4ea6"/>
<rect x="493.74" y="247.66" width="9.6" height="14.08" fill="#8c6b7c"/>
<rect x="493.74" y="261.74" width="9.6" height="6.40" fill="#f2a942"/>
<rect x="493.74" y="268.14" width="9.6" height="2.56" fill="#ed761a"/>
<rect x="493.74" y="270.70" width="9.6" height="11.52" fill="#159d8a"/>
<rect x="493.74" y="282.22" width="9.6" height="0.64" fill="#8f1d2a"/>
<rect x="493.74" y="282.86" width="9.6" height="0.64" fill="#2f4f8f"/>
<line x1="498.5" y1="283.5" x2="498.5" y2="286.8" stroke="#222" stroke-width="1"/>
<text x="0" y="0" font-size="6.3" text-anchor="end" font-weight="normal" fill="#222" transform="translate(501.74,293.6) rotate(-45)">HB34</text>
<text x="86" y="330.6" font-size="8.8" text-anchor="middle" font-weight="normal" fill="#222" textLength="15.8" lengthAdjust="spacingAndGlyphs">DNT</text>
<line x1="66.8" y1="343.5" x2="104.9" y2="343.5" stroke="#6a6a6a" stroke-width="0.95"/>
<text x="85.85" y="341.8" font-size="6" text-anchor="middle" font-weight="normal" fill="#333" ><tspan font-style="italic">P</tspan> = .55</text>
<line x1="67.20" y1="415.4" x2="67.20" y2="440" stroke="#7d8fbf" stroke-width="0.8"/>
<rect x="54" y="415.4" width="26.40" height="24.60" fill="#a4aecf" />
<line x1="54" y1="417.8" x2="80.4" y2="417.8" stroke="#2a4a8c" stroke-width="1.5"/>
<line x1="105.20" y1="407" x2="105.20" y2="441.6" stroke="#d25a5a" stroke-width="0.8"/>
<rect x="92.1" y="410.3" width="26.20" height="31.30" fill="#eea59c" />
<line x1="92.1" y1="417.8" x2="118.3" y2="417.8" stroke="#d42a2a" stroke-width="1.5"/>
<circle cx="74.1" cy="346.3" r="1.25" fill="#14224d"/>
<circle cx="64.6" cy="417.8" r="1.25" fill="#14224d"/>
<circle cx="71.8" cy="415.4" r="1.25" fill="#14224d"/>
<circle cx="66" cy="440" r="1.25" fill="#14224d"/>
<circle cx="73" cy="439" r="1.25" fill="#14224d"/>
<circle cx="98.4" cy="410.3" r="1.25" fill="#7e1422"/>
<circle cx="104.6" cy="407" r="1.25" fill="#7e1422"/>
<circle cx="111.1" cy="417.8" r="1.25" fill="#7e1422"/>
<circle cx="105.6" cy="441.6" r="1.25" fill="#7e1422"/>
<line x1="44.5" y1="341.6" x2="44.5" y2="447.0" stroke="#222" stroke-width="1.2"/>
<line x1="43.9" y1="446.5" x2="127.5" y2="446.5" stroke="#222" stroke-width="1.2"/>
<line x1="41.3" y1="370.5" x2="44.5" y2="370.5" stroke="#222" stroke-width="1"/>
<text x="38.2" y="372.90000000000003" font-size="6.5" text-anchor="end" font-weight="normal" fill="#222" >0.09</text>
<line x1="41.3" y1="401.5" x2="44.5" y2="401.5" stroke="#222" stroke-width="1"/>
<text x="38.2" y="403.6" font-size="6.5" text-anchor="end" font-weight="normal" fill="#222" >0.06</text>
<line x1="41.3" y1="431.5" x2="44.5" y2="431.5" stroke="#222" stroke-width="1"/>
<text x="38.2" y="433.8" font-size="6.5" text-anchor="end" font-weight="normal" fill="#222" >0.03</text>
<line x1="67.50" y1="446.5" x2="67.50" y2="449.7" stroke="#222" stroke-width="1"/>
<line x1="105.50" y1="446.5" x2="105.50" y2="449.7" stroke="#222" stroke-width="1"/>
<text x="212.6" y="330.6" font-size="8.8" text-anchor="middle" font-weight="normal" fill="#222" textLength="50.8" lengthAdjust="spacingAndGlyphs">Naive CD4<tspan dy="-3" font-size="6.2">+</tspan><tspan dy="3"> T</tspan></text>
<line x1="192" y1="343.5" x2="229.5" y2="343.5" stroke="#6a6a6a" stroke-width="0.95"/>
<text x="210.75" y="341.5" font-size="6" text-anchor="middle" font-weight="normal" fill="#333" ><tspan font-style="italic">P</tspan> = .72</text>
<line x1="191.62" y1="347.5" x2="191.62" y2="441.25" stroke="#7d8fbf" stroke-width="0.8"/>
<rect x="178.25" y="361.25" width="26.75" height="56.25" fill="#a4aecf" />
<line x1="178.25" y1="402" x2="205" y2="402" stroke="#2a4a8c" stroke-width="1.5"/>
<line x1="229.62" y1="345.75" x2="229.62" y2="422.5" stroke="#d25a5a" stroke-width="0.8"/>
<rect x="216.25" y="352" width="26.75" height="59.75" fill="#eea59c" />
<line x1="216.25" y1="396.25" x2="243" y2="396.25" stroke="#d42a2a" stroke-width="1.5"/>
<circle cx="198" cy="348.25" r="1.25" fill="#14224d"/>
<circle cx="197.5" cy="361.25" r="1.25" fill="#14224d"/>
<circle cx="188.75" cy="401.25" r="1.25" fill="#14224d"/>
<circle cx="190" cy="417.5" r="1.25" fill="#14224d"/>
<circle cx="195.75" cy="441.75" r="1.25" fill="#14224d"/>
<circle cx="230" cy="346.25" r="1.25" fill="#7e1422"/>
<circle cx="235" cy="352.5" r="1.25" fill="#7e1422"/>
<circle cx="222.5" cy="395.75" r="1.25" fill="#7e1422"/>
<circle cx="228.75" cy="410.75" r="1.25" fill="#7e1422"/>
<circle cx="230" cy="422.5" r="1.25" fill="#7e1422"/>
<line x1="168.5" y1="341.25" x2="168.5" y2="447.0" stroke="#222" stroke-width="1.2"/>
<line x1="167.9" y1="446.5" x2="251.5" y2="446.5" stroke="#222" stroke-width="1.2"/>
<line x1="165.3" y1="358.5" x2="168.5" y2="358.5" stroke="#222" stroke-width="1"/>
<text x="162.2" y="361.05" font-size="6.5" text-anchor="end" font-weight="normal" fill="#222" >0.45</text>
<line x1="165.3" y1="382.5" x2="168.5" y2="382.5" stroke="#222" stroke-width="1"/>
<text x="162.2" y="384.8" font-size="6.5" text-anchor="end" font-weight="normal" fill="#222" >0.40</text>
<line x1="165.3" y1="405.5" x2="168.5" y2="405.5" stroke="#222" stroke-width="1"/>
<text x="162.2" y="407.8" font-size="6.5" text-anchor="end" font-weight="normal" fill="#222" >0.35</text>
<line x1="165.3" y1="429.5" x2="168.5" y2="429.5" stroke="#222" stroke-width="1"/>
<text x="162.2" y="431.3" font-size="6.5" text-anchor="end" font-weight="normal" fill="#222" >0.30</text>
<line x1="191.50" y1="446.5" x2="191.50" y2="449.7" stroke="#222" stroke-width="1"/>
<line x1="229.50" y1="446.5" x2="229.50" y2="449.7" stroke="#222" stroke-width="1"/>
<text x="341" y="330.6" font-size="8.8" text-anchor="middle" font-weight="normal" fill="#222" textLength="33.5" lengthAdjust="spacingAndGlyphs">CD4<tspan dy="-3" font-size="6.2">+</tspan><tspan dy="3"> Th</tspan></text>
<line x1="322" y1="343.5" x2="360" y2="343.5" stroke="#6a6a6a" stroke-width="0.95"/>
<text x="341.0" y="341.5" font-size="6" text-anchor="middle" font-weight="normal" fill="#333" ><tspan font-style="italic">P</tspan> = .0056</text>
<line x1="322.12" y1="398.75" x2="322.12" y2="441.25" stroke="#7d8fbf" stroke-width="0.8"/>
<rect x="308.75" y="403.75" width="26.75" height="25.00" fill="#a4aecf" />
<line x1="308.75" y1="425.75" x2="335.5" y2="425.75" stroke="#2a4a8c" stroke-width="1.5"/>
<line x1="359.75" y1="345.75" x2="359.75" y2="398.75" stroke="#d25a5a" stroke-width="0.8"/>
<rect x="346.25" y="354.25" width="27.00" height="29.50" fill="#eea59c" />
<line x1="346.25" y1="376.5" x2="373.25" y2="376.5" stroke="#d42a2a" stroke-width="1.5"/>
<circle cx="321.25" cy="398.75" r="1.25" fill="#14224d"/>
<circle cx="328" cy="403.75" r="1.25" fill="#14224d"/>
<circle cx="319.25" cy="428.75" r="1.25" fill="#14224d"/>
<circle cx="328.75" cy="425.75" r="1.25" fill="#14224d"/>
<circle cx="326.25" cy="441.75" r="1.25" fill="#14224d"/>
<circle cx="353.25" cy="354.25" r="1.25" fill="#7e1422"/>
<circle cx="360" cy="345.75" r="1.25" fill="#7e1422"/>
<circle cx="365.75" cy="376.5" r="1.25" fill="#7e1422"/>
<circle cx="360.75" cy="383.75" r="1.25" fill="#7e1422"/>
<circle cx="360" cy="399.25" r="1.25" fill="#7e1422"/>
<line x1="299.5" y1="342" x2="299.5" y2="447.0" stroke="#222" stroke-width="1.2"/>
<line x1="298.9" y1="446.5" x2="382.5" y2="446.5" stroke="#222" stroke-width="1.2"/>
<line x1="296.3" y1="344.5" x2="299.5" y2="344.5" stroke="#222" stroke-width="1"/>
<text x="293.2" y="346.55" font-size="6.5" text-anchor="end" font-weight="normal" fill="#222" >0.12</text>
<line x1="296.3" y1="371.5" x2="299.5" y2="371.5" stroke="#222" stroke-width="1"/>
<text x="293.2" y="373.55" font-size="6.5" text-anchor="end" font-weight="normal" fill="#222" >0.10</text>
<line x1="296.3" y1="398.5" x2="299.5" y2="398.5" stroke="#222" stroke-width="1"/>
<text x="293.2" y="400.55" font-size="6.5" text-anchor="end" font-weight="normal" fill="#222" >0.08</text>
<line x1="296.3" y1="425.5" x2="299.5" y2="425.5" stroke="#222" stroke-width="1"/>
<text x="293.2" y="427.8" font-size="6.5" text-anchor="end" font-weight="normal" fill="#222" >0.06</text>
<line x1="322.50" y1="446.5" x2="322.50" y2="449.7" stroke="#222" stroke-width="1"/>
<line x1="360.50" y1="446.5" x2="360.50" y2="449.7" stroke="#222" stroke-width="1"/>
<text x="471.6" y="330.6" font-size="8.8" text-anchor="middle" font-weight="normal" fill="#222" textLength="15.75" lengthAdjust="spacingAndGlyphs">Treg</text>
<line x1="452.5" y1="343.5" x2="490" y2="343.5" stroke="#6a6a6a" stroke-width="0.95"/>
<text x="471.25" y="341.5" font-size="6" text-anchor="middle" font-weight="normal" fill="#333" ><tspan font-style="italic">P</tspan> = .16</text>
<line x1="453.12" y1="371.25" x2="453.12" y2="441.5" stroke="#7d8fbf" stroke-width="0.8"/>
<rect x="440" y="394.25" width="26.25" height="46.25" fill="#a4aecf" />
<line x1="440" y1="422.5" x2="466.25" y2="422.5" stroke="#2a4a8c" stroke-width="1.5"/>
<line x1="490.62" y1="345.75" x2="490.62" y2="405.75" stroke="#d25a5a" stroke-width="0.8"/>
<rect x="477.5" y="387" width="26.25" height="16.75" fill="#eea59c" />
<line x1="477.5" y1="392" x2="503.75" y2="392" stroke="#d42a2a" stroke-width="1.5"/>
<circle cx="459.25" cy="370.75" r="1.25" fill="#14224d"/>
<circle cx="451.25" cy="393.75" r="1.25" fill="#14224d"/>
<circle cx="458.25" cy="422.5" r="1.25" fill="#14224d"/>
<circle cx="449.5" cy="441.25" r="1.25" fill="#14224d"/>
<circle cx="457" cy="441.25" r="1.25" fill="#14224d"/>
<circle cx="490" cy="345.75" r="1.25" fill="#7e1422"/>
<circle cx="483.25" cy="386.75" r="1.25" fill="#7e1422"/>
<circle cx="490.75" cy="392" r="1.25" fill="#7e1422"/>
<circle cx="496.25" cy="403.25" r="1.25" fill="#7e1422"/>
<circle cx="491.25" cy="405.75" r="1.25" fill="#7e1422"/>
<line x1="430.5" y1="342" x2="430.5" y2="447.0" stroke="#222" stroke-width="1.2"/>
<line x1="429.9" y1="446.5" x2="513.5" y2="446.5" stroke="#222" stroke-width="1.2"/>
<line x1="427.3" y1="348.5" x2="430.5" y2="348.5" stroke="#222" stroke-width="1"/>
<text x="424.2" y="351.05" font-size="6.5" text-anchor="end" font-weight="normal" fill="#222" >0.05</text>
<line x1="427.3" y1="372.5" x2="430.5" y2="372.5" stroke="#222" stroke-width="1"/>
<text x="424.2" y="374.8" font-size="6.5" text-anchor="end" font-weight="normal" fill="#222" >0.04</text>
<line x1="427.3" y1="396.5" x2="430.5" y2="396.5" stroke="#222" stroke-width="1"/>
<text x="424.2" y="398.55" font-size="6.5" text-anchor="end" font-weight="normal" fill="#222" >0.03</text>
<line x1="427.3" y1="419.5" x2="430.5" y2="419.5" stroke="#222" stroke-width="1"/>
<text x="424.2" y="421.8" font-size="6.5" text-anchor="end" font-weight="normal" fill="#222" >0.02</text>
<line x1="427.3" y1="443.5" x2="430.5" y2="443.5" stroke="#222" stroke-width="1"/>
<text x="424.2" y="445.3" font-size="6.5" text-anchor="end" font-weight="normal" fill="#222" >0.01</text>
<line x1="452.50" y1="446.5" x2="452.50" y2="449.7" stroke="#222" stroke-width="1"/>
<line x1="490.50" y1="446.5" x2="490.50" y2="449.7" stroke="#222" stroke-width="1"/>
<text x="86.5" y="478.1" font-size="8.8" text-anchor="middle" font-weight="normal" fill="#222" textLength="51.9" lengthAdjust="spacingAndGlyphs">Naive CD8<tspan dy="-3" font-size="6.2">+</tspan><tspan dy="3"> T</tspan></text>
<line x1="66.9" y1="490.5" x2="106" y2="490.5" stroke="#6a6a6a" stroke-width="0.95"/>
<text x="86.45" y="487.9" font-size="6" text-anchor="middle" font-weight="normal" fill="#333" ><tspan font-style="italic">P</tspan> = .63</text>
<line x1="67.45" y1="497.7" x2="67.45" y2="592.8" stroke="#7d8fbf" stroke-width="0.8"/>
<rect x="54.2" y="506.3" width="26.50" height="61.40" fill="#a4aecf" />
<line x1="54.2" y1="529.4" x2="80.7" y2="529.4" stroke="#2a4a8c" stroke-width="1.5"/>
<line x1="105.25" y1="532.8" x2="105.25" y2="569.7" stroke="#d25a5a" stroke-width="0.8"/>
<rect x="91.7" y="536" width="27.10" height="30.30" fill="#eea59c" />
<line x1="91.7" y1="540" x2="118.8" y2="540" stroke="#d42a2a" stroke-width="1.5"/>
<circle cx="64" cy="497.1" r="1.25" fill="#14224d"/>
<circle cx="72.1" cy="506.3" r="1.25" fill="#14224d"/>
<circle cx="66.3" cy="529.4" r="1.25" fill="#14224d"/>
<circle cx="73.5" cy="567.7" r="1.25" fill="#14224d"/>
<circle cx="74.4" cy="592.8" r="1.25" fill="#14224d"/>
<circle cx="106.1" cy="532.8" r="1.25" fill="#7e1422"/>
<circle cx="105.2" cy="535.1" r="1.25" fill="#7e1422"/>
<circle cx="98.6" cy="539.5" r="1.25" fill="#7e1422"/>
<circle cx="106.1" cy="569.7" r="1.25" fill="#7e1422"/>
<circle cx="111" cy="566.3" r="1.25" fill="#7e1422"/>
<line x1="44.5" y1="492.8" x2="44.5" y2="599.0" stroke="#222" stroke-width="1.2"/>
<line x1="43.9" y1="598.5" x2="127.5" y2="598.5" stroke="#222" stroke-width="1.2"/>
<line x1="41.3" y1="524.5" x2="44.5" y2="524.5" stroke="#222" stroke-width="1"/>
<text x="38.2" y="526.5" font-size="6.5" text-anchor="end" font-weight="normal" fill="#222" >0.3</text>
<line x1="41.3" y1="562.5" x2="44.5" y2="562.5" stroke="#222" stroke-width="1"/>
<text x="38.2" y="564.8" font-size="6.5" text-anchor="end" font-weight="normal" fill="#222" >0.2</text>
<line x1="67.50" y1="598.5" x2="67.50" y2="601.7" stroke="#222" stroke-width="1"/>
<text x="67.50" y="609.6" font-size="6.6" text-anchor="middle" font-weight="normal" fill="#222" >HA</text>
<line x1="105.50" y1="598.5" x2="105.50" y2="601.7" stroke="#222" stroke-width="1"/>
<text x="105.50" y="609.6" font-size="6.6" text-anchor="middle" font-weight="normal" fill="#222" >HB</text>
<text x="210.7" y="478.1" font-size="8.8" text-anchor="middle" font-weight="normal" fill="#222" textLength="40.4" lengthAdjust="spacingAndGlyphs">CD8<tspan dy="-3" font-size="6.2">+</tspan><tspan dy="3"> CTL</tspan></text>
<line x1="192" y1="490.5" x2="229.5" y2="490.5" stroke="#6a6a6a" stroke-width="0.95"/>
<text x="210.75" y="487.9" font-size="6" text-anchor="middle" font-weight="normal" fill="#333" ><tspan font-style="italic">P</tspan> = .97</text>
<line x1="191.70" y1="527.9" x2="191.70" y2="585.6" stroke="#7d8fbf" stroke-width="0.8"/>
<rect x="178.4" y="533.7" width="26.60" height="38.00" fill="#a4aecf" />
<line x1="178.4" y1="566" x2="205" y2="566" stroke="#2a4a8c" stroke-width="1.5"/>
<line x1="229.45" y1="497.7" x2="229.45" y2="592.8" stroke="#d25a5a" stroke-width="0.8"/>
<rect x="216.5" y="546.1" width="25.90" height="37.20" fill="#eea59c" />
<line x1="216.5" y1="569.7" x2="242.4" y2="569.7" stroke="#d42a2a" stroke-width="1.5"/>
<circle cx="198.3" cy="527.9" r="1.25" fill="#14224d"/>
<circle cx="190" cy="533.1" r="1.25" fill="#14224d"/>
<circle cx="195.7" cy="566" r="1.25" fill="#14224d"/>
<circle cx="197.7" cy="571.7" r="1.25" fill="#14224d"/>
<circle cx="188.5" cy="585.6" r="1.25" fill="#14224d"/>
<circle cx="230" cy="497.7" r="1.25" fill="#7e1422"/>
<circle cx="230" cy="546.1" r="1.25" fill="#7e1422"/>
<circle cx="228.9" cy="568.9" r="1.25" fill="#7e1422"/>
<circle cx="235.2" cy="584.1" r="1.25" fill="#7e1422"/>
<circle cx="222.8" cy="592.2" r="1.25" fill="#7e1422"/>
<line x1="168.5" y1="493.3" x2="168.5" y2="599.0" stroke="#222" stroke-width="1.2"/>
<line x1="167.9" y1="598.5" x2="251.5" y2="598.5" stroke="#222" stroke-width="1.2"/>
<line x1="165.3" y1="499.5" x2="168.5" y2="499.5" stroke="#222" stroke-width="1"/>
<text x="162.2" y="502.0" font-size="6.5" text-anchor="end" font-weight="normal" fill="#222" >0.16</text>
<line x1="165.3" y1="520.5" x2="168.5" y2="520.5" stroke="#222" stroke-width="1"/>
<text x="162.2" y="522.4" font-size="6.5" text-anchor="end" font-weight="normal" fill="#222" >0.14</text>
<line x1="165.3" y1="540.5" x2="168.5" y2="540.5" stroke="#222" stroke-width="1"/>
<text x="162.2" y="543.1999999999999" font-size="6.5" text-anchor="end" font-weight="normal" fill="#222" >0.12</text>
<line x1="165.3" y1="561.5" x2="168.5" y2="561.5" stroke="#222" stroke-width="1"/>
<text x="162.2" y="563.9" font-size="6.5" text-anchor="end" font-weight="normal" fill="#222" >0.10</text>
<line x1="165.3" y1="582.5" x2="168.5" y2="582.5" stroke="#222" stroke-width="1"/>
<text x="162.2" y="584.4" font-size="6.5" text-anchor="end" font-weight="normal" fill="#222" >0.08</text>
<line x1="191.50" y1="598.5" x2="191.50" y2="601.7" stroke="#222" stroke-width="1"/>
<text x="191.50" y="609.6" font-size="6.6" text-anchor="middle" font-weight="normal" fill="#222" >HA</text>
<line x1="229.50" y1="598.5" x2="229.50" y2="601.7" stroke="#222" stroke-width="1"/>
<text x="229.50" y="609.6" font-size="6.6" text-anchor="middle" font-weight="normal" fill="#222" >HB</text>
<text x="341.5" y="478.1" font-size="8.8" text-anchor="middle" font-weight="normal" fill="#222" textLength="44.7" lengthAdjust="spacingAndGlyphs">Exhausted T</text>
<line x1="322" y1="490.5" x2="360" y2="490.5" stroke="#6a6a6a" stroke-width="0.95"/>
<text x="341.0" y="487.9" font-size="6" text-anchor="middle" font-weight="normal" fill="#333" ><tspan font-style="italic">P</tspan> = .34</text>
<line x1="322.25" y1="531.4" x2="322.25" y2="552.4" stroke="#7d8fbf" stroke-width="0.8"/>
<rect x="309" y="531.4" width="26.50" height="21.00" fill="#a4aecf" />
<line x1="309" y1="534.3" x2="335.5" y2="534.3" stroke="#2a4a8c" stroke-width="1.5"/>
<line x1="360.05" y1="522.2" x2="360.05" y2="592.8" stroke="#d25a5a" stroke-width="0.8"/>
<rect x="347.1" y="542.3" width="25.90" height="41.80" fill="#eea59c" />
<line x1="347.1" y1="570.3" x2="373" y2="570.3" stroke="#d42a2a" stroke-width="1.5"/>
<circle cx="326.9" cy="497.1" r="1.25" fill="#14224d"/>
<circle cx="328.3" cy="531.4" r="1.25" fill="#14224d"/>
<circle cx="319.1" cy="533.7" r="1.25" fill="#14224d"/>
<circle cx="321.1" cy="552.4" r="1.25" fill="#14224d"/>
<circle cx="328.6" cy="592.8" r="1.25" fill="#14224d"/>
<circle cx="360.3" cy="522.2" r="1.25" fill="#7e1422"/>
<circle cx="352.8" cy="541.8" r="1.25" fill="#7e1422"/>
<circle cx="358.9" cy="569.7" r="1.25" fill="#7e1422"/>
<circle cx="365.8" cy="584.1" r="1.25" fill="#7e1422"/>
<circle cx="360.9" cy="592.8" r="1.25" fill="#7e1422"/>
<line x1="299.5" y1="493.3" x2="299.5" y2="599.0" stroke="#222" stroke-width="1.2"/>
<line x1="298.9" y1="598.5" x2="382.5" y2="598.5" stroke="#222" stroke-width="1.2"/>
<line x1="296.3" y1="521.5" x2="299.5" y2="521.5" stroke="#222" stroke-width="1"/>
<text x="293.2" y="523.5999999999999" font-size="6.5" text-anchor="end" font-weight="normal" fill="#222" >0.08</text>
<line x1="296.3" y1="551.5" x2="299.5" y2="551.5" stroke="#222" stroke-width="1"/>
<text x="293.2" y="554.0999999999999" font-size="6.5" text-anchor="end" font-weight="normal" fill="#222" >0.06</text>
<line x1="296.3" y1="582.5" x2="299.5" y2="582.5" stroke="#222" stroke-width="1"/>
<text x="293.2" y="585.0" font-size="6.5" text-anchor="end" font-weight="normal" fill="#222" >0.04</text>
<line x1="322.50" y1="598.5" x2="322.50" y2="601.7" stroke="#222" stroke-width="1"/>
<text x="322.50" y="609.6" font-size="6.6" text-anchor="middle" font-weight="normal" fill="#222" >HA</text>
<line x1="360.50" y1="598.5" x2="360.50" y2="601.7" stroke="#222" stroke-width="1"/>
<text x="360.50" y="609.6" font-size="6.6" text-anchor="middle" font-weight="normal" fill="#222" >HB</text>
<text x="472" y="478.1" font-size="8.8" text-anchor="middle" font-weight="normal" fill="#222" textLength="15" lengthAdjust="spacingAndGlyphs">&#947;&#948; T</text>
<line x1="452" y1="490.5" x2="490" y2="490.5" stroke="#6a6a6a" stroke-width="0.95"/>
<text x="471.0" y="487.9" font-size="6" text-anchor="middle" font-weight="normal" fill="#333" ><tspan font-style="italic">P</tspan> = .47</text>
<line x1="453.15" y1="497.7" x2="453.15" y2="591.3" stroke="#7d8fbf" stroke-width="0.8"/>
<rect x="439.9" y="501.1" width="26.50" height="83.00" fill="#a4aecf" />
<line x1="439.9" y1="519.3" x2="466.4" y2="519.3" stroke="#2a4a8c" stroke-width="1.5"/>
<line x1="491.15" y1="534.6" x2="491.15" y2="573" stroke="#d25a5a" stroke-width="0.8"/>
<rect x="477.9" y="541.8" width="26.50" height="25.90" fill="#eea59c" />
<line x1="477.9" y1="563.4" x2="504.4" y2="563.4" stroke="#d42a2a" stroke-width="1.5"/>
<circle cx="458.3" cy="496.8" r="1.25" fill="#14224d"/>
<circle cx="457.2" cy="501.1" r="1.25" fill="#14224d"/>
<circle cx="451.4" cy="518.7" r="1.25" fill="#14224d"/>
<circle cx="459.2" cy="585.6" r="1.25" fill="#14224d"/>
<circle cx="450" cy="591.3" r="1.25" fill="#14224d"/>
<circle cx="496.7" cy="536" r="1.25" fill="#7e1422"/>
<circle cx="491.5" cy="541.8" r="1.25" fill="#7e1422"/>
<circle cx="483.7" cy="561.9" r="1.25" fill="#7e1422"/>
<circle cx="490.9" cy="568.9" r="1.25" fill="#7e1422"/>
<circle cx="489.5" cy="573.2" r="1.25" fill="#7e1422"/>
<line x1="430.5" y1="493.3" x2="430.5" y2="599.0" stroke="#222" stroke-width="1.2"/>
<line x1="429.9" y1="598.5" x2="513.5" y2="598.5" stroke="#222" stroke-width="1.2"/>
<line x1="427.3" y1="514.5" x2="430.5" y2="514.5" stroke="#222" stroke-width="1"/>
<text x="424.2" y="516.4" font-size="6.5" text-anchor="end" font-weight="normal" fill="#222" >0.075</text>
<line x1="427.3" y1="547.5" x2="430.5" y2="547.5" stroke="#222" stroke-width="1"/>
<text x="424.2" y="549.8" font-size="6.5" text-anchor="end" font-weight="normal" fill="#222" >0.050</text>
<line x1="427.3" y1="581.5" x2="430.5" y2="581.5" stroke="#222" stroke-width="1"/>
<text x="424.2" y="583.5999999999999" font-size="6.5" text-anchor="end" font-weight="normal" fill="#222" >0.025</text>
<line x1="453.50" y1="598.5" x2="453.50" y2="601.7" stroke="#222" stroke-width="1"/>
<text x="453.50" y="609.6" font-size="6.6" text-anchor="middle" font-weight="normal" fill="#222" >HA</text>
<line x1="491.50" y1="598.5" x2="491.50" y2="601.7" stroke="#222" stroke-width="1"/>
<text x="491.50" y="609.6" font-size="6.6" text-anchor="middle" font-weight="normal" fill="#222" >HB</text>
<text x="0" y="0" font-size="8.3" text-anchor="middle" font-weight="normal" fill="#222" transform="translate(21.0,394.3) rotate(-90)" textLength="58" lengthAdjust="spacingAndGlyphs">Ratio of T cell subsets</text>
<text x="0" y="0" font-size="8.3" text-anchor="middle" font-weight="normal" fill="#222" transform="translate(24.5,545.0) rotate(-90)" textLength="58" lengthAdjust="spacingAndGlyphs">Ratio of T cell subsets</text>
<rect x="0.55" y="0.55" width="518.9" height="616.9" fill="none" stroke="#5e5e5e" stroke-width="1.15"/>
</svg>
</body></html>
